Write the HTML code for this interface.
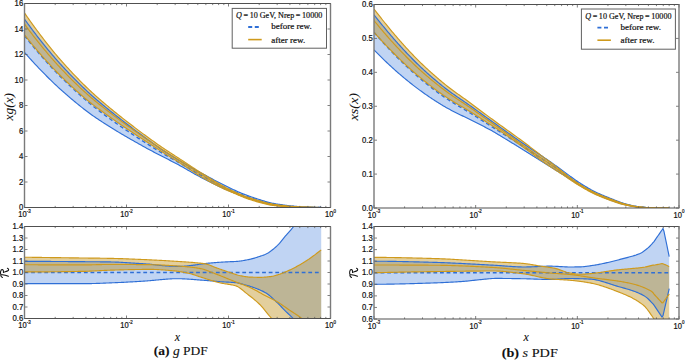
<!DOCTYPE html>
<html><head><meta charset="utf-8"><style>
html,body{margin:0;padding:0;background:#fff;}
svg{display:block;font-family:"Liberation Sans",sans-serif;}
text{stroke:#111;stroke-width:0.22px;}
</style></head><body>
<svg width="685" height="360" viewBox="0 0 685 360">
<rect width="685" height="360" fill="#fff"/>
<defs>
<clipPath id="ctL"><rect x="24.5" y="3.5" width="306.0" height="204.0"/></clipPath>
<clipPath id="crL"><rect x="24.5" y="226.5" width="306.0" height="92.0"/></clipPath>
<clipPath id="ctR"><rect x="374.0" y="4.5" width="305.0" height="203.5"/></clipPath>
<clipPath id="crR"><rect x="374.0" y="226.5" width="305.0" height="92.5"/></clipPath>
</defs>
<g clip-path="url(#ctL)">
<path d="M24.5,19.1 L25.5,20.48 L26.5,21.86 L27.5,23.24 L28.5,24.6 L29.5,25.96 L30.5,27.31 L31.5,28.66 L32.5,29.99 L33.5,31.32 L34.5,32.64 L35.5,33.95 L36.5,35.25 L37.5,36.54 L38.5,37.82 L39.5,39.09 L40.5,40.35 L41.5,41.61 L42.5,42.87 L43.5,44.11 L44.5,45.36 L45.5,46.59 L46.5,47.82 L47.5,49.05 L48.5,50.26 L49.5,51.47 L50.5,52.67 L51.5,53.86 L52.5,55.05 L53.5,56.22 L54.5,57.39 L55.5,58.54 L56.5,59.69 L57.5,60.82 L58.5,61.95 L59.5,63.06 L60.5,64.16 L61.5,65.25 L62.5,66.34 L63.5,67.42 L64.5,68.5 L65.5,69.57 L66.5,70.64 L67.5,71.7 L68.5,72.75 L69.5,73.8 L70.5,74.84 L71.5,75.87 L72.5,76.9 L73.5,77.92 L74.5,78.94 L75.5,79.95 L76.5,80.95 L77.5,81.95 L78.5,82.94 L79.5,83.92 L80.5,84.9 L81.5,85.87 L82.5,86.84 L83.5,87.79 L84.5,88.75 L85.5,89.69 L86.5,90.63 L87.5,91.56 L88.5,92.48 L89.5,93.4 L90.5,94.31 L91.5,95.22 L92.5,96.11 L93.5,96.99 L94.5,97.87 L95.5,98.74 L96.5,99.6 L97.5,100.45 L98.5,101.3 L99.5,102.14 L100.5,102.98 L101.5,103.81 L102.5,104.64 L103.5,105.46 L104.5,106.28 L105.5,107.09 L106.5,107.91 L107.5,108.72 L108.5,109.53 L109.5,110.33 L110.5,111.14 L111.5,111.94 L112.5,112.74 L113.5,113.55 L114.5,114.34 L115.5,115.14 L116.5,115.93 L117.5,116.73 L118.5,117.52 L119.5,118.3 L120.5,119.09 L121.5,119.87 L122.5,120.65 L123.5,121.43 L124.5,122.21 L125.5,122.98 L126.5,123.75 L127.5,124.52 L128.5,125.29 L129.5,126.05 L130.5,126.82 L131.5,127.58 L132.5,128.34 L133.5,129.09 L134.5,129.85 L135.5,130.6 L136.5,131.35 L137.5,132.09 L138.5,132.83 L139.5,133.57 L140.5,134.3 L141.5,135.04 L142.5,135.77 L143.5,136.49 L144.5,137.22 L145.5,137.94 L146.5,138.67 L147.5,139.39 L148.5,140.1 L149.5,140.82 L150.5,141.54 L151.5,142.26 L152.5,142.98 L153.5,143.7 L154.5,144.42 L155.5,145.14 L156.5,145.86 L157.5,146.57 L158.5,147.28 L159.5,147.98 L160.5,148.68 L161.5,149.36 L162.5,150.04 L163.5,150.7 L164.5,151.35 L165.5,151.99 L166.5,152.62 L167.5,153.25 L168.5,153.88 L169.5,154.5 L170.5,155.13 L171.5,155.74 L172.5,156.36 L173.5,156.97 L174.5,157.58 L175.5,158.19 L176.5,158.8 L177.5,159.4 L178.5,160.01 L179.5,160.61 L180.5,161.21 L181.5,161.81 L182.5,162.41 L183.5,163 L184.5,163.58 L185.5,164.17 L186.5,164.75 L187.5,165.33 L188.5,165.91 L189.5,166.49 L190.5,167.07 L191.5,167.65 L192.5,168.23 L193.5,168.8 L194.5,169.37 L195.5,169.93 L196.5,170.48 L197.5,171.03 L198.5,171.57 L199.5,172.11 L200.5,172.64 L201.5,173.17 L202.5,173.71 L203.5,174.24 L204.5,174.78 L205.5,175.33 L206.5,175.87 L207.5,176.42 L208.5,176.96 L209.5,177.5 L210.5,178.04 L211.5,178.58 L212.5,179.12 L213.5,179.66 L214.5,180.19 L215.5,180.72 L216.5,181.25 L217.5,181.77 L218.5,182.3 L219.5,182.81 L220.5,183.33 L221.5,183.84 L222.5,184.35 L223.5,184.85 L224.5,185.35 L225.5,185.84 L226.5,186.33 L227.5,186.81 L228.5,187.29 L229.5,187.76 L230.5,188.23 L231.5,188.71 L232.5,189.18 L233.5,189.65 L234.5,190.11 L235.5,190.57 L236.5,191.03 L237.5,191.47 L238.5,191.91 L239.5,192.35 L240.5,192.77 L241.5,193.19 L242.5,193.6 L243.5,194.01 L244.5,194.4 L245.5,194.79 L246.5,195.16 L247.5,195.53 L248.5,195.89 L249.5,196.24 L250.5,196.58 L251.5,196.92 L252.5,197.26 L253.5,197.59 L254.5,197.93 L255.5,198.27 L256.5,198.6 L257.5,198.93 L258.5,199.26 L259.5,199.59 L260.5,199.92 L261.5,200.24 L262.5,200.55 L263.5,200.86 L264.5,201.16 L265.5,201.45 L266.5,201.74 L267.5,202.01 L268.5,202.28 L269.5,202.53 L270.5,202.77 L271.5,203 L272.5,203.22 L273.5,203.43 L274.5,203.62 L275.5,203.8 L276.5,203.97 L277.5,204.12 L278.5,204.27 L279.5,204.41 L280.5,204.55 L281.5,204.69 L282.5,204.83 L283.5,204.97 L284.5,205.1 L285.5,205.23 L286.5,205.36 L287.5,205.49 L288.5,205.61 L289.5,205.73 L290.5,205.85 L291.5,205.96 L292.5,206.06 L293.5,206.16 L294.5,206.26 L295.5,206.35 L296.5,206.43 L297.5,206.5 L298.5,206.57 L299.5,206.63 L300.5,206.68 L301.5,206.73 L302.5,206.79 L303.5,206.84 L304.5,206.89 L305.5,206.94 L306.5,206.99 L307.5,207.04 L308.5,207.09 L309.5,207.13 L310.5,207.17 L311.5,207.22 L312.5,207.25 L313.5,207.29 L314.5,207.32 L315.5,207.35 L316.5,207.38 L317.5,207.4 L318.5,207.41 L319.5,207.43 L320.5,207.43 L321.2,207.43 L321.2,207.49 L320.5,207.49 L319.5,207.49 L318.5,207.48 L317.5,207.48 L316.5,207.47 L315.5,207.47 L314.5,207.46 L313.5,207.45 L312.5,207.44 L311.5,207.43 L310.5,207.41 L309.5,207.4 L308.5,207.38 L307.5,207.37 L306.5,207.35 L305.5,207.33 L304.5,207.31 L303.5,207.28 L302.5,207.26 L301.5,207.23 L300.5,207.21 L299.5,207.18 L298.5,207.15 L297.5,207.11 L296.5,207.07 L295.5,207.03 L294.5,206.98 L293.5,206.93 L292.5,206.87 L291.5,206.81 L290.5,206.75 L289.5,206.68 L288.5,206.6 L287.5,206.53 L286.5,206.44 L285.5,206.36 L284.5,206.26 L283.5,206.17 L282.5,206.06 L281.5,205.96 L280.5,205.85 L279.5,205.73 L278.5,205.61 L277.5,205.49 L276.5,205.36 L275.5,205.22 L274.5,205.07 L273.5,204.9 L272.5,204.72 L271.5,204.54 L270.5,204.34 L269.5,204.13 L268.5,203.91 L267.5,203.68 L266.5,203.44 L265.5,203.2 L264.5,202.95 L263.5,202.69 L262.5,202.43 L261.5,202.16 L260.5,201.88 L259.5,201.6 L258.5,201.31 L257.5,201.02 L256.5,200.73 L255.5,200.43 L254.5,200.13 L253.5,199.82 L252.5,199.52 L251.5,199.21 L250.5,198.9 L249.5,198.59 L248.5,198.28 L247.5,197.95 L246.5,197.61 L245.5,197.27 L244.5,196.91 L243.5,196.55 L242.5,196.17 L241.5,195.79 L240.5,195.4 L239.5,195.01 L238.5,194.62 L237.5,194.22 L236.5,193.82 L235.5,193.42 L234.5,193.02 L233.5,192.61 L232.5,192.21 L231.5,191.8 L230.5,191.39 L229.5,190.98 L228.5,190.57 L227.5,190.15 L226.5,189.73 L225.5,189.31 L224.5,188.88 L223.5,188.44 L222.5,188 L221.5,187.55 L220.5,187.09 L219.5,186.63 L218.5,186.17 L217.5,185.7 L216.5,185.22 L215.5,184.74 L214.5,184.25 L213.5,183.76 L212.5,183.27 L211.5,182.77 L210.5,182.27 L209.5,181.77 L208.5,181.26 L207.5,180.75 L206.5,180.24 L205.5,179.73 L204.5,179.21 L203.5,178.7 L202.5,178.18 L201.5,177.66 L200.5,177.14 L199.5,176.61 L198.5,176.08 L197.5,175.54 L196.5,174.99 L195.5,174.44 L194.5,173.89 L193.5,173.33 L192.5,172.76 L191.5,172.19 L190.5,171.62 L189.5,171.05 L188.5,170.48 L187.5,169.9 L186.5,169.33 L185.5,168.76 L184.5,168.19 L183.5,167.62 L182.5,167.05 L181.5,166.49 L180.5,165.94 L179.5,165.38 L178.5,164.84 L177.5,164.3 L176.5,163.76 L175.5,163.23 L174.5,162.7 L173.5,162.18 L172.5,161.66 L171.5,161.14 L170.5,160.63 L169.5,160.12 L168.5,159.61 L167.5,159.1 L166.5,158.6 L165.5,158.09 L164.5,157.58 L163.5,157.07 L162.5,156.56 L161.5,156.05 L160.5,155.53 L159.5,155.02 L158.5,154.5 L157.5,153.98 L156.5,153.46 L155.5,152.93 L154.5,152.41 L153.5,151.88 L152.5,151.36 L151.5,150.83 L150.5,150.3 L149.5,149.76 L148.5,149.22 L147.5,148.68 L146.5,148.14 L145.5,147.59 L144.5,147.04 L143.5,146.48 L142.5,145.92 L141.5,145.36 L140.5,144.8 L139.5,144.24 L138.5,143.68 L137.5,143.12 L136.5,142.55 L135.5,141.99 L134.5,141.42 L133.5,140.85 L132.5,140.28 L131.5,139.71 L130.5,139.14 L129.5,138.56 L128.5,137.99 L127.5,137.41 L126.5,136.84 L125.5,136.26 L124.5,135.68 L123.5,135.09 L122.5,134.51 L121.5,133.92 L120.5,133.33 L119.5,132.73 L118.5,132.13 L117.5,131.53 L116.5,130.92 L115.5,130.31 L114.5,129.7 L113.5,129.08 L112.5,128.46 L111.5,127.84 L110.5,127.21 L109.5,126.58 L108.5,125.95 L107.5,125.32 L106.5,124.69 L105.5,124.06 L104.5,123.42 L103.5,122.78 L102.5,122.13 L101.5,121.49 L100.5,120.84 L99.5,120.18 L98.5,119.52 L97.5,118.85 L96.5,118.18 L95.5,117.5 L94.5,116.81 L93.5,116.12 L92.5,115.41 L91.5,114.7 L90.5,113.98 L89.5,113.25 L88.5,112.51 L87.5,111.76 L86.5,111.01 L85.5,110.25 L84.5,109.47 L83.5,108.7 L82.5,107.91 L81.5,107.12 L80.5,106.33 L79.5,105.53 L78.5,104.72 L77.5,103.91 L76.5,103.1 L75.5,102.28 L74.5,101.45 L73.5,100.62 L72.5,99.78 L71.5,98.94 L70.5,98.1 L69.5,97.25 L68.5,96.39 L67.5,95.53 L66.5,94.66 L65.5,93.79 L64.5,92.92 L63.5,92.04 L62.5,91.15 L61.5,90.26 L60.5,89.36 L59.5,88.46 L58.5,87.55 L57.5,86.63 L56.5,85.7 L55.5,84.76 L54.5,83.82 L53.5,82.86 L52.5,81.9 L51.5,80.93 L50.5,79.95 L49.5,78.97 L48.5,77.98 L47.5,76.98 L46.5,75.98 L45.5,74.97 L44.5,73.96 L43.5,72.94 L42.5,71.92 L41.5,70.89 L40.5,69.86 L39.5,68.82 L38.5,67.78 L37.5,66.73 L36.5,65.67 L35.5,64.6 L34.5,63.53 L33.5,62.45 L32.5,61.36 L31.5,60.26 L30.5,59.16 L29.5,58.05 L28.5,56.94 L27.5,55.82 L26.5,54.69 L25.5,53.56 L24.5,52.42 Z" fill="rgba(47,111,214,0.30)" stroke="none"/>
<path d="M24.5,12.92 L25.5,14.36 L26.5,15.81 L27.5,17.24 L28.5,18.67 L29.5,20.09 L30.5,21.5 L31.5,22.9 L32.5,24.29 L33.5,25.67 L34.5,27.05 L35.5,28.41 L36.5,29.77 L37.5,31.11 L38.5,32.45 L39.5,33.77 L40.5,35.09 L41.5,36.4 L42.5,37.7 L43.5,39 L44.5,40.29 L45.5,41.58 L46.5,42.86 L47.5,44.13 L48.5,45.4 L49.5,46.65 L50.5,47.9 L51.5,49.14 L52.5,50.37 L53.5,51.59 L54.5,52.8 L55.5,54 L56.5,55.19 L57.5,56.37 L58.5,57.53 L59.5,58.69 L60.5,59.83 L61.5,60.96 L62.5,62.09 L63.5,63.21 L64.5,64.33 L65.5,65.44 L66.5,66.54 L67.5,67.64 L68.5,68.73 L69.5,69.81 L70.5,70.89 L71.5,71.96 L72.5,73.02 L73.5,74.08 L74.5,75.13 L75.5,76.17 L76.5,77.21 L77.5,78.24 L78.5,79.27 L79.5,80.29 L80.5,81.3 L81.5,82.3 L82.5,83.3 L83.5,84.29 L84.5,85.27 L85.5,86.25 L86.5,87.22 L87.5,88.18 L88.5,89.14 L89.5,90.09 L90.5,91.03 L91.5,91.96 L92.5,92.89 L93.5,93.8 L94.5,94.7 L95.5,95.6 L96.5,96.49 L97.5,97.37 L98.5,98.25 L99.5,99.12 L100.5,99.98 L101.5,100.84 L102.5,101.69 L103.5,102.54 L104.5,103.39 L105.5,104.23 L106.5,105.07 L107.5,105.91 L108.5,106.74 L109.5,107.57 L110.5,108.4 L111.5,109.23 L112.5,110.05 L113.5,110.87 L114.5,111.69 L115.5,112.5 L116.5,113.31 L117.5,114.11 L118.5,114.91 L119.5,115.71 L120.5,116.5 L121.5,117.29 L122.5,118.08 L123.5,118.86 L124.5,119.64 L125.5,120.42 L126.5,121.2 L127.5,121.97 L128.5,122.74 L129.5,123.51 L130.5,124.28 L131.5,125.05 L132.5,125.81 L133.5,126.58 L134.5,127.34 L135.5,128.1 L136.5,128.85 L137.5,129.61 L138.5,130.36 L139.5,131.11 L140.5,131.86 L141.5,132.6 L142.5,133.35 L143.5,134.09 L144.5,134.82 L145.5,135.56 L146.5,136.29 L147.5,137.02 L148.5,137.75 L149.5,138.47 L150.5,139.19 L151.5,139.91 L152.5,140.62 L153.5,141.33 L154.5,142.04 L155.5,142.75 L156.5,143.46 L157.5,144.16 L158.5,144.85 L159.5,145.55 L160.5,146.24 L161.5,146.93 L162.5,147.61 L163.5,148.28 L164.5,148.95 L165.5,149.62 L166.5,150.28 L167.5,150.94 L168.5,151.59 L169.5,152.24 L170.5,152.89 L171.5,153.54 L172.5,154.19 L173.5,154.84 L174.5,155.48 L175.5,156.13 L176.5,156.77 L177.5,157.42 L178.5,158.07 L179.5,158.72 L180.5,159.37 L181.5,160.03 L182.5,160.69 L183.5,161.35 L184.5,162.01 L185.5,162.67 L186.5,163.34 L187.5,164 L188.5,164.67 L189.5,165.33 L190.5,165.99 L191.5,166.65 L192.5,167.3 L193.5,167.95 L194.5,168.6 L195.5,169.25 L196.5,169.88 L197.5,170.52 L198.5,171.14 L199.5,171.76 L200.5,172.37 L201.5,172.98 L202.5,173.59 L203.5,174.21 L204.5,174.82 L205.5,175.44 L206.5,176.06 L207.5,176.69 L208.5,177.33 L209.5,177.98 L210.5,178.63 L211.5,179.28 L212.5,179.92 L213.5,180.55 L214.5,181.17 L215.5,181.78 L216.5,182.37 L217.5,182.96 L218.5,183.55 L219.5,184.12 L220.5,184.69 L221.5,185.25 L222.5,185.8 L223.5,186.34 L224.5,186.88 L225.5,187.41 L226.5,187.92 L227.5,188.43 L228.5,188.93 L229.5,189.43 L230.5,189.92 L231.5,190.4 L232.5,190.89 L233.5,191.37 L234.5,191.84 L235.5,192.3 L236.5,192.76 L237.5,193.21 L238.5,193.64 L239.5,194.07 L240.5,194.48 L241.5,194.89 L242.5,195.29 L243.5,195.68 L244.5,196.06 L245.5,196.43 L246.5,196.79 L247.5,197.14 L248.5,197.47 L249.5,197.8 L250.5,198.11 L251.5,198.42 L252.5,198.73 L253.5,199.04 L254.5,199.35 L255.5,199.65 L256.5,199.96 L257.5,200.26 L258.5,200.56 L259.5,200.85 L260.5,201.14 L261.5,201.42 L262.5,201.7 L263.5,201.97 L264.5,202.23 L265.5,202.49 L266.5,202.74 L267.5,202.98 L268.5,203.21 L269.5,203.44 L270.5,203.65 L271.5,203.85 L272.5,204.04 L273.5,204.22 L274.5,204.39 L275.5,204.55 L276.5,204.69 L277.5,204.82 L278.5,204.95 L279.5,205.07 L280.5,205.2 L281.5,205.32 L282.5,205.43 L283.5,205.55 L284.5,205.66 L285.5,205.77 L286.5,205.88 L287.5,205.98 L288.5,206.08 L289.5,206.17 L290.5,206.26 L291.5,206.35 L292.5,206.43 L293.5,206.51 L294.5,206.58 L295.5,206.65 L296.5,206.71 L297.5,206.77 L298.5,206.82 L299.5,206.87 L300.5,206.91 L301.5,206.95 L302.5,206.99 L303.5,207.02 L304.5,207.06 L305.5,207.1 L306.5,207.14 L307.5,207.17 L308.5,207.21 L309.5,207.24 L310.5,207.27 L311.5,207.3 L312.5,207.33 L313.5,207.35 L314.5,207.38 L315.5,207.4 L316.5,207.41 L317.5,207.43 L318.5,207.44 L319.5,207.45 L320.5,207.45 L321.2,207.45 L321.2,207.49 L320.5,207.49 L319.5,207.49 L318.5,207.49 L317.5,207.49 L316.5,207.48 L315.5,207.48 L314.5,207.47 L313.5,207.47 L312.5,207.46 L311.5,207.45 L310.5,207.44 L309.5,207.43 L308.5,207.42 L307.5,207.41 L306.5,207.4 L305.5,207.39 L304.5,207.37 L303.5,207.36 L302.5,207.34 L301.5,207.32 L300.5,207.31 L299.5,207.29 L298.5,207.27 L297.5,207.24 L296.5,207.21 L295.5,207.18 L294.5,207.15 L293.5,207.11 L292.5,207.07 L291.5,207.03 L290.5,206.98 L289.5,206.93 L288.5,206.87 L287.5,206.81 L286.5,206.75 L285.5,206.68 L284.5,206.61 L283.5,206.54 L282.5,206.46 L281.5,206.38 L280.5,206.29 L279.5,206.2 L278.5,206.1 L277.5,206 L276.5,205.9 L275.5,205.79 L274.5,205.66 L273.5,205.53 L272.5,205.38 L271.5,205.23 L270.5,205.06 L269.5,204.88 L268.5,204.68 L267.5,204.48 L266.5,204.26 L265.5,204.03 L264.5,203.79 L263.5,203.54 L262.5,203.28 L261.5,203.02 L260.5,202.75 L259.5,202.47 L258.5,202.19 L257.5,201.9 L256.5,201.61 L255.5,201.31 L254.5,201.01 L253.5,200.7 L252.5,200.39 L251.5,200.07 L250.5,199.76 L249.5,199.43 L248.5,199.1 L247.5,198.75 L246.5,198.4 L245.5,198.02 L244.5,197.63 L243.5,197.23 L242.5,196.82 L241.5,196.4 L240.5,195.97 L239.5,195.54 L238.5,195.11 L237.5,194.68 L236.5,194.25 L235.5,193.84 L234.5,193.42 L233.5,193.01 L232.5,192.59 L231.5,192.17 L230.5,191.75 L229.5,191.33 L228.5,190.91 L227.5,190.49 L226.5,190.06 L225.5,189.62 L224.5,189.18 L223.5,188.73 L222.5,188.27 L221.5,187.81 L220.5,187.33 L219.5,186.84 L218.5,186.35 L217.5,185.85 L216.5,185.34 L215.5,184.82 L214.5,184.29 L213.5,183.76 L212.5,183.22 L211.5,182.67 L210.5,182.12 L209.5,181.56 L208.5,180.99 L207.5,180.42 L206.5,179.84 L205.5,179.26 L204.5,178.67 L203.5,178.08 L202.5,177.48 L201.5,176.88 L200.5,176.28 L199.5,175.67 L198.5,175.05 L197.5,174.42 L196.5,173.77 L195.5,173.12 L194.5,172.46 L193.5,171.79 L192.5,171.13 L191.5,170.46 L190.5,169.8 L189.5,169.14 L188.5,168.49 L187.5,167.83 L186.5,167.17 L185.5,166.51 L184.5,165.86 L183.5,165.2 L182.5,164.55 L181.5,163.9 L180.5,163.26 L179.5,162.62 L178.5,161.98 L177.5,161.35 L176.5,160.73 L175.5,160.11 L174.5,159.49 L173.5,158.88 L172.5,158.27 L171.5,157.65 L170.5,157.04 L169.5,156.42 L168.5,155.8 L167.5,155.18 L166.5,154.56 L165.5,153.94 L164.5,153.31 L163.5,152.68 L162.5,152.04 L161.5,151.4 L160.5,150.76 L159.5,150.12 L158.5,149.47 L157.5,148.82 L156.5,148.17 L155.5,147.52 L154.5,146.87 L153.5,146.23 L152.5,145.58 L151.5,144.93 L150.5,144.29 L149.5,143.64 L148.5,143 L147.5,142.35 L146.5,141.7 L145.5,141.05 L144.5,140.4 L143.5,139.75 L142.5,139.1 L141.5,138.44 L140.5,137.79 L139.5,137.13 L138.5,136.47 L137.5,135.82 L136.5,135.16 L135.5,134.5 L134.5,133.83 L133.5,133.17 L132.5,132.51 L131.5,131.84 L130.5,131.18 L129.5,130.51 L128.5,129.85 L127.5,129.18 L126.5,128.51 L125.5,127.84 L124.5,127.17 L123.5,126.5 L122.5,125.82 L121.5,125.14 L120.5,124.46 L119.5,123.78 L118.5,123.09 L117.5,122.4 L116.5,121.71 L115.5,121.01 L114.5,120.31 L113.5,119.61 L112.5,118.9 L111.5,118.19 L110.5,117.47 L109.5,116.76 L108.5,116.04 L107.5,115.32 L106.5,114.61 L105.5,113.89 L104.5,113.18 L103.5,112.46 L102.5,111.74 L101.5,111.03 L100.5,110.3 L99.5,109.58 L98.5,108.85 L97.5,108.11 L96.5,107.37 L95.5,106.63 L94.5,105.87 L93.5,105.11 L92.5,104.34 L91.5,103.57 L90.5,102.78 L89.5,101.98 L88.5,101.17 L87.5,100.36 L86.5,99.53 L85.5,98.7 L84.5,97.85 L83.5,97 L82.5,96.14 L81.5,95.27 L80.5,94.4 L79.5,93.52 L78.5,92.63 L77.5,91.75 L76.5,90.85 L75.5,89.95 L74.5,89.04 L73.5,88.13 L72.5,87.21 L71.5,86.29 L70.5,85.36 L69.5,84.42 L68.5,83.48 L67.5,82.54 L66.5,81.59 L65.5,80.63 L64.5,79.67 L63.5,78.7 L62.5,77.72 L61.5,76.74 L60.5,75.76 L59.5,74.77 L58.5,73.77 L57.5,72.75 L56.5,71.73 L55.5,70.7 L54.5,69.66 L53.5,68.6 L52.5,67.54 L51.5,66.47 L50.5,65.4 L49.5,64.31 L48.5,63.22 L47.5,62.12 L46.5,61.01 L45.5,59.9 L44.5,58.78 L43.5,57.65 L42.5,56.52 L41.5,55.39 L40.5,54.25 L39.5,53.1 L38.5,51.95 L37.5,50.78 L36.5,49.61 L35.5,48.43 L34.5,47.24 L33.5,46.04 L32.5,44.83 L31.5,43.62 L30.5,42.4 L29.5,41.16 L28.5,39.93 L27.5,38.68 L26.5,37.43 L25.5,36.17 L24.5,34.9 Z" fill="rgba(184,134,11,0.40)" stroke="none"/>
<path d="M24.5,19.1 L25.5,20.48 L26.5,21.86 L27.5,23.24 L28.5,24.6 L29.5,25.96 L30.5,27.31 L31.5,28.66 L32.5,29.99 L33.5,31.32 L34.5,32.64 L35.5,33.95 L36.5,35.25 L37.5,36.54 L38.5,37.82 L39.5,39.09 L40.5,40.35 L41.5,41.61 L42.5,42.87 L43.5,44.11 L44.5,45.36 L45.5,46.59 L46.5,47.82 L47.5,49.05 L48.5,50.26 L49.5,51.47 L50.5,52.67 L51.5,53.86 L52.5,55.05 L53.5,56.22 L54.5,57.39 L55.5,58.54 L56.5,59.69 L57.5,60.82 L58.5,61.95 L59.5,63.06 L60.5,64.16 L61.5,65.25 L62.5,66.34 L63.5,67.42 L64.5,68.5 L65.5,69.57 L66.5,70.64 L67.5,71.7 L68.5,72.75 L69.5,73.8 L70.5,74.84 L71.5,75.87 L72.5,76.9 L73.5,77.92 L74.5,78.94 L75.5,79.95 L76.5,80.95 L77.5,81.95 L78.5,82.94 L79.5,83.92 L80.5,84.9 L81.5,85.87 L82.5,86.84 L83.5,87.79 L84.5,88.75 L85.5,89.69 L86.5,90.63 L87.5,91.56 L88.5,92.48 L89.5,93.4 L90.5,94.31 L91.5,95.22 L92.5,96.11 L93.5,96.99 L94.5,97.87 L95.5,98.74 L96.5,99.6 L97.5,100.45 L98.5,101.3 L99.5,102.14 L100.5,102.98 L101.5,103.81 L102.5,104.64 L103.5,105.46 L104.5,106.28 L105.5,107.09 L106.5,107.91 L107.5,108.72 L108.5,109.53 L109.5,110.33 L110.5,111.14 L111.5,111.94 L112.5,112.74 L113.5,113.55 L114.5,114.34 L115.5,115.14 L116.5,115.93 L117.5,116.73 L118.5,117.52 L119.5,118.3 L120.5,119.09 L121.5,119.87 L122.5,120.65 L123.5,121.43 L124.5,122.21 L125.5,122.98 L126.5,123.75 L127.5,124.52 L128.5,125.29 L129.5,126.05 L130.5,126.82 L131.5,127.58 L132.5,128.34 L133.5,129.09 L134.5,129.85 L135.5,130.6 L136.5,131.35 L137.5,132.09 L138.5,132.83 L139.5,133.57 L140.5,134.3 L141.5,135.04 L142.5,135.77 L143.5,136.49 L144.5,137.22 L145.5,137.94 L146.5,138.67 L147.5,139.39 L148.5,140.1 L149.5,140.82 L150.5,141.54 L151.5,142.26 L152.5,142.98 L153.5,143.7 L154.5,144.42 L155.5,145.14 L156.5,145.86 L157.5,146.57 L158.5,147.28 L159.5,147.98 L160.5,148.68 L161.5,149.36 L162.5,150.04 L163.5,150.7 L164.5,151.35 L165.5,151.99 L166.5,152.62 L167.5,153.25 L168.5,153.88 L169.5,154.5 L170.5,155.13 L171.5,155.74 L172.5,156.36 L173.5,156.97 L174.5,157.58 L175.5,158.19 L176.5,158.8 L177.5,159.4 L178.5,160.01 L179.5,160.61 L180.5,161.21 L181.5,161.81 L182.5,162.41 L183.5,163 L184.5,163.58 L185.5,164.17 L186.5,164.75 L187.5,165.33 L188.5,165.91 L189.5,166.49 L190.5,167.07 L191.5,167.65 L192.5,168.23 L193.5,168.8 L194.5,169.37 L195.5,169.93 L196.5,170.48 L197.5,171.03 L198.5,171.57 L199.5,172.11 L200.5,172.64 L201.5,173.17 L202.5,173.71 L203.5,174.24 L204.5,174.78 L205.5,175.33 L206.5,175.87 L207.5,176.42 L208.5,176.96 L209.5,177.5 L210.5,178.04 L211.5,178.58 L212.5,179.12 L213.5,179.66 L214.5,180.19 L215.5,180.72 L216.5,181.25 L217.5,181.77 L218.5,182.3 L219.5,182.81 L220.5,183.33 L221.5,183.84 L222.5,184.35 L223.5,184.85 L224.5,185.35 L225.5,185.84 L226.5,186.33 L227.5,186.81 L228.5,187.29 L229.5,187.76 L230.5,188.23 L231.5,188.71 L232.5,189.18 L233.5,189.65 L234.5,190.11 L235.5,190.57 L236.5,191.03 L237.5,191.47 L238.5,191.91 L239.5,192.35 L240.5,192.77 L241.5,193.19 L242.5,193.6 L243.5,194.01 L244.5,194.4 L245.5,194.79 L246.5,195.16 L247.5,195.53 L248.5,195.89 L249.5,196.24 L250.5,196.58 L251.5,196.92 L252.5,197.26 L253.5,197.59 L254.5,197.93 L255.5,198.27 L256.5,198.6 L257.5,198.93 L258.5,199.26 L259.5,199.59 L260.5,199.92 L261.5,200.24 L262.5,200.55 L263.5,200.86 L264.5,201.16 L265.5,201.45 L266.5,201.74 L267.5,202.01 L268.5,202.28 L269.5,202.53 L270.5,202.77 L271.5,203 L272.5,203.22 L273.5,203.43 L274.5,203.62 L275.5,203.8 L276.5,203.97 L277.5,204.12 L278.5,204.27 L279.5,204.41 L280.5,204.55 L281.5,204.69 L282.5,204.83 L283.5,204.97 L284.5,205.1 L285.5,205.23 L286.5,205.36 L287.5,205.49 L288.5,205.61 L289.5,205.73 L290.5,205.85 L291.5,205.96 L292.5,206.06 L293.5,206.16 L294.5,206.26 L295.5,206.35 L296.5,206.43 L297.5,206.5 L298.5,206.57 L299.5,206.63 L300.5,206.68 L301.5,206.73 L302.5,206.79 L303.5,206.84 L304.5,206.89 L305.5,206.94 L306.5,206.99 L307.5,207.04 L308.5,207.09 L309.5,207.13 L310.5,207.17 L311.5,207.22 L312.5,207.25 L313.5,207.29 L314.5,207.32 L315.5,207.35 L316.5,207.38 L317.5,207.4 L318.5,207.41 L319.5,207.43 L320.5,207.43 L321.2,207.43" fill="none" stroke="#2f6fd6" stroke-width="1.15"/>
<path d="M24.5,52.42 L25.5,53.56 L26.5,54.69 L27.5,55.82 L28.5,56.94 L29.5,58.05 L30.5,59.16 L31.5,60.26 L32.5,61.36 L33.5,62.45 L34.5,63.53 L35.5,64.6 L36.5,65.67 L37.5,66.73 L38.5,67.78 L39.5,68.82 L40.5,69.86 L41.5,70.89 L42.5,71.92 L43.5,72.94 L44.5,73.96 L45.5,74.97 L46.5,75.98 L47.5,76.98 L48.5,77.98 L49.5,78.97 L50.5,79.95 L51.5,80.93 L52.5,81.9 L53.5,82.86 L54.5,83.82 L55.5,84.76 L56.5,85.7 L57.5,86.63 L58.5,87.55 L59.5,88.46 L60.5,89.36 L61.5,90.26 L62.5,91.15 L63.5,92.04 L64.5,92.92 L65.5,93.79 L66.5,94.66 L67.5,95.53 L68.5,96.39 L69.5,97.25 L70.5,98.1 L71.5,98.94 L72.5,99.78 L73.5,100.62 L74.5,101.45 L75.5,102.28 L76.5,103.1 L77.5,103.91 L78.5,104.72 L79.5,105.53 L80.5,106.33 L81.5,107.12 L82.5,107.91 L83.5,108.7 L84.5,109.47 L85.5,110.25 L86.5,111.01 L87.5,111.76 L88.5,112.51 L89.5,113.25 L90.5,113.98 L91.5,114.7 L92.5,115.41 L93.5,116.12 L94.5,116.81 L95.5,117.5 L96.5,118.18 L97.5,118.85 L98.5,119.52 L99.5,120.18 L100.5,120.84 L101.5,121.49 L102.5,122.13 L103.5,122.78 L104.5,123.42 L105.5,124.06 L106.5,124.69 L107.5,125.32 L108.5,125.95 L109.5,126.58 L110.5,127.21 L111.5,127.84 L112.5,128.46 L113.5,129.08 L114.5,129.7 L115.5,130.31 L116.5,130.92 L117.5,131.53 L118.5,132.13 L119.5,132.73 L120.5,133.33 L121.5,133.92 L122.5,134.51 L123.5,135.09 L124.5,135.68 L125.5,136.26 L126.5,136.84 L127.5,137.41 L128.5,137.99 L129.5,138.56 L130.5,139.14 L131.5,139.71 L132.5,140.28 L133.5,140.85 L134.5,141.42 L135.5,141.99 L136.5,142.55 L137.5,143.12 L138.5,143.68 L139.5,144.24 L140.5,144.8 L141.5,145.36 L142.5,145.92 L143.5,146.48 L144.5,147.04 L145.5,147.59 L146.5,148.14 L147.5,148.68 L148.5,149.22 L149.5,149.76 L150.5,150.3 L151.5,150.83 L152.5,151.36 L153.5,151.88 L154.5,152.41 L155.5,152.93 L156.5,153.46 L157.5,153.98 L158.5,154.5 L159.5,155.02 L160.5,155.53 L161.5,156.05 L162.5,156.56 L163.5,157.07 L164.5,157.58 L165.5,158.09 L166.5,158.6 L167.5,159.1 L168.5,159.61 L169.5,160.12 L170.5,160.63 L171.5,161.14 L172.5,161.66 L173.5,162.18 L174.5,162.7 L175.5,163.23 L176.5,163.76 L177.5,164.3 L178.5,164.84 L179.5,165.38 L180.5,165.94 L181.5,166.49 L182.5,167.05 L183.5,167.62 L184.5,168.19 L185.5,168.76 L186.5,169.33 L187.5,169.9 L188.5,170.48 L189.5,171.05 L190.5,171.62 L191.5,172.19 L192.5,172.76 L193.5,173.33 L194.5,173.89 L195.5,174.44 L196.5,174.99 L197.5,175.54 L198.5,176.08 L199.5,176.61 L200.5,177.14 L201.5,177.66 L202.5,178.18 L203.5,178.7 L204.5,179.21 L205.5,179.73 L206.5,180.24 L207.5,180.75 L208.5,181.26 L209.5,181.77 L210.5,182.27 L211.5,182.77 L212.5,183.27 L213.5,183.76 L214.5,184.25 L215.5,184.74 L216.5,185.22 L217.5,185.7 L218.5,186.17 L219.5,186.63 L220.5,187.09 L221.5,187.55 L222.5,188 L223.5,188.44 L224.5,188.88 L225.5,189.31 L226.5,189.73 L227.5,190.15 L228.5,190.57 L229.5,190.98 L230.5,191.39 L231.5,191.8 L232.5,192.21 L233.5,192.61 L234.5,193.02 L235.5,193.42 L236.5,193.82 L237.5,194.22 L238.5,194.62 L239.5,195.01 L240.5,195.4 L241.5,195.79 L242.5,196.17 L243.5,196.55 L244.5,196.91 L245.5,197.27 L246.5,197.61 L247.5,197.95 L248.5,198.28 L249.5,198.59 L250.5,198.9 L251.5,199.21 L252.5,199.52 L253.5,199.82 L254.5,200.13 L255.5,200.43 L256.5,200.73 L257.5,201.02 L258.5,201.31 L259.5,201.6 L260.5,201.88 L261.5,202.16 L262.5,202.43 L263.5,202.69 L264.5,202.95 L265.5,203.2 L266.5,203.44 L267.5,203.68 L268.5,203.91 L269.5,204.13 L270.5,204.34 L271.5,204.54 L272.5,204.72 L273.5,204.9 L274.5,205.07 L275.5,205.22 L276.5,205.36 L277.5,205.49 L278.5,205.61 L279.5,205.73 L280.5,205.85 L281.5,205.96 L282.5,206.06 L283.5,206.17 L284.5,206.26 L285.5,206.36 L286.5,206.44 L287.5,206.53 L288.5,206.6 L289.5,206.68 L290.5,206.75 L291.5,206.81 L292.5,206.87 L293.5,206.93 L294.5,206.98 L295.5,207.03 L296.5,207.07 L297.5,207.11 L298.5,207.15 L299.5,207.18 L300.5,207.21 L301.5,207.23 L302.5,207.26 L303.5,207.28 L304.5,207.31 L305.5,207.33 L306.5,207.35 L307.5,207.37 L308.5,207.38 L309.5,207.4 L310.5,207.41 L311.5,207.43 L312.5,207.44 L313.5,207.45 L314.5,207.46 L315.5,207.47 L316.5,207.47 L317.5,207.48 L318.5,207.48 L319.5,207.49 L320.5,207.49 L321.2,207.49" fill="none" stroke="#2f6fd6" stroke-width="1.15"/>
<path d="M24.5,35.76 L25.5,37.02 L26.5,38.27 L27.5,39.52 L28.5,40.76 L29.5,42 L30.5,43.23 L31.5,44.45 L32.5,45.66 L33.5,46.87 L34.5,48.06 L35.5,49.25 L36.5,50.43 L37.5,51.61 L38.5,52.77 L39.5,53.93 L40.5,55.07 L41.5,56.21 L42.5,57.35 L43.5,58.48 L44.5,59.61 L45.5,60.73 L46.5,61.85 L47.5,62.96 L48.5,64.07 L49.5,65.16 L50.5,66.25 L51.5,67.34 L52.5,68.41 L53.5,69.48 L54.5,70.53 L55.5,71.58 L56.5,72.62 L57.5,73.65 L58.5,74.67 L59.5,75.68 L60.5,76.67 L61.5,77.66 L62.5,78.65 L63.5,79.63 L64.5,80.61 L65.5,81.58 L66.5,82.54 L67.5,83.5 L68.5,84.45 L69.5,85.4 L70.5,86.34 L71.5,87.28 L72.5,88.21 L73.5,89.14 L74.5,90.06 L75.5,90.97 L76.5,91.88 L77.5,92.78 L78.5,93.68 L79.5,94.57 L80.5,95.46 L81.5,96.34 L82.5,97.21 L83.5,98.08 L84.5,98.95 L85.5,99.8 L86.5,100.65 L87.5,101.5 L88.5,102.34 L89.5,103.17 L90.5,104 L91.5,104.82 L92.5,105.63 L93.5,106.43 L94.5,107.23 L95.5,108.02 L96.5,108.8 L97.5,109.58 L98.5,110.34 L99.5,111.11 L100.5,111.87 L101.5,112.62 L102.5,113.37 L103.5,114.12 L104.5,114.86 L105.5,115.6 L106.5,116.33 L107.5,117.06 L108.5,117.79 L109.5,118.52 L110.5,119.25 L111.5,119.97 L112.5,120.69 L113.5,121.41 L114.5,122.12 L115.5,122.82 L116.5,123.52 L117.5,124.22 L118.5,124.92 L119.5,125.61 L120.5,126.3 L121.5,126.98 L122.5,127.66 L123.5,128.34 L124.5,129.02 L125.5,129.69 L126.5,130.36 L127.5,131.03 L128.5,131.7 L129.5,132.36 L130.5,133.03 L131.5,133.69 L132.5,134.35 L133.5,135.01 L134.5,135.67 L135.5,136.33 L136.5,136.98 L137.5,137.64 L138.5,138.29 L139.5,138.94 L140.5,139.58 L141.5,140.23 L142.5,140.87 L143.5,141.51 L144.5,142.15 L145.5,142.79 L146.5,143.43 L147.5,144.06 L148.5,144.69 L149.5,145.32 L150.5,145.95 L151.5,146.57 L152.5,147.19 L153.5,147.81 L154.5,148.43 L155.5,149.05 L156.5,149.66 L157.5,150.27 L158.5,150.88 L159.5,151.48 L160.5,152.08 L161.5,152.68 L162.5,153.27 L163.5,153.86 L164.5,154.44 L165.5,155.02 L166.5,155.6 L167.5,156.17 L168.5,156.74 L169.5,157.31 L170.5,157.87 L171.5,158.44 L172.5,159 L173.5,159.57 L174.5,160.13 L175.5,160.7 L176.5,161.26 L177.5,161.83 L178.5,162.4 L179.5,162.97 L180.5,163.54 L181.5,164.12 L182.5,164.7 L183.5,165.28 L184.5,165.87 L185.5,166.45 L186.5,167.04 L187.5,167.63 L188.5,168.21 L189.5,168.8 L190.5,169.38 L191.5,169.96 L192.5,170.54 L193.5,171.11 L194.5,171.68 L195.5,172.25 L196.5,172.81 L197.5,173.37 L198.5,173.92 L199.5,174.46 L200.5,175 L201.5,175.54 L202.5,176.07 L203.5,176.61 L204.5,177.14 L205.5,177.67 L206.5,178.2 L207.5,178.72 L208.5,179.25 L209.5,179.77 L210.5,180.29 L211.5,180.81 L212.5,181.32 L213.5,181.83 L214.5,182.34 L215.5,182.85 L216.5,183.35 L217.5,183.84 L218.5,184.34 L219.5,184.83 L220.5,185.31 L221.5,185.79 L222.5,186.27 L223.5,186.74 L224.5,187.2 L225.5,187.66 L226.5,188.12 L227.5,188.57 L228.5,189.01 L229.5,189.45 L230.5,189.89 L231.5,190.33 L232.5,190.76 L233.5,191.2 L234.5,191.63 L235.5,192.05 L236.5,192.47 L237.5,192.89 L238.5,193.3 L239.5,193.71 L240.5,194.11 L241.5,194.51 L242.5,194.9 L243.5,195.28 L244.5,195.65 L245.5,196.02 L246.5,196.37 L247.5,196.72 L248.5,197.06 L249.5,197.39 L250.5,197.72 L251.5,198.04 L252.5,198.36 L253.5,198.68 L254.5,199 L255.5,199.31 L256.5,199.63 L257.5,199.94 L258.5,200.25 L259.5,200.56 L260.5,200.86 L261.5,201.16 L262.5,201.45 L263.5,201.73 L264.5,202.01 L265.5,202.28 L266.5,202.54 L267.5,202.8 L268.5,203.04 L269.5,203.28 L270.5,203.51 L271.5,203.72 L272.5,203.93 L273.5,204.12 L274.5,204.3 L275.5,204.47 L276.5,204.62 L277.5,204.76 L278.5,204.9 L279.5,205.04 L280.5,205.17 L281.5,205.3 L282.5,205.42 L283.5,205.55 L284.5,205.66 L285.5,205.78 L286.5,205.89 L287.5,206 L288.5,206.1 L289.5,206.2 L290.5,206.29 L291.5,206.38 L292.5,206.46 L293.5,206.54 L294.5,206.62 L295.5,206.69 L296.5,206.75 L297.5,206.81 L298.5,206.86 L299.5,206.91 L300.5,206.95 L301.5,206.99 L302.5,207.02 L303.5,207.06 L304.5,207.1 L305.5,207.14 L306.5,207.17 L307.5,207.2 L308.5,207.24 L309.5,207.27 L310.5,207.3 L311.5,207.32 L312.5,207.35 L313.5,207.37 L314.5,207.39 L315.5,207.41 L316.5,207.43 L317.5,207.44 L318.5,207.45 L319.5,207.46 L320.5,207.46 L321.2,207.46" fill="none" stroke="#2f6fd6" stroke-width="1.4" stroke-dasharray="3.8 2.8"/>
<path d="M24.5,12.92 L25.5,14.36 L26.5,15.81 L27.5,17.24 L28.5,18.67 L29.5,20.09 L30.5,21.5 L31.5,22.9 L32.5,24.29 L33.5,25.67 L34.5,27.05 L35.5,28.41 L36.5,29.77 L37.5,31.11 L38.5,32.45 L39.5,33.77 L40.5,35.09 L41.5,36.4 L42.5,37.7 L43.5,39 L44.5,40.29 L45.5,41.58 L46.5,42.86 L47.5,44.13 L48.5,45.4 L49.5,46.65 L50.5,47.9 L51.5,49.14 L52.5,50.37 L53.5,51.59 L54.5,52.8 L55.5,54 L56.5,55.19 L57.5,56.37 L58.5,57.53 L59.5,58.69 L60.5,59.83 L61.5,60.96 L62.5,62.09 L63.5,63.21 L64.5,64.33 L65.5,65.44 L66.5,66.54 L67.5,67.64 L68.5,68.73 L69.5,69.81 L70.5,70.89 L71.5,71.96 L72.5,73.02 L73.5,74.08 L74.5,75.13 L75.5,76.17 L76.5,77.21 L77.5,78.24 L78.5,79.27 L79.5,80.29 L80.5,81.3 L81.5,82.3 L82.5,83.3 L83.5,84.29 L84.5,85.27 L85.5,86.25 L86.5,87.22 L87.5,88.18 L88.5,89.14 L89.5,90.09 L90.5,91.03 L91.5,91.96 L92.5,92.89 L93.5,93.8 L94.5,94.7 L95.5,95.6 L96.5,96.49 L97.5,97.37 L98.5,98.25 L99.5,99.12 L100.5,99.98 L101.5,100.84 L102.5,101.69 L103.5,102.54 L104.5,103.39 L105.5,104.23 L106.5,105.07 L107.5,105.91 L108.5,106.74 L109.5,107.57 L110.5,108.4 L111.5,109.23 L112.5,110.05 L113.5,110.87 L114.5,111.69 L115.5,112.5 L116.5,113.31 L117.5,114.11 L118.5,114.91 L119.5,115.71 L120.5,116.5 L121.5,117.29 L122.5,118.08 L123.5,118.86 L124.5,119.64 L125.5,120.42 L126.5,121.2 L127.5,121.97 L128.5,122.74 L129.5,123.51 L130.5,124.28 L131.5,125.05 L132.5,125.81 L133.5,126.58 L134.5,127.34 L135.5,128.1 L136.5,128.85 L137.5,129.61 L138.5,130.36 L139.5,131.11 L140.5,131.86 L141.5,132.6 L142.5,133.35 L143.5,134.09 L144.5,134.82 L145.5,135.56 L146.5,136.29 L147.5,137.02 L148.5,137.75 L149.5,138.47 L150.5,139.19 L151.5,139.91 L152.5,140.62 L153.5,141.33 L154.5,142.04 L155.5,142.75 L156.5,143.46 L157.5,144.16 L158.5,144.85 L159.5,145.55 L160.5,146.24 L161.5,146.93 L162.5,147.61 L163.5,148.28 L164.5,148.95 L165.5,149.62 L166.5,150.28 L167.5,150.94 L168.5,151.59 L169.5,152.24 L170.5,152.89 L171.5,153.54 L172.5,154.19 L173.5,154.84 L174.5,155.48 L175.5,156.13 L176.5,156.77 L177.5,157.42 L178.5,158.07 L179.5,158.72 L180.5,159.37 L181.5,160.03 L182.5,160.69 L183.5,161.35 L184.5,162.01 L185.5,162.67 L186.5,163.34 L187.5,164 L188.5,164.67 L189.5,165.33 L190.5,165.99 L191.5,166.65 L192.5,167.3 L193.5,167.95 L194.5,168.6 L195.5,169.25 L196.5,169.88 L197.5,170.52 L198.5,171.14 L199.5,171.76 L200.5,172.37 L201.5,172.98 L202.5,173.59 L203.5,174.21 L204.5,174.82 L205.5,175.44 L206.5,176.06 L207.5,176.69 L208.5,177.33 L209.5,177.98 L210.5,178.63 L211.5,179.28 L212.5,179.92 L213.5,180.55 L214.5,181.17 L215.5,181.78 L216.5,182.37 L217.5,182.96 L218.5,183.55 L219.5,184.12 L220.5,184.69 L221.5,185.25 L222.5,185.8 L223.5,186.34 L224.5,186.88 L225.5,187.41 L226.5,187.92 L227.5,188.43 L228.5,188.93 L229.5,189.43 L230.5,189.92 L231.5,190.4 L232.5,190.89 L233.5,191.37 L234.5,191.84 L235.5,192.3 L236.5,192.76 L237.5,193.21 L238.5,193.64 L239.5,194.07 L240.5,194.48 L241.5,194.89 L242.5,195.29 L243.5,195.68 L244.5,196.06 L245.5,196.43 L246.5,196.79 L247.5,197.14 L248.5,197.47 L249.5,197.8 L250.5,198.11 L251.5,198.42 L252.5,198.73 L253.5,199.04 L254.5,199.35 L255.5,199.65 L256.5,199.96 L257.5,200.26 L258.5,200.56 L259.5,200.85 L260.5,201.14 L261.5,201.42 L262.5,201.7 L263.5,201.97 L264.5,202.23 L265.5,202.49 L266.5,202.74 L267.5,202.98 L268.5,203.21 L269.5,203.44 L270.5,203.65 L271.5,203.85 L272.5,204.04 L273.5,204.22 L274.5,204.39 L275.5,204.55 L276.5,204.69 L277.5,204.82 L278.5,204.95 L279.5,205.07 L280.5,205.2 L281.5,205.32 L282.5,205.43 L283.5,205.55 L284.5,205.66 L285.5,205.77 L286.5,205.88 L287.5,205.98 L288.5,206.08 L289.5,206.17 L290.5,206.26 L291.5,206.35 L292.5,206.43 L293.5,206.51 L294.5,206.58 L295.5,206.65 L296.5,206.71 L297.5,206.77 L298.5,206.82 L299.5,206.87 L300.5,206.91 L301.5,206.95 L302.5,206.99 L303.5,207.02 L304.5,207.06 L305.5,207.1 L306.5,207.14 L307.5,207.17 L308.5,207.21 L309.5,207.24 L310.5,207.27 L311.5,207.3 L312.5,207.33 L313.5,207.35 L314.5,207.38 L315.5,207.4 L316.5,207.41 L317.5,207.43 L318.5,207.44 L319.5,207.45 L320.5,207.45 L321.2,207.45" fill="none" stroke="#cf9a1c" stroke-width="1.15"/>
<path d="M24.5,34.9 L25.5,36.17 L26.5,37.43 L27.5,38.68 L28.5,39.93 L29.5,41.16 L30.5,42.4 L31.5,43.62 L32.5,44.83 L33.5,46.04 L34.5,47.24 L35.5,48.43 L36.5,49.61 L37.5,50.78 L38.5,51.95 L39.5,53.1 L40.5,54.25 L41.5,55.39 L42.5,56.52 L43.5,57.65 L44.5,58.78 L45.5,59.9 L46.5,61.01 L47.5,62.12 L48.5,63.22 L49.5,64.31 L50.5,65.4 L51.5,66.47 L52.5,67.54 L53.5,68.6 L54.5,69.66 L55.5,70.7 L56.5,71.73 L57.5,72.75 L58.5,73.77 L59.5,74.77 L60.5,75.76 L61.5,76.74 L62.5,77.72 L63.5,78.7 L64.5,79.67 L65.5,80.63 L66.5,81.59 L67.5,82.54 L68.5,83.48 L69.5,84.42 L70.5,85.36 L71.5,86.29 L72.5,87.21 L73.5,88.13 L74.5,89.04 L75.5,89.95 L76.5,90.85 L77.5,91.75 L78.5,92.63 L79.5,93.52 L80.5,94.4 L81.5,95.27 L82.5,96.14 L83.5,97 L84.5,97.85 L85.5,98.7 L86.5,99.53 L87.5,100.36 L88.5,101.17 L89.5,101.98 L90.5,102.78 L91.5,103.57 L92.5,104.34 L93.5,105.11 L94.5,105.87 L95.5,106.63 L96.5,107.37 L97.5,108.11 L98.5,108.85 L99.5,109.58 L100.5,110.3 L101.5,111.03 L102.5,111.74 L103.5,112.46 L104.5,113.18 L105.5,113.89 L106.5,114.61 L107.5,115.32 L108.5,116.04 L109.5,116.76 L110.5,117.47 L111.5,118.19 L112.5,118.9 L113.5,119.61 L114.5,120.31 L115.5,121.01 L116.5,121.71 L117.5,122.4 L118.5,123.09 L119.5,123.78 L120.5,124.46 L121.5,125.14 L122.5,125.82 L123.5,126.5 L124.5,127.17 L125.5,127.84 L126.5,128.51 L127.5,129.18 L128.5,129.85 L129.5,130.51 L130.5,131.18 L131.5,131.84 L132.5,132.51 L133.5,133.17 L134.5,133.83 L135.5,134.5 L136.5,135.16 L137.5,135.82 L138.5,136.47 L139.5,137.13 L140.5,137.79 L141.5,138.44 L142.5,139.1 L143.5,139.75 L144.5,140.4 L145.5,141.05 L146.5,141.7 L147.5,142.35 L148.5,143 L149.5,143.64 L150.5,144.29 L151.5,144.93 L152.5,145.58 L153.5,146.23 L154.5,146.87 L155.5,147.52 L156.5,148.17 L157.5,148.82 L158.5,149.47 L159.5,150.12 L160.5,150.76 L161.5,151.4 L162.5,152.04 L163.5,152.68 L164.5,153.31 L165.5,153.94 L166.5,154.56 L167.5,155.18 L168.5,155.8 L169.5,156.42 L170.5,157.04 L171.5,157.65 L172.5,158.27 L173.5,158.88 L174.5,159.49 L175.5,160.11 L176.5,160.73 L177.5,161.35 L178.5,161.98 L179.5,162.62 L180.5,163.26 L181.5,163.9 L182.5,164.55 L183.5,165.2 L184.5,165.86 L185.5,166.51 L186.5,167.17 L187.5,167.83 L188.5,168.49 L189.5,169.14 L190.5,169.8 L191.5,170.46 L192.5,171.13 L193.5,171.79 L194.5,172.46 L195.5,173.12 L196.5,173.77 L197.5,174.42 L198.5,175.05 L199.5,175.67 L200.5,176.28 L201.5,176.88 L202.5,177.48 L203.5,178.08 L204.5,178.67 L205.5,179.26 L206.5,179.84 L207.5,180.42 L208.5,180.99 L209.5,181.56 L210.5,182.12 L211.5,182.67 L212.5,183.22 L213.5,183.76 L214.5,184.29 L215.5,184.82 L216.5,185.34 L217.5,185.85 L218.5,186.35 L219.5,186.84 L220.5,187.33 L221.5,187.81 L222.5,188.27 L223.5,188.73 L224.5,189.18 L225.5,189.62 L226.5,190.06 L227.5,190.49 L228.5,190.91 L229.5,191.33 L230.5,191.75 L231.5,192.17 L232.5,192.59 L233.5,193.01 L234.5,193.42 L235.5,193.84 L236.5,194.25 L237.5,194.68 L238.5,195.11 L239.5,195.54 L240.5,195.97 L241.5,196.4 L242.5,196.82 L243.5,197.23 L244.5,197.63 L245.5,198.02 L246.5,198.4 L247.5,198.75 L248.5,199.1 L249.5,199.43 L250.5,199.76 L251.5,200.07 L252.5,200.39 L253.5,200.7 L254.5,201.01 L255.5,201.31 L256.5,201.61 L257.5,201.9 L258.5,202.19 L259.5,202.47 L260.5,202.75 L261.5,203.02 L262.5,203.28 L263.5,203.54 L264.5,203.79 L265.5,204.03 L266.5,204.26 L267.5,204.48 L268.5,204.68 L269.5,204.88 L270.5,205.06 L271.5,205.23 L272.5,205.38 L273.5,205.53 L274.5,205.66 L275.5,205.79 L276.5,205.9 L277.5,206 L278.5,206.1 L279.5,206.2 L280.5,206.29 L281.5,206.38 L282.5,206.46 L283.5,206.54 L284.5,206.61 L285.5,206.68 L286.5,206.75 L287.5,206.81 L288.5,206.87 L289.5,206.93 L290.5,206.98 L291.5,207.03 L292.5,207.07 L293.5,207.11 L294.5,207.15 L295.5,207.18 L296.5,207.21 L297.5,207.24 L298.5,207.27 L299.5,207.29 L300.5,207.31 L301.5,207.32 L302.5,207.34 L303.5,207.36 L304.5,207.37 L305.5,207.39 L306.5,207.4 L307.5,207.41 L308.5,207.42 L309.5,207.43 L310.5,207.44 L311.5,207.45 L312.5,207.46 L313.5,207.47 L314.5,207.47 L315.5,207.48 L316.5,207.48 L317.5,207.49 L318.5,207.49 L319.5,207.49 L320.5,207.49 L321.2,207.49" fill="none" stroke="#cf9a1c" stroke-width="1.15"/>
<path d="M24.5,24.08 L25.5,25.44 L26.5,26.8 L27.5,28.15 L28.5,29.49 L29.5,30.82 L30.5,32.15 L31.5,33.46 L32.5,34.77 L33.5,36.07 L34.5,37.36 L35.5,38.64 L36.5,39.91 L37.5,41.17 L38.5,42.42 L39.5,43.66 L40.5,44.89 L41.5,46.12 L42.5,47.34 L43.5,48.56 L44.5,49.77 L45.5,50.97 L46.5,52.17 L47.5,53.36 L48.5,54.54 L49.5,55.71 L50.5,56.88 L51.5,58.04 L52.5,59.19 L53.5,60.33 L54.5,61.46 L55.5,62.58 L56.5,63.69 L57.5,64.79 L58.5,65.88 L59.5,66.96 L60.5,68.02 L61.5,69.08 L62.5,70.13 L63.5,71.18 L64.5,72.22 L65.5,73.26 L66.5,74.29 L67.5,75.31 L68.5,76.33 L69.5,77.34 L70.5,78.35 L71.5,79.34 L72.5,80.34 L73.5,81.32 L74.5,82.31 L75.5,83.28 L76.5,84.25 L77.5,85.21 L78.5,86.17 L79.5,87.12 L80.5,88.06 L81.5,89 L82.5,89.94 L83.5,90.86 L84.5,91.78 L85.5,92.69 L86.5,93.59 L87.5,94.48 L88.5,95.36 L89.5,96.24 L90.5,97.1 L91.5,97.96 L92.5,98.81 L93.5,99.64 L94.5,100.47 L95.5,101.29 L96.5,102.1 L97.5,102.91 L98.5,103.7 L99.5,104.5 L100.5,105.29 L101.5,106.07 L102.5,106.86 L103.5,107.64 L104.5,108.42 L105.5,109.19 L106.5,109.97 L107.5,110.74 L108.5,111.52 L109.5,112.3 L110.5,113.07 L111.5,113.85 L112.5,114.62 L113.5,115.38 L114.5,116.14 L115.5,116.9 L116.5,117.65 L117.5,118.4 L118.5,119.15 L119.5,119.89 L120.5,120.63 L121.5,121.36 L122.5,122.09 L123.5,122.82 L124.5,123.55 L125.5,124.27 L126.5,124.99 L127.5,125.71 L128.5,126.43 L129.5,127.14 L130.5,127.86 L131.5,128.57 L132.5,129.28 L133.5,129.99 L134.5,130.7 L135.5,131.41 L136.5,132.11 L137.5,132.81 L138.5,133.51 L139.5,134.21 L140.5,134.91 L141.5,135.61 L142.5,136.3 L143.5,136.99 L144.5,137.68 L145.5,138.37 L146.5,139.05 L147.5,139.73 L148.5,140.41 L149.5,141.09 L150.5,141.77 L151.5,142.44 L152.5,143.11 L153.5,143.79 L154.5,144.46 L155.5,145.13 L156.5,145.8 L157.5,146.47 L158.5,147.14 L159.5,147.8 L160.5,148.47 L161.5,149.12 L162.5,149.78 L163.5,150.42 L164.5,151.07 L165.5,151.71 L166.5,152.35 L167.5,152.98 L168.5,153.61 L169.5,154.24 L170.5,154.87 L171.5,155.5 L172.5,156.12 L173.5,156.75 L174.5,157.37 L175.5,158 L176.5,158.62 L177.5,159.25 L178.5,159.88 L179.5,160.51 L180.5,161.14 L181.5,161.78 L182.5,162.42 L183.5,163.06 L184.5,163.71 L185.5,164.36 L186.5,165.01 L187.5,165.66 L188.5,166.31 L189.5,166.95 L190.5,167.6 L191.5,168.25 L192.5,168.89 L193.5,169.53 L194.5,170.17 L195.5,170.8 L196.5,171.43 L197.5,172.05 L198.5,172.67 L199.5,173.28 L200.5,173.89 L201.5,174.5 L202.5,175.12 L203.5,175.75 L204.5,176.38 L205.5,177.01 L206.5,177.64 L207.5,178.27 L208.5,178.9 L209.5,179.52 L210.5,180.14 L211.5,180.76 L212.5,181.37 L213.5,181.96 L214.5,182.55 L215.5,183.13 L216.5,183.71 L217.5,184.27 L218.5,184.84 L219.5,185.39 L220.5,185.94 L221.5,186.48 L222.5,187.02 L223.5,187.55 L224.5,188.06 L225.5,188.58 L226.5,189.08 L227.5,189.57 L228.5,190.06 L229.5,190.54 L230.5,191.01 L231.5,191.49 L232.5,191.95 L233.5,192.41 L234.5,192.86 L235.5,193.31 L236.5,193.75 L237.5,194.18 L238.5,194.6 L239.5,195.01 L240.5,195.42 L241.5,195.82 L242.5,196.21 L243.5,196.59 L244.5,196.96 L245.5,197.32 L246.5,197.68 L247.5,198.02 L248.5,198.36 L249.5,198.69 L250.5,199.01 L251.5,199.32 L252.5,199.64 L253.5,199.95 L254.5,200.27 L255.5,200.58 L256.5,200.88 L257.5,201.18 L258.5,201.47 L259.5,201.76 L260.5,202.04 L261.5,202.32 L262.5,202.59 L263.5,202.84 L264.5,203.1 L265.5,203.34 L266.5,203.57 L267.5,203.79 L268.5,204 L269.5,204.21 L270.5,204.4 L271.5,204.59 L272.5,204.76 L273.5,204.92 L274.5,205.08 L275.5,205.22 L276.5,205.35 L277.5,205.47 L278.5,205.58 L279.5,205.7 L280.5,205.81 L281.5,205.91 L282.5,206.01 L283.5,206.11 L284.5,206.21 L285.5,206.3 L286.5,206.39 L287.5,206.47 L288.5,206.55 L289.5,206.62 L290.5,206.69 L291.5,206.76 L292.5,206.82 L293.5,206.88 L294.5,206.93 L295.5,206.98 L296.5,207.03 L297.5,207.07 L298.5,207.1 L299.5,207.13 L300.5,207.16 L301.5,207.19 L302.5,207.22 L303.5,207.24 L304.5,207.27 L305.5,207.29 L306.5,207.31 L307.5,207.33 L308.5,207.35 L309.5,207.37 L310.5,207.39 L311.5,207.41 L312.5,207.42 L313.5,207.43 L314.5,207.45 L315.5,207.46 L316.5,207.46 L317.5,207.47 L318.5,207.48 L319.5,207.48 L320.5,207.48 L321.2,207.48" fill="none" stroke="#cf9a1c" stroke-width="1.15"/>
</g>
<g clip-path="url(#crL)">
<path d="M24.5,261.35 L25.5,261.35 L26.5,261.35 L27.5,261.35 L28.5,261.35 L29.5,261.36 L30.5,261.36 L31.5,261.36 L32.5,261.37 L33.5,261.37 L34.5,261.37 L35.5,261.38 L36.5,261.38 L37.5,261.38 L38.5,261.39 L39.5,261.39 L40.5,261.4 L41.5,261.4 L42.5,261.4 L43.5,261.41 L44.5,261.41 L45.5,261.42 L46.5,261.42 L47.5,261.43 L48.5,261.43 L49.5,261.44 L50.5,261.44 L51.5,261.45 L52.5,261.45 L53.5,261.46 L54.5,261.46 L55.5,261.47 L56.5,261.47 L57.5,261.48 L58.5,261.49 L59.5,261.49 L60.5,261.5 L61.5,261.51 L62.5,261.51 L63.5,261.52 L64.5,261.53 L65.5,261.54 L66.5,261.54 L67.5,261.55 L68.5,261.56 L69.5,261.57 L70.5,261.58 L71.5,261.58 L72.5,261.59 L73.5,261.6 L74.5,261.61 L75.5,261.62 L76.5,261.63 L77.5,261.64 L78.5,261.64 L79.5,261.65 L80.5,261.66 L81.5,261.67 L82.5,261.68 L83.5,261.69 L84.5,261.69 L85.5,261.7 L86.5,261.71 L87.5,261.72 L88.5,261.72 L89.5,261.73 L90.5,261.74 L91.5,261.74 L92.5,261.75 L93.5,261.76 L94.5,261.77 L95.5,261.77 L96.5,261.78 L97.5,261.79 L98.5,261.79 L99.5,261.8 L100.5,261.81 L101.5,261.82 L102.5,261.83 L103.5,261.84 L104.5,261.85 L105.5,261.86 L106.5,261.87 L107.5,261.89 L108.5,261.9 L109.5,261.91 L110.5,261.93 L111.5,261.95 L112.5,261.97 L113.5,262 L114.5,262.03 L115.5,262.07 L116.5,262.11 L117.5,262.15 L118.5,262.19 L119.5,262.24 L120.5,262.29 L121.5,262.35 L122.5,262.4 L123.5,262.46 L124.5,262.52 L125.5,262.58 L126.5,262.64 L127.5,262.71 L128.5,262.77 L129.5,262.84 L130.5,262.91 L131.5,262.97 L132.5,263.04 L133.5,263.11 L134.5,263.17 L135.5,263.24 L136.5,263.31 L137.5,263.37 L138.5,263.44 L139.5,263.5 L140.5,263.56 L141.5,263.62 L142.5,263.69 L143.5,263.75 L144.5,263.82 L145.5,263.88 L146.5,263.95 L147.5,264.02 L148.5,264.1 L149.5,264.18 L150.5,264.26 L151.5,264.36 L152.5,264.46 L153.5,264.58 L154.5,264.7 L155.5,264.82 L156.5,264.95 L157.5,265.07 L158.5,265.2 L159.5,265.32 L160.5,265.44 L161.5,265.54 L162.5,265.64 L163.5,265.73 L164.5,265.8 L165.5,265.86 L166.5,265.91 L167.5,265.97 L168.5,266.03 L169.5,266.08 L170.5,266.13 L171.5,266.18 L172.5,266.22 L173.5,266.26 L174.5,266.3 L175.5,266.33 L176.5,266.36 L177.5,266.38 L178.5,266.4 L179.5,266.4 L180.5,266.4 L181.5,266.38 L182.5,266.33 L183.5,266.27 L184.5,266.19 L185.5,266.1 L186.5,265.99 L187.5,265.88 L188.5,265.77 L189.5,265.65 L190.5,265.54 L191.5,265.42 L192.5,265.32 L193.5,265.19 L194.5,265.06 L195.5,264.92 L196.5,264.77 L197.5,264.62 L198.5,264.46 L199.5,264.3 L200.5,264.14 L201.5,263.99 L202.5,263.84 L203.5,263.71 L204.5,263.58 L205.5,263.47 L206.5,263.37 L207.5,263.27 L208.5,263.18 L209.5,263.09 L210.5,263 L211.5,262.91 L212.5,262.83 L213.5,262.74 L214.5,262.66 L215.5,262.59 L216.5,262.51 L217.5,262.44 L218.5,262.37 L219.5,262.3 L220.5,262.23 L221.5,262.16 L222.5,262.1 L223.5,262.04 L224.5,261.98 L225.5,261.92 L226.5,261.87 L227.5,261.81 L228.5,261.76 L229.5,261.71 L230.5,261.67 L231.5,261.63 L232.5,261.6 L233.5,261.57 L234.5,261.53 L235.5,261.49 L236.5,261.43 L237.5,261.35 L238.5,261.26 L239.5,261.14 L240.5,261.01 L241.5,260.87 L242.5,260.71 L243.5,260.55 L244.5,260.37 L245.5,260.18 L246.5,259.99 L247.5,259.79 L248.5,259.59 L249.5,259.38 L250.5,259.17 L251.5,258.93 L252.5,258.67 L253.5,258.39 L254.5,258.09 L255.5,257.78 L256.5,257.46 L257.5,257.14 L258.5,256.81 L259.5,256.49 L260.5,256.16 L261.5,255.82 L262.5,255.47 L263.5,255.09 L264.5,254.69 L265.5,254.25 L266.5,253.77 L267.5,253.24 L268.5,252.65 L269.5,252 L270.5,251.31 L271.5,250.57 L272.5,249.79 L273.5,248.98 L274.5,248.13 L275.5,247.25 L276.5,246.35 L277.5,245.42 L278.5,244.4 L279.5,243.29 L280.5,242.1 L281.5,240.86 L282.5,239.6 L283.5,238.34 L284.5,237.11 L285.5,235.93 L286.5,234.78 L287.5,233.65 L288.5,232.52 L289.5,231.39 L290.5,230.26 L291.5,229.11 L292.5,227.94 L293.5,226.73 L294.5,225.5 L295.5,224.25 L296.5,222.99 L297.5,221.71 L298.5,220.41 L299.5,219.1 L300.5,217.77 L301.5,216.42 L302.5,215.05 L303.5,213.66 L304.5,212.26 L305.5,210.84 L306.5,209.4 L307.5,207.94 L308.5,206.46 L309.5,204.97 L310.5,203.47 L311.5,201.94 L312.5,200.4 L313.5,198.84 L314.5,197.26 L315.5,195.67 L316.5,194.06 L317.5,192.43 L318.5,190.78 L319.5,189.12 L320.5,187.44 L321.2,186.25 L321.2,353 L320.5,352.06 L319.5,350.73 L318.5,349.41 L317.5,348.09 L316.5,346.79 L315.5,345.49 L314.5,344.2 L313.5,342.91 L312.5,341.64 L311.5,340.37 L310.5,339.11 L309.5,337.85 L308.5,336.61 L307.5,335.37 L306.5,334.14 L305.5,332.91 L304.5,331.69 L303.5,330.47 L302.5,329.25 L301.5,328.04 L300.5,326.83 L299.5,325.63 L298.5,324.45 L297.5,323.28 L296.5,322.14 L295.5,321.01 L294.5,319.91 L293.5,318.85 L292.5,317.81 L291.5,316.82 L290.5,315.86 L289.5,314.91 L288.5,313.97 L287.5,313.03 L286.5,312.08 L285.5,311.11 L284.5,310.1 L283.5,309.08 L282.5,308.03 L281.5,306.98 L280.5,305.93 L279.5,304.9 L278.5,303.89 L277.5,302.91 L276.5,301.97 L275.5,301.01 L274.5,300.05 L273.5,299.09 L272.5,298.15 L271.5,297.23 L270.5,296.35 L269.5,295.51 L268.5,294.71 L267.5,293.98 L266.5,293.32 L265.5,292.73 L264.5,292.16 L263.5,291.63 L262.5,291.13 L261.5,290.66 L260.5,290.2 L259.5,289.77 L258.5,289.35 L257.5,288.95 L256.5,288.56 L255.5,288.18 L254.5,287.81 L253.5,287.46 L252.5,287.12 L251.5,286.79 L250.5,286.47 L249.5,286.16 L248.5,285.86 L247.5,285.57 L246.5,285.29 L245.5,285.01 L244.5,284.72 L243.5,284.43 L242.5,284.15 L241.5,283.87 L240.5,283.6 L239.5,283.35 L238.5,283.13 L237.5,282.94 L236.5,282.79 L235.5,282.68 L234.5,282.59 L233.5,282.5 L232.5,282.42 L231.5,282.35 L230.5,282.29 L229.5,282.23 L228.5,282.18 L227.5,282.13 L226.5,282.08 L225.5,282.03 L224.5,281.97 L223.5,281.92 L222.5,281.86 L221.5,281.8 L220.5,281.74 L219.5,281.66 L218.5,281.58 L217.5,281.5 L216.5,281.42 L215.5,281.33 L214.5,281.24 L213.5,281.14 L212.5,281.05 L211.5,280.96 L210.5,280.87 L209.5,280.78 L208.5,280.69 L207.5,280.6 L206.5,280.51 L205.5,280.43 L204.5,280.36 L203.5,280.28 L202.5,280.21 L201.5,280.13 L200.5,280.06 L199.5,279.98 L198.5,279.9 L197.5,279.82 L196.5,279.74 L195.5,279.66 L194.5,279.58 L193.5,279.5 L192.5,279.42 L191.5,279.35 L190.5,279.27 L189.5,279.2 L188.5,279.14 L187.5,279.07 L186.5,279.01 L185.5,278.96 L184.5,278.91 L183.5,278.86 L182.5,278.82 L181.5,278.78 L180.5,278.76 L179.5,278.73 L178.5,278.72 L177.5,278.71 L176.5,278.71 L175.5,278.72 L174.5,278.74 L173.5,278.77 L172.5,278.8 L171.5,278.84 L170.5,278.89 L169.5,278.95 L168.5,279.01 L167.5,279.07 L166.5,279.15 L165.5,279.22 L164.5,279.31 L163.5,279.39 L162.5,279.48 L161.5,279.57 L160.5,279.66 L159.5,279.76 L158.5,279.85 L157.5,279.95 L156.5,280.05 L155.5,280.15 L154.5,280.25 L153.5,280.34 L152.5,280.44 L151.5,280.53 L150.5,280.62 L149.5,280.71 L148.5,280.8 L147.5,280.88 L146.5,280.95 L145.5,281.03 L144.5,281.09 L143.5,281.16 L142.5,281.22 L141.5,281.28 L140.5,281.34 L139.5,281.4 L138.5,281.46 L137.5,281.52 L136.5,281.58 L135.5,281.64 L134.5,281.7 L133.5,281.76 L132.5,281.82 L131.5,281.87 L130.5,281.93 L129.5,281.99 L128.5,282.04 L127.5,282.1 L126.5,282.15 L125.5,282.2 L124.5,282.26 L123.5,282.31 L122.5,282.36 L121.5,282.41 L120.5,282.45 L119.5,282.5 L118.5,282.55 L117.5,282.59 L116.5,282.63 L115.5,282.67 L114.5,282.72 L113.5,282.75 L112.5,282.79 L111.5,282.84 L110.5,282.88 L109.5,282.92 L108.5,282.96 L107.5,283 L106.5,283.04 L105.5,283.09 L104.5,283.13 L103.5,283.17 L102.5,283.21 L101.5,283.25 L100.5,283.29 L99.5,283.32 L98.5,283.36 L97.5,283.39 L96.5,283.43 L95.5,283.46 L94.5,283.49 L93.5,283.52 L92.5,283.54 L91.5,283.57 L90.5,283.59 L89.5,283.61 L88.5,283.62 L87.5,283.63 L86.5,283.64 L85.5,283.65 L84.5,283.65 L83.5,283.65 L82.5,283.65 L81.5,283.65 L80.5,283.65 L79.5,283.65 L78.5,283.65 L77.5,283.65 L76.5,283.65 L75.5,283.65 L74.5,283.65 L73.5,283.65 L72.5,283.65 L71.5,283.65 L70.5,283.65 L69.5,283.65 L68.5,283.65 L67.5,283.65 L66.5,283.65 L65.5,283.65 L64.5,283.65 L63.5,283.65 L62.5,283.65 L61.5,283.65 L60.5,283.65 L59.5,283.65 L58.5,283.65 L57.5,283.65 L56.5,283.65 L55.5,283.65 L54.5,283.65 L53.5,283.65 L52.5,283.65 L51.5,283.65 L50.5,283.65 L49.5,283.65 L48.5,283.65 L47.5,283.65 L46.5,283.65 L45.5,283.65 L44.5,283.65 L43.5,283.65 L42.5,283.65 L41.5,283.65 L40.5,283.65 L39.5,283.65 L38.5,283.65 L37.5,283.65 L36.5,283.65 L35.5,283.65 L34.5,283.65 L33.5,283.65 L32.5,283.65 L31.5,283.65 L30.5,283.65 L29.5,283.65 L28.5,283.65 L27.5,283.65 L26.5,283.65 L25.5,283.65 L24.5,283.65 Z" fill="rgba(47,111,214,0.30)" stroke="none"/>
<path d="M24.5,257.2 L25.5,257.22 L26.5,257.23 L27.5,257.25 L28.5,257.26 L29.5,257.27 L30.5,257.29 L31.5,257.3 L32.5,257.31 L33.5,257.33 L34.5,257.34 L35.5,257.36 L36.5,257.37 L37.5,257.38 L38.5,257.4 L39.5,257.41 L40.5,257.42 L41.5,257.44 L42.5,257.45 L43.5,257.46 L44.5,257.48 L45.5,257.49 L46.5,257.5 L47.5,257.52 L48.5,257.53 L49.5,257.55 L50.5,257.56 L51.5,257.57 L52.5,257.59 L53.5,257.6 L54.5,257.61 L55.5,257.63 L56.5,257.64 L57.5,257.65 L58.5,257.67 L59.5,257.68 L60.5,257.69 L61.5,257.71 L62.5,257.72 L63.5,257.73 L64.5,257.75 L65.5,257.76 L66.5,257.78 L67.5,257.79 L68.5,257.8 L69.5,257.82 L70.5,257.83 L71.5,257.84 L72.5,257.86 L73.5,257.87 L74.5,257.88 L75.5,257.9 L76.5,257.91 L77.5,257.92 L78.5,257.94 L79.5,257.95 L80.5,257.96 L81.5,257.98 L82.5,257.99 L83.5,258 L84.5,258.02 L85.5,258.03 L86.5,258.04 L87.5,258.05 L88.5,258.07 L89.5,258.08 L90.5,258.09 L91.5,258.1 L92.5,258.11 L93.5,258.12 L94.5,258.14 L95.5,258.15 L96.5,258.16 L97.5,258.17 L98.5,258.18 L99.5,258.19 L100.5,258.21 L101.5,258.22 L102.5,258.23 L103.5,258.25 L104.5,258.26 L105.5,258.28 L106.5,258.29 L107.5,258.31 L108.5,258.33 L109.5,258.35 L110.5,258.36 L111.5,258.39 L112.5,258.41 L113.5,258.43 L114.5,258.45 L115.5,258.48 L116.5,258.51 L117.5,258.54 L118.5,258.56 L119.5,258.59 L120.5,258.63 L121.5,258.66 L122.5,258.69 L123.5,258.73 L124.5,258.76 L125.5,258.8 L126.5,258.84 L127.5,258.87 L128.5,258.91 L129.5,258.95 L130.5,258.99 L131.5,259.03 L132.5,259.07 L133.5,259.11 L134.5,259.16 L135.5,259.2 L136.5,259.24 L137.5,259.29 L138.5,259.33 L139.5,259.37 L140.5,259.42 L141.5,259.46 L142.5,259.51 L143.5,259.55 L144.5,259.6 L145.5,259.65 L146.5,259.69 L147.5,259.74 L148.5,259.78 L149.5,259.83 L150.5,259.87 L151.5,259.92 L152.5,259.97 L153.5,260.01 L154.5,260.06 L155.5,260.11 L156.5,260.17 L157.5,260.22 L158.5,260.27 L159.5,260.32 L160.5,260.38 L161.5,260.43 L162.5,260.49 L163.5,260.55 L164.5,260.6 L165.5,260.66 L166.5,260.72 L167.5,260.78 L168.5,260.84 L169.5,260.9 L170.5,260.96 L171.5,261.02 L172.5,261.08 L173.5,261.15 L174.5,261.21 L175.5,261.27 L176.5,261.33 L177.5,261.39 L178.5,261.46 L179.5,261.52 L180.5,261.58 L181.5,261.64 L182.5,261.71 L183.5,261.78 L184.5,261.84 L185.5,261.91 L186.5,261.98 L187.5,262.05 L188.5,262.12 L189.5,262.2 L190.5,262.28 L191.5,262.36 L192.5,262.44 L193.5,262.52 L194.5,262.61 L195.5,262.7 L196.5,262.79 L197.5,262.89 L198.5,262.99 L199.5,263.09 L200.5,263.19 L201.5,263.31 L202.5,263.44 L203.5,263.57 L204.5,263.73 L205.5,263.9 L206.5,264.1 L207.5,264.36 L208.5,264.69 L209.5,265.06 L210.5,265.47 L211.5,265.89 L212.5,266.32 L213.5,266.74 L214.5,267.14 L215.5,267.5 L216.5,267.86 L217.5,268.22 L218.5,268.57 L219.5,268.93 L220.5,269.28 L221.5,269.63 L222.5,269.97 L223.5,270.32 L224.5,270.66 L225.5,271 L226.5,271.34 L227.5,271.68 L228.5,272.01 L229.5,272.34 L230.5,272.66 L231.5,273 L232.5,273.35 L233.5,273.7 L234.5,274.04 L235.5,274.37 L236.5,274.69 L237.5,274.99 L238.5,275.26 L239.5,275.5 L240.5,275.71 L241.5,275.91 L242.5,276.1 L243.5,276.29 L244.5,276.47 L245.5,276.63 L246.5,276.78 L247.5,276.9 L248.5,277 L249.5,277.08 L250.5,277.12 L251.5,277.16 L252.5,277.19 L253.5,277.22 L254.5,277.25 L255.5,277.28 L256.5,277.3 L257.5,277.31 L258.5,277.32 L259.5,277.33 L260.5,277.33 L261.5,277.31 L262.5,277.27 L263.5,277.22 L264.5,277.16 L265.5,277.08 L266.5,277 L267.5,276.9 L268.5,276.8 L269.5,276.69 L270.5,276.58 L271.5,276.42 L272.5,276.22 L273.5,275.99 L274.5,275.73 L275.5,275.45 L276.5,275.17 L277.5,274.89 L278.5,274.57 L279.5,274.24 L280.5,273.87 L281.5,273.5 L282.5,273.1 L283.5,272.7 L284.5,272.3 L285.5,271.88 L286.5,271.45 L287.5,271.02 L288.5,270.57 L289.5,270.11 L290.5,269.65 L291.5,269.17 L292.5,268.68 L293.5,268.19 L294.5,267.68 L295.5,267.16 L296.5,266.63 L297.5,266.09 L298.5,265.54 L299.5,264.97 L300.5,264.4 L301.5,263.81 L302.5,263.21 L303.5,262.6 L304.5,261.97 L305.5,261.34 L306.5,260.69 L307.5,260.03 L308.5,259.36 L309.5,258.68 L310.5,257.98 L311.5,257.28 L312.5,256.56 L313.5,255.83 L314.5,255.09 L315.5,254.34 L316.5,253.58 L317.5,252.8 L318.5,252.02 L319.5,251.22 L320.5,250.42 L321.2,249.84 L321.2,364.5 L320.5,363.99 L319.5,363.25 L318.5,362.5 L317.5,361.74 L316.5,360.97 L315.5,360.19 L314.5,359.39 L313.5,358.59 L312.5,357.78 L311.5,356.96 L310.5,356.13 L309.5,355.3 L308.5,354.45 L307.5,353.59 L306.5,352.73 L305.5,351.85 L304.5,350.97 L303.5,350.08 L302.5,349.19 L301.5,348.28 L300.5,347.37 L299.5,346.45 L298.5,345.52 L297.5,344.58 L296.5,343.64 L295.5,342.69 L294.5,341.74 L293.5,340.78 L292.5,339.81 L291.5,338.83 L290.5,337.85 L289.5,336.87 L288.5,335.87 L287.5,334.88 L286.5,333.87 L285.5,332.86 L284.5,331.85 L283.5,330.83 L282.5,329.81 L281.5,328.78 L280.5,327.75 L279.5,326.71 L278.5,325.67 L277.5,324.63 L276.5,323.58 L275.5,322.53 L274.5,321.47 L273.5,320.41 L272.5,319.35 L271.5,318.29 L270.5,317.17 L269.5,316 L268.5,314.79 L267.5,313.55 L266.5,312.3 L265.5,311.04 L264.5,309.8 L263.5,308.58 L262.5,307.39 L261.5,306.27 L260.5,305.2 L259.5,304.21 L258.5,303.26 L257.5,302.34 L256.5,301.44 L255.5,300.57 L254.5,299.72 L253.5,298.89 L252.5,298.07 L251.5,297.27 L250.5,296.48 L249.5,295.7 L248.5,294.93 L247.5,294.16 L246.5,293.38 L245.5,292.57 L244.5,291.74 L243.5,290.89 L242.5,290.06 L241.5,289.24 L240.5,288.47 L239.5,287.76 L238.5,287.12 L237.5,286.57 L236.5,286.13 L235.5,285.8 L234.5,285.52 L233.5,285.27 L232.5,285.04 L231.5,284.83 L230.5,284.65 L229.5,284.48 L228.5,284.32 L227.5,284.16 L226.5,284.01 L225.5,283.86 L224.5,283.7 L223.5,283.54 L222.5,283.37 L221.5,283.17 L220.5,282.96 L219.5,282.73 L218.5,282.49 L217.5,282.23 L216.5,281.97 L215.5,281.69 L214.5,281.41 L213.5,281.12 L212.5,280.82 L211.5,280.52 L210.5,280.21 L209.5,279.9 L208.5,279.58 L207.5,279.26 L206.5,278.94 L205.5,278.62 L204.5,278.3 L203.5,277.98 L202.5,277.66 L201.5,277.34 L200.5,277.03 L199.5,276.71 L198.5,276.38 L197.5,276.04 L196.5,275.69 L195.5,275.33 L194.5,274.99 L193.5,274.65 L192.5,274.33 L191.5,274.04 L190.5,273.77 L189.5,273.54 L188.5,273.31 L187.5,273.09 L186.5,272.88 L185.5,272.67 L184.5,272.47 L183.5,272.27 L182.5,272.09 L181.5,271.91 L180.5,271.74 L179.5,271.58 L178.5,271.43 L177.5,271.29 L176.5,271.16 L175.5,271.05 L174.5,270.94 L173.5,270.84 L172.5,270.75 L171.5,270.66 L170.5,270.56 L169.5,270.47 L168.5,270.38 L167.5,270.29 L166.5,270.21 L165.5,270.13 L164.5,270.05 L163.5,269.97 L162.5,269.89 L161.5,269.82 L160.5,269.76 L159.5,269.7 L158.5,269.64 L157.5,269.59 L156.5,269.54 L155.5,269.5 L154.5,269.47 L153.5,269.44 L152.5,269.42 L151.5,269.4 L150.5,269.4 L149.5,269.4 L148.5,269.4 L147.5,269.4 L146.5,269.4 L145.5,269.41 L144.5,269.42 L143.5,269.43 L142.5,269.44 L141.5,269.45 L140.5,269.46 L139.5,269.47 L138.5,269.49 L137.5,269.51 L136.5,269.52 L135.5,269.54 L134.5,269.56 L133.5,269.58 L132.5,269.6 L131.5,269.62 L130.5,269.64 L129.5,269.67 L128.5,269.69 L127.5,269.72 L126.5,269.74 L125.5,269.77 L124.5,269.79 L123.5,269.82 L122.5,269.85 L121.5,269.87 L120.5,269.9 L119.5,269.93 L118.5,269.96 L117.5,269.99 L116.5,270.01 L115.5,270.04 L114.5,270.07 L113.5,270.1 L112.5,270.13 L111.5,270.16 L110.5,270.19 L109.5,270.21 L108.5,270.25 L107.5,270.28 L106.5,270.32 L105.5,270.37 L104.5,270.41 L103.5,270.46 L102.5,270.51 L101.5,270.57 L100.5,270.62 L99.5,270.67 L98.5,270.73 L97.5,270.78 L96.5,270.84 L95.5,270.89 L94.5,270.95 L93.5,271 L92.5,271.05 L91.5,271.1 L90.5,271.14 L89.5,271.18 L88.5,271.22 L87.5,271.26 L86.5,271.29 L85.5,271.32 L84.5,271.34 L83.5,271.36 L82.5,271.38 L81.5,271.39 L80.5,271.41 L79.5,271.43 L78.5,271.44 L77.5,271.46 L76.5,271.47 L75.5,271.49 L74.5,271.51 L73.5,271.52 L72.5,271.54 L71.5,271.55 L70.5,271.57 L69.5,271.58 L68.5,271.59 L67.5,271.61 L66.5,271.62 L65.5,271.63 L64.5,271.65 L63.5,271.66 L62.5,271.67 L61.5,271.69 L60.5,271.7 L59.5,271.71 L58.5,271.72 L57.5,271.73 L56.5,271.74 L55.5,271.75 L54.5,271.76 L53.5,271.77 L52.5,271.78 L51.5,271.79 L50.5,271.8 L49.5,271.81 L48.5,271.82 L47.5,271.83 L46.5,271.84 L45.5,271.84 L44.5,271.85 L43.5,271.86 L42.5,271.86 L41.5,271.87 L40.5,271.88 L39.5,271.88 L38.5,271.89 L37.5,271.89 L36.5,271.9 L35.5,271.9 L34.5,271.91 L33.5,271.91 L32.5,271.91 L31.5,271.92 L30.5,271.92 L29.5,271.92 L28.5,271.92 L27.5,271.92 L26.5,271.92 L25.5,271.92 L24.5,271.93 Z" fill="rgba(184,134,11,0.40)" stroke="none"/>
<path d="M24.5,261.35 L25.5,261.35 L26.5,261.35 L27.5,261.35 L28.5,261.35 L29.5,261.36 L30.5,261.36 L31.5,261.36 L32.5,261.37 L33.5,261.37 L34.5,261.37 L35.5,261.38 L36.5,261.38 L37.5,261.38 L38.5,261.39 L39.5,261.39 L40.5,261.4 L41.5,261.4 L42.5,261.4 L43.5,261.41 L44.5,261.41 L45.5,261.42 L46.5,261.42 L47.5,261.43 L48.5,261.43 L49.5,261.44 L50.5,261.44 L51.5,261.45 L52.5,261.45 L53.5,261.46 L54.5,261.46 L55.5,261.47 L56.5,261.47 L57.5,261.48 L58.5,261.49 L59.5,261.49 L60.5,261.5 L61.5,261.51 L62.5,261.51 L63.5,261.52 L64.5,261.53 L65.5,261.54 L66.5,261.54 L67.5,261.55 L68.5,261.56 L69.5,261.57 L70.5,261.58 L71.5,261.58 L72.5,261.59 L73.5,261.6 L74.5,261.61 L75.5,261.62 L76.5,261.63 L77.5,261.64 L78.5,261.64 L79.5,261.65 L80.5,261.66 L81.5,261.67 L82.5,261.68 L83.5,261.69 L84.5,261.69 L85.5,261.7 L86.5,261.71 L87.5,261.72 L88.5,261.72 L89.5,261.73 L90.5,261.74 L91.5,261.74 L92.5,261.75 L93.5,261.76 L94.5,261.77 L95.5,261.77 L96.5,261.78 L97.5,261.79 L98.5,261.79 L99.5,261.8 L100.5,261.81 L101.5,261.82 L102.5,261.83 L103.5,261.84 L104.5,261.85 L105.5,261.86 L106.5,261.87 L107.5,261.89 L108.5,261.9 L109.5,261.91 L110.5,261.93 L111.5,261.95 L112.5,261.97 L113.5,262 L114.5,262.03 L115.5,262.07 L116.5,262.11 L117.5,262.15 L118.5,262.19 L119.5,262.24 L120.5,262.29 L121.5,262.35 L122.5,262.4 L123.5,262.46 L124.5,262.52 L125.5,262.58 L126.5,262.64 L127.5,262.71 L128.5,262.77 L129.5,262.84 L130.5,262.91 L131.5,262.97 L132.5,263.04 L133.5,263.11 L134.5,263.17 L135.5,263.24 L136.5,263.31 L137.5,263.37 L138.5,263.44 L139.5,263.5 L140.5,263.56 L141.5,263.62 L142.5,263.69 L143.5,263.75 L144.5,263.82 L145.5,263.88 L146.5,263.95 L147.5,264.02 L148.5,264.1 L149.5,264.18 L150.5,264.26 L151.5,264.36 L152.5,264.46 L153.5,264.58 L154.5,264.7 L155.5,264.82 L156.5,264.95 L157.5,265.07 L158.5,265.2 L159.5,265.32 L160.5,265.44 L161.5,265.54 L162.5,265.64 L163.5,265.73 L164.5,265.8 L165.5,265.86 L166.5,265.91 L167.5,265.97 L168.5,266.03 L169.5,266.08 L170.5,266.13 L171.5,266.18 L172.5,266.22 L173.5,266.26 L174.5,266.3 L175.5,266.33 L176.5,266.36 L177.5,266.38 L178.5,266.4 L179.5,266.4 L180.5,266.4 L181.5,266.38 L182.5,266.33 L183.5,266.27 L184.5,266.19 L185.5,266.1 L186.5,265.99 L187.5,265.88 L188.5,265.77 L189.5,265.65 L190.5,265.54 L191.5,265.42 L192.5,265.32 L193.5,265.19 L194.5,265.06 L195.5,264.92 L196.5,264.77 L197.5,264.62 L198.5,264.46 L199.5,264.3 L200.5,264.14 L201.5,263.99 L202.5,263.84 L203.5,263.71 L204.5,263.58 L205.5,263.47 L206.5,263.37 L207.5,263.27 L208.5,263.18 L209.5,263.09 L210.5,263 L211.5,262.91 L212.5,262.83 L213.5,262.74 L214.5,262.66 L215.5,262.59 L216.5,262.51 L217.5,262.44 L218.5,262.37 L219.5,262.3 L220.5,262.23 L221.5,262.16 L222.5,262.1 L223.5,262.04 L224.5,261.98 L225.5,261.92 L226.5,261.87 L227.5,261.81 L228.5,261.76 L229.5,261.71 L230.5,261.67 L231.5,261.63 L232.5,261.6 L233.5,261.57 L234.5,261.53 L235.5,261.49 L236.5,261.43 L237.5,261.35 L238.5,261.26 L239.5,261.14 L240.5,261.01 L241.5,260.87 L242.5,260.71 L243.5,260.55 L244.5,260.37 L245.5,260.18 L246.5,259.99 L247.5,259.79 L248.5,259.59 L249.5,259.38 L250.5,259.17 L251.5,258.93 L252.5,258.67 L253.5,258.39 L254.5,258.09 L255.5,257.78 L256.5,257.46 L257.5,257.14 L258.5,256.81 L259.5,256.49 L260.5,256.16 L261.5,255.82 L262.5,255.47 L263.5,255.09 L264.5,254.69 L265.5,254.25 L266.5,253.77 L267.5,253.24 L268.5,252.65 L269.5,252 L270.5,251.31 L271.5,250.57 L272.5,249.79 L273.5,248.98 L274.5,248.13 L275.5,247.25 L276.5,246.35 L277.5,245.42 L278.5,244.4 L279.5,243.29 L280.5,242.1 L281.5,240.86 L282.5,239.6 L283.5,238.34 L284.5,237.11 L285.5,235.93 L286.5,234.78 L287.5,233.65 L288.5,232.52 L289.5,231.39 L290.5,230.26 L291.5,229.11 L292.5,227.94 L293.5,226.73 L294.5,225.5 L295.5,224.25 L296.5,222.99 L297.5,221.71 L298.5,220.41 L299.5,219.1 L300.5,217.77 L301.5,216.42 L302.5,215.05 L303.5,213.66 L304.5,212.26 L305.5,210.84 L306.5,209.4 L307.5,207.94 L308.5,206.46 L309.5,204.97 L310.5,203.47 L311.5,201.94 L312.5,200.4 L313.5,198.84 L314.5,197.26 L315.5,195.67 L316.5,194.06 L317.5,192.43 L318.5,190.78 L319.5,189.12 L320.5,187.44 L321.2,186.25" fill="none" stroke="#2f6fd6" stroke-width="1.15"/>
<path d="M24.5,283.65 L25.5,283.65 L26.5,283.65 L27.5,283.65 L28.5,283.65 L29.5,283.65 L30.5,283.65 L31.5,283.65 L32.5,283.65 L33.5,283.65 L34.5,283.65 L35.5,283.65 L36.5,283.65 L37.5,283.65 L38.5,283.65 L39.5,283.65 L40.5,283.65 L41.5,283.65 L42.5,283.65 L43.5,283.65 L44.5,283.65 L45.5,283.65 L46.5,283.65 L47.5,283.65 L48.5,283.65 L49.5,283.65 L50.5,283.65 L51.5,283.65 L52.5,283.65 L53.5,283.65 L54.5,283.65 L55.5,283.65 L56.5,283.65 L57.5,283.65 L58.5,283.65 L59.5,283.65 L60.5,283.65 L61.5,283.65 L62.5,283.65 L63.5,283.65 L64.5,283.65 L65.5,283.65 L66.5,283.65 L67.5,283.65 L68.5,283.65 L69.5,283.65 L70.5,283.65 L71.5,283.65 L72.5,283.65 L73.5,283.65 L74.5,283.65 L75.5,283.65 L76.5,283.65 L77.5,283.65 L78.5,283.65 L79.5,283.65 L80.5,283.65 L81.5,283.65 L82.5,283.65 L83.5,283.65 L84.5,283.65 L85.5,283.65 L86.5,283.64 L87.5,283.63 L88.5,283.62 L89.5,283.61 L90.5,283.59 L91.5,283.57 L92.5,283.54 L93.5,283.52 L94.5,283.49 L95.5,283.46 L96.5,283.43 L97.5,283.39 L98.5,283.36 L99.5,283.32 L100.5,283.29 L101.5,283.25 L102.5,283.21 L103.5,283.17 L104.5,283.13 L105.5,283.09 L106.5,283.04 L107.5,283 L108.5,282.96 L109.5,282.92 L110.5,282.88 L111.5,282.84 L112.5,282.79 L113.5,282.75 L114.5,282.72 L115.5,282.67 L116.5,282.63 L117.5,282.59 L118.5,282.55 L119.5,282.5 L120.5,282.45 L121.5,282.41 L122.5,282.36 L123.5,282.31 L124.5,282.26 L125.5,282.2 L126.5,282.15 L127.5,282.1 L128.5,282.04 L129.5,281.99 L130.5,281.93 L131.5,281.87 L132.5,281.82 L133.5,281.76 L134.5,281.7 L135.5,281.64 L136.5,281.58 L137.5,281.52 L138.5,281.46 L139.5,281.4 L140.5,281.34 L141.5,281.28 L142.5,281.22 L143.5,281.16 L144.5,281.09 L145.5,281.03 L146.5,280.95 L147.5,280.88 L148.5,280.8 L149.5,280.71 L150.5,280.62 L151.5,280.53 L152.5,280.44 L153.5,280.34 L154.5,280.25 L155.5,280.15 L156.5,280.05 L157.5,279.95 L158.5,279.85 L159.5,279.76 L160.5,279.66 L161.5,279.57 L162.5,279.48 L163.5,279.39 L164.5,279.31 L165.5,279.22 L166.5,279.15 L167.5,279.07 L168.5,279.01 L169.5,278.95 L170.5,278.89 L171.5,278.84 L172.5,278.8 L173.5,278.77 L174.5,278.74 L175.5,278.72 L176.5,278.71 L177.5,278.71 L178.5,278.72 L179.5,278.73 L180.5,278.76 L181.5,278.78 L182.5,278.82 L183.5,278.86 L184.5,278.91 L185.5,278.96 L186.5,279.01 L187.5,279.07 L188.5,279.14 L189.5,279.2 L190.5,279.27 L191.5,279.35 L192.5,279.42 L193.5,279.5 L194.5,279.58 L195.5,279.66 L196.5,279.74 L197.5,279.82 L198.5,279.9 L199.5,279.98 L200.5,280.06 L201.5,280.13 L202.5,280.21 L203.5,280.28 L204.5,280.36 L205.5,280.43 L206.5,280.51 L207.5,280.6 L208.5,280.69 L209.5,280.78 L210.5,280.87 L211.5,280.96 L212.5,281.05 L213.5,281.14 L214.5,281.24 L215.5,281.33 L216.5,281.42 L217.5,281.5 L218.5,281.58 L219.5,281.66 L220.5,281.74 L221.5,281.8 L222.5,281.86 L223.5,281.92 L224.5,281.97 L225.5,282.03 L226.5,282.08 L227.5,282.13 L228.5,282.18 L229.5,282.23 L230.5,282.29 L231.5,282.35 L232.5,282.42 L233.5,282.5 L234.5,282.59 L235.5,282.68 L236.5,282.79 L237.5,282.94 L238.5,283.13 L239.5,283.35 L240.5,283.6 L241.5,283.87 L242.5,284.15 L243.5,284.43 L244.5,284.72 L245.5,285.01 L246.5,285.29 L247.5,285.57 L248.5,285.86 L249.5,286.16 L250.5,286.47 L251.5,286.79 L252.5,287.12 L253.5,287.46 L254.5,287.81 L255.5,288.18 L256.5,288.56 L257.5,288.95 L258.5,289.35 L259.5,289.77 L260.5,290.2 L261.5,290.66 L262.5,291.13 L263.5,291.63 L264.5,292.16 L265.5,292.73 L266.5,293.32 L267.5,293.98 L268.5,294.71 L269.5,295.51 L270.5,296.35 L271.5,297.23 L272.5,298.15 L273.5,299.09 L274.5,300.05 L275.5,301.01 L276.5,301.97 L277.5,302.91 L278.5,303.89 L279.5,304.9 L280.5,305.93 L281.5,306.98 L282.5,308.03 L283.5,309.08 L284.5,310.1 L285.5,311.11 L286.5,312.08 L287.5,313.03 L288.5,313.97 L289.5,314.91 L290.5,315.86 L291.5,316.82 L292.5,317.81 L293.5,318.85 L294.5,319.91 L295.5,321.01 L296.5,322.14 L297.5,323.28 L298.5,324.45 L299.5,325.63 L300.5,326.83 L301.5,328.04 L302.5,329.25 L303.5,330.47 L304.5,331.69 L305.5,332.91 L306.5,334.14 L307.5,335.37 L308.5,336.61 L309.5,337.85 L310.5,339.11 L311.5,340.37 L312.5,341.64 L313.5,342.91 L314.5,344.2 L315.5,345.49 L316.5,346.79 L317.5,348.09 L318.5,349.41 L319.5,350.73 L320.5,352.06 L321.2,353" fill="none" stroke="#2f6fd6" stroke-width="1.15"/>
<path d="M24.5,272.5 L25.5,272.5 L26.5,272.5 L27.5,272.5 L28.5,272.5 L29.5,272.5 L30.5,272.5 L31.5,272.5 L32.5,272.5 L33.5,272.5 L34.5,272.5 L35.5,272.5 L36.5,272.5 L37.5,272.5 L38.5,272.5 L39.5,272.5 L40.5,272.5 L41.5,272.5 L42.5,272.5 L43.5,272.5 L44.5,272.5 L45.5,272.5 L46.5,272.5 L47.5,272.5 L48.5,272.5 L49.5,272.5 L50.5,272.5 L51.5,272.5 L52.5,272.5 L53.5,272.5 L54.5,272.5 L55.5,272.5 L56.5,272.5 L57.5,272.5 L58.5,272.5 L59.5,272.5 L60.5,272.5 L61.5,272.5 L62.5,272.5 L63.5,272.5 L64.5,272.5 L65.5,272.5 L66.5,272.5 L67.5,272.5 L68.5,272.5 L69.5,272.5 L70.5,272.5 L71.5,272.5 L72.5,272.5 L73.5,272.5 L74.5,272.5 L75.5,272.5 L76.5,272.5 L77.5,272.5 L78.5,272.5 L79.5,272.5 L80.5,272.5 L81.5,272.5 L82.5,272.5 L83.5,272.5 L84.5,272.5 L85.5,272.5 L86.5,272.5 L87.5,272.5 L88.5,272.5 L89.5,272.5 L90.5,272.5 L91.5,272.5 L92.5,272.5 L93.5,272.5 L94.5,272.5 L95.5,272.5 L96.5,272.5 L97.5,272.5 L98.5,272.5 L99.5,272.5 L100.5,272.5 L101.5,272.5 L102.5,272.5 L103.5,272.5 L104.5,272.5 L105.5,272.5 L106.5,272.5 L107.5,272.5 L108.5,272.5 L109.5,272.5 L110.5,272.5 L111.5,272.5 L112.5,272.5 L113.5,272.5 L114.5,272.5 L115.5,272.5 L116.5,272.5 L117.5,272.5 L118.5,272.5 L119.5,272.5 L120.5,272.5 L121.5,272.5 L122.5,272.5 L123.5,272.5 L124.5,272.5 L125.5,272.5 L126.5,272.5 L127.5,272.5 L128.5,272.5 L129.5,272.5 L130.5,272.5 L131.5,272.5 L132.5,272.5 L133.5,272.5 L134.5,272.5 L135.5,272.5 L136.5,272.5 L137.5,272.5 L138.5,272.5 L139.5,272.5 L140.5,272.5 L141.5,272.5 L142.5,272.5 L143.5,272.5 L144.5,272.5 L145.5,272.5 L146.5,272.5 L147.5,272.5 L148.5,272.5 L149.5,272.5 L150.5,272.5 L151.5,272.5 L152.5,272.5 L153.5,272.5 L154.5,272.5 L155.5,272.5 L156.5,272.5 L157.5,272.5 L158.5,272.5 L159.5,272.5 L160.5,272.5 L161.5,272.5 L162.5,272.5 L163.5,272.5 L164.5,272.5 L165.5,272.5 L166.5,272.5 L167.5,272.5 L168.5,272.5 L169.5,272.5 L170.5,272.5 L171.5,272.5 L172.5,272.5 L173.5,272.5 L174.5,272.5 L175.5,272.5 L176.5,272.5 L177.5,272.5 L178.5,272.5 L179.5,272.5 L180.5,272.5 L181.5,272.5 L182.5,272.5 L183.5,272.5 L184.5,272.5 L185.5,272.5 L186.5,272.5 L187.5,272.5 L188.5,272.5 L189.5,272.5 L190.5,272.5 L191.5,272.5 L192.5,272.5 L193.5,272.5 L194.5,272.5 L195.5,272.5 L196.5,272.5 L197.5,272.5 L198.5,272.5 L199.5,272.5 L200.5,272.5 L201.5,272.5 L202.5,272.5 L203.5,272.5 L204.5,272.5 L205.5,272.5 L206.5,272.5 L207.5,272.5 L208.5,272.5 L209.5,272.5 L210.5,272.5 L211.5,272.5 L212.5,272.5 L213.5,272.5 L214.5,272.5 L215.5,272.5 L216.5,272.5 L217.5,272.5 L218.5,272.5 L219.5,272.5 L220.5,272.5 L221.5,272.5 L222.5,272.5 L223.5,272.5 L224.5,272.5 L225.5,272.5 L226.5,272.5 L227.5,272.5 L228.5,272.5 L229.5,272.5 L230.5,272.5 L231.5,272.5 L232.5,272.5 L233.5,272.5 L234.5,272.5 L235.5,272.5 L236.5,272.5 L237.5,272.5 L238.5,272.5 L239.5,272.5 L240.5,272.5 L241.5,272.5 L242.5,272.5 L243.5,272.5 L244.5,272.5 L245.5,272.5 L246.5,272.5 L247.5,272.5 L248.5,272.5 L249.5,272.5 L250.5,272.5 L251.5,272.5 L252.5,272.5 L253.5,272.5 L254.5,272.5 L255.5,272.5 L256.5,272.5 L257.5,272.5 L258.5,272.5 L259.5,272.5 L260.5,272.5 L261.5,272.5 L262.5,272.5 L263.5,272.5 L264.5,272.5 L265.5,272.5 L266.5,272.5 L267.5,272.5 L268.5,272.5 L269.5,272.5 L270.5,272.5 L271.5,272.5 L272.5,272.5 L273.5,272.5 L274.5,272.5 L275.5,272.5 L276.5,272.5 L277.5,272.5 L278.5,272.5 L279.5,272.5 L280.5,272.5 L281.5,272.5 L282.5,272.5 L283.5,272.5 L284.5,272.5 L285.5,272.5 L286.5,272.5 L287.5,272.5 L288.5,272.5 L289.5,272.5 L290.5,272.5 L291.5,272.5 L292.5,272.5 L293.5,272.5 L294.5,272.5 L295.5,272.5 L296.5,272.5 L297.5,272.5 L298.5,272.5 L299.5,272.5 L300.5,272.5 L301.5,272.5 L302.5,272.5 L303.5,272.5 L304.5,272.5 L305.5,272.5 L306.5,272.5 L307.5,272.5 L308.5,272.5 L309.5,272.5 L310.5,272.5 L311.5,272.5 L312.5,272.5 L313.5,272.5 L314.5,272.5 L315.5,272.5 L316.5,272.5 L317.5,272.5 L318.5,272.5 L319.5,272.5 L320.5,272.5 L321.2,272.5" fill="none" stroke="#2f6fd6" stroke-width="1.4" stroke-dasharray="3.8 2.8"/>
<path d="M24.5,257.2 L25.5,257.22 L26.5,257.23 L27.5,257.25 L28.5,257.26 L29.5,257.27 L30.5,257.29 L31.5,257.3 L32.5,257.31 L33.5,257.33 L34.5,257.34 L35.5,257.36 L36.5,257.37 L37.5,257.38 L38.5,257.4 L39.5,257.41 L40.5,257.42 L41.5,257.44 L42.5,257.45 L43.5,257.46 L44.5,257.48 L45.5,257.49 L46.5,257.5 L47.5,257.52 L48.5,257.53 L49.5,257.55 L50.5,257.56 L51.5,257.57 L52.5,257.59 L53.5,257.6 L54.5,257.61 L55.5,257.63 L56.5,257.64 L57.5,257.65 L58.5,257.67 L59.5,257.68 L60.5,257.69 L61.5,257.71 L62.5,257.72 L63.5,257.73 L64.5,257.75 L65.5,257.76 L66.5,257.78 L67.5,257.79 L68.5,257.8 L69.5,257.82 L70.5,257.83 L71.5,257.84 L72.5,257.86 L73.5,257.87 L74.5,257.88 L75.5,257.9 L76.5,257.91 L77.5,257.92 L78.5,257.94 L79.5,257.95 L80.5,257.96 L81.5,257.98 L82.5,257.99 L83.5,258 L84.5,258.02 L85.5,258.03 L86.5,258.04 L87.5,258.05 L88.5,258.07 L89.5,258.08 L90.5,258.09 L91.5,258.1 L92.5,258.11 L93.5,258.12 L94.5,258.14 L95.5,258.15 L96.5,258.16 L97.5,258.17 L98.5,258.18 L99.5,258.19 L100.5,258.21 L101.5,258.22 L102.5,258.23 L103.5,258.25 L104.5,258.26 L105.5,258.28 L106.5,258.29 L107.5,258.31 L108.5,258.33 L109.5,258.35 L110.5,258.36 L111.5,258.39 L112.5,258.41 L113.5,258.43 L114.5,258.45 L115.5,258.48 L116.5,258.51 L117.5,258.54 L118.5,258.56 L119.5,258.59 L120.5,258.63 L121.5,258.66 L122.5,258.69 L123.5,258.73 L124.5,258.76 L125.5,258.8 L126.5,258.84 L127.5,258.87 L128.5,258.91 L129.5,258.95 L130.5,258.99 L131.5,259.03 L132.5,259.07 L133.5,259.11 L134.5,259.16 L135.5,259.2 L136.5,259.24 L137.5,259.29 L138.5,259.33 L139.5,259.37 L140.5,259.42 L141.5,259.46 L142.5,259.51 L143.5,259.55 L144.5,259.6 L145.5,259.65 L146.5,259.69 L147.5,259.74 L148.5,259.78 L149.5,259.83 L150.5,259.87 L151.5,259.92 L152.5,259.97 L153.5,260.01 L154.5,260.06 L155.5,260.11 L156.5,260.17 L157.5,260.22 L158.5,260.27 L159.5,260.32 L160.5,260.38 L161.5,260.43 L162.5,260.49 L163.5,260.55 L164.5,260.6 L165.5,260.66 L166.5,260.72 L167.5,260.78 L168.5,260.84 L169.5,260.9 L170.5,260.96 L171.5,261.02 L172.5,261.08 L173.5,261.15 L174.5,261.21 L175.5,261.27 L176.5,261.33 L177.5,261.39 L178.5,261.46 L179.5,261.52 L180.5,261.58 L181.5,261.64 L182.5,261.71 L183.5,261.78 L184.5,261.84 L185.5,261.91 L186.5,261.98 L187.5,262.05 L188.5,262.12 L189.5,262.2 L190.5,262.28 L191.5,262.36 L192.5,262.44 L193.5,262.52 L194.5,262.61 L195.5,262.7 L196.5,262.79 L197.5,262.89 L198.5,262.99 L199.5,263.09 L200.5,263.19 L201.5,263.31 L202.5,263.44 L203.5,263.57 L204.5,263.73 L205.5,263.9 L206.5,264.1 L207.5,264.36 L208.5,264.69 L209.5,265.06 L210.5,265.47 L211.5,265.89 L212.5,266.32 L213.5,266.74 L214.5,267.14 L215.5,267.5 L216.5,267.86 L217.5,268.22 L218.5,268.57 L219.5,268.93 L220.5,269.28 L221.5,269.63 L222.5,269.97 L223.5,270.32 L224.5,270.66 L225.5,271 L226.5,271.34 L227.5,271.68 L228.5,272.01 L229.5,272.34 L230.5,272.66 L231.5,273 L232.5,273.35 L233.5,273.7 L234.5,274.04 L235.5,274.37 L236.5,274.69 L237.5,274.99 L238.5,275.26 L239.5,275.5 L240.5,275.71 L241.5,275.91 L242.5,276.1 L243.5,276.29 L244.5,276.47 L245.5,276.63 L246.5,276.78 L247.5,276.9 L248.5,277 L249.5,277.08 L250.5,277.12 L251.5,277.16 L252.5,277.19 L253.5,277.22 L254.5,277.25 L255.5,277.28 L256.5,277.3 L257.5,277.31 L258.5,277.32 L259.5,277.33 L260.5,277.33 L261.5,277.31 L262.5,277.27 L263.5,277.22 L264.5,277.16 L265.5,277.08 L266.5,277 L267.5,276.9 L268.5,276.8 L269.5,276.69 L270.5,276.58 L271.5,276.42 L272.5,276.22 L273.5,275.99 L274.5,275.73 L275.5,275.45 L276.5,275.17 L277.5,274.89 L278.5,274.57 L279.5,274.24 L280.5,273.87 L281.5,273.5 L282.5,273.1 L283.5,272.7 L284.5,272.3 L285.5,271.88 L286.5,271.45 L287.5,271.02 L288.5,270.57 L289.5,270.11 L290.5,269.65 L291.5,269.17 L292.5,268.68 L293.5,268.19 L294.5,267.68 L295.5,267.16 L296.5,266.63 L297.5,266.09 L298.5,265.54 L299.5,264.97 L300.5,264.4 L301.5,263.81 L302.5,263.21 L303.5,262.6 L304.5,261.97 L305.5,261.34 L306.5,260.69 L307.5,260.03 L308.5,259.36 L309.5,258.68 L310.5,257.98 L311.5,257.28 L312.5,256.56 L313.5,255.83 L314.5,255.09 L315.5,254.34 L316.5,253.58 L317.5,252.8 L318.5,252.02 L319.5,251.22 L320.5,250.42 L321.2,249.84" fill="none" stroke="#cf9a1c" stroke-width="1.15"/>
<path d="M24.5,271.93 L25.5,271.92 L26.5,271.92 L27.5,271.92 L28.5,271.92 L29.5,271.92 L30.5,271.92 L31.5,271.92 L32.5,271.91 L33.5,271.91 L34.5,271.91 L35.5,271.9 L36.5,271.9 L37.5,271.89 L38.5,271.89 L39.5,271.88 L40.5,271.88 L41.5,271.87 L42.5,271.86 L43.5,271.86 L44.5,271.85 L45.5,271.84 L46.5,271.84 L47.5,271.83 L48.5,271.82 L49.5,271.81 L50.5,271.8 L51.5,271.79 L52.5,271.78 L53.5,271.77 L54.5,271.76 L55.5,271.75 L56.5,271.74 L57.5,271.73 L58.5,271.72 L59.5,271.71 L60.5,271.7 L61.5,271.69 L62.5,271.67 L63.5,271.66 L64.5,271.65 L65.5,271.63 L66.5,271.62 L67.5,271.61 L68.5,271.59 L69.5,271.58 L70.5,271.57 L71.5,271.55 L72.5,271.54 L73.5,271.52 L74.5,271.51 L75.5,271.49 L76.5,271.47 L77.5,271.46 L78.5,271.44 L79.5,271.43 L80.5,271.41 L81.5,271.39 L82.5,271.38 L83.5,271.36 L84.5,271.34 L85.5,271.32 L86.5,271.29 L87.5,271.26 L88.5,271.22 L89.5,271.18 L90.5,271.14 L91.5,271.1 L92.5,271.05 L93.5,271 L94.5,270.95 L95.5,270.89 L96.5,270.84 L97.5,270.78 L98.5,270.73 L99.5,270.67 L100.5,270.62 L101.5,270.57 L102.5,270.51 L103.5,270.46 L104.5,270.41 L105.5,270.37 L106.5,270.32 L107.5,270.28 L108.5,270.25 L109.5,270.21 L110.5,270.19 L111.5,270.16 L112.5,270.13 L113.5,270.1 L114.5,270.07 L115.5,270.04 L116.5,270.01 L117.5,269.99 L118.5,269.96 L119.5,269.93 L120.5,269.9 L121.5,269.87 L122.5,269.85 L123.5,269.82 L124.5,269.79 L125.5,269.77 L126.5,269.74 L127.5,269.72 L128.5,269.69 L129.5,269.67 L130.5,269.64 L131.5,269.62 L132.5,269.6 L133.5,269.58 L134.5,269.56 L135.5,269.54 L136.5,269.52 L137.5,269.51 L138.5,269.49 L139.5,269.47 L140.5,269.46 L141.5,269.45 L142.5,269.44 L143.5,269.43 L144.5,269.42 L145.5,269.41 L146.5,269.4 L147.5,269.4 L148.5,269.4 L149.5,269.4 L150.5,269.4 L151.5,269.4 L152.5,269.42 L153.5,269.44 L154.5,269.47 L155.5,269.5 L156.5,269.54 L157.5,269.59 L158.5,269.64 L159.5,269.7 L160.5,269.76 L161.5,269.82 L162.5,269.89 L163.5,269.97 L164.5,270.05 L165.5,270.13 L166.5,270.21 L167.5,270.29 L168.5,270.38 L169.5,270.47 L170.5,270.56 L171.5,270.66 L172.5,270.75 L173.5,270.84 L174.5,270.94 L175.5,271.05 L176.5,271.16 L177.5,271.29 L178.5,271.43 L179.5,271.58 L180.5,271.74 L181.5,271.91 L182.5,272.09 L183.5,272.27 L184.5,272.47 L185.5,272.67 L186.5,272.88 L187.5,273.09 L188.5,273.31 L189.5,273.54 L190.5,273.77 L191.5,274.04 L192.5,274.33 L193.5,274.65 L194.5,274.99 L195.5,275.33 L196.5,275.69 L197.5,276.04 L198.5,276.38 L199.5,276.71 L200.5,277.03 L201.5,277.34 L202.5,277.66 L203.5,277.98 L204.5,278.3 L205.5,278.62 L206.5,278.94 L207.5,279.26 L208.5,279.58 L209.5,279.9 L210.5,280.21 L211.5,280.52 L212.5,280.82 L213.5,281.12 L214.5,281.41 L215.5,281.69 L216.5,281.97 L217.5,282.23 L218.5,282.49 L219.5,282.73 L220.5,282.96 L221.5,283.17 L222.5,283.37 L223.5,283.54 L224.5,283.7 L225.5,283.86 L226.5,284.01 L227.5,284.16 L228.5,284.32 L229.5,284.48 L230.5,284.65 L231.5,284.83 L232.5,285.04 L233.5,285.27 L234.5,285.52 L235.5,285.8 L236.5,286.13 L237.5,286.57 L238.5,287.12 L239.5,287.76 L240.5,288.47 L241.5,289.24 L242.5,290.06 L243.5,290.89 L244.5,291.74 L245.5,292.57 L246.5,293.38 L247.5,294.16 L248.5,294.93 L249.5,295.7 L250.5,296.48 L251.5,297.27 L252.5,298.07 L253.5,298.89 L254.5,299.72 L255.5,300.57 L256.5,301.44 L257.5,302.34 L258.5,303.26 L259.5,304.21 L260.5,305.2 L261.5,306.27 L262.5,307.39 L263.5,308.58 L264.5,309.8 L265.5,311.04 L266.5,312.3 L267.5,313.55 L268.5,314.79 L269.5,316 L270.5,317.17 L271.5,318.29 L272.5,319.35 L273.5,320.41 L274.5,321.47 L275.5,322.53 L276.5,323.58 L277.5,324.63 L278.5,325.67 L279.5,326.71 L280.5,327.75 L281.5,328.78 L282.5,329.81 L283.5,330.83 L284.5,331.85 L285.5,332.86 L286.5,333.87 L287.5,334.88 L288.5,335.87 L289.5,336.87 L290.5,337.85 L291.5,338.83 L292.5,339.81 L293.5,340.78 L294.5,341.74 L295.5,342.69 L296.5,343.64 L297.5,344.58 L298.5,345.52 L299.5,346.45 L300.5,347.37 L301.5,348.28 L302.5,349.19 L303.5,350.08 L304.5,350.97 L305.5,351.85 L306.5,352.73 L307.5,353.59 L308.5,354.45 L309.5,355.3 L310.5,356.13 L311.5,356.96 L312.5,357.78 L313.5,358.59 L314.5,359.39 L315.5,360.19 L316.5,360.97 L317.5,361.74 L318.5,362.5 L319.5,363.25 L320.5,363.99 L321.2,364.5" fill="none" stroke="#cf9a1c" stroke-width="1.15"/>
<path d="M24.5,264.68 L25.5,264.69 L26.5,264.7 L27.5,264.71 L28.5,264.72 L29.5,264.73 L30.5,264.74 L31.5,264.75 L32.5,264.76 L33.5,264.77 L34.5,264.78 L35.5,264.79 L36.5,264.79 L37.5,264.8 L38.5,264.81 L39.5,264.81 L40.5,264.82 L41.5,264.83 L42.5,264.83 L43.5,264.84 L44.5,264.84 L45.5,264.85 L46.5,264.85 L47.5,264.86 L48.5,264.86 L49.5,264.87 L50.5,264.87 L51.5,264.87 L52.5,264.88 L53.5,264.88 L54.5,264.88 L55.5,264.88 L56.5,264.89 L57.5,264.89 L58.5,264.89 L59.5,264.89 L60.5,264.9 L61.5,264.9 L62.5,264.9 L63.5,264.9 L64.5,264.9 L65.5,264.9 L66.5,264.9 L67.5,264.91 L68.5,264.91 L69.5,264.91 L70.5,264.91 L71.5,264.91 L72.5,264.91 L73.5,264.91 L74.5,264.91 L75.5,264.91 L76.5,264.91 L77.5,264.91 L78.5,264.91 L79.5,264.91 L80.5,264.91 L81.5,264.91 L82.5,264.91 L83.5,264.91 L84.5,264.91 L85.5,264.91 L86.5,264.9 L87.5,264.89 L88.5,264.87 L89.5,264.86 L90.5,264.84 L91.5,264.82 L92.5,264.79 L93.5,264.77 L94.5,264.75 L95.5,264.72 L96.5,264.69 L97.5,264.67 L98.5,264.64 L99.5,264.61 L100.5,264.59 L101.5,264.57 L102.5,264.54 L103.5,264.52 L104.5,264.5 L105.5,264.49 L106.5,264.47 L107.5,264.46 L108.5,264.45 L109.5,264.45 L110.5,264.45 L111.5,264.45 L112.5,264.45 L113.5,264.45 L114.5,264.45 L115.5,264.45 L116.5,264.46 L117.5,264.46 L118.5,264.46 L119.5,264.46 L120.5,264.47 L121.5,264.47 L122.5,264.47 L123.5,264.48 L124.5,264.48 L125.5,264.49 L126.5,264.49 L127.5,264.5 L128.5,264.5 L129.5,264.51 L130.5,264.51 L131.5,264.52 L132.5,264.53 L133.5,264.53 L134.5,264.54 L135.5,264.55 L136.5,264.55 L137.5,264.56 L138.5,264.57 L139.5,264.58 L140.5,264.59 L141.5,264.6 L142.5,264.6 L143.5,264.61 L144.5,264.62 L145.5,264.63 L146.5,264.64 L147.5,264.65 L148.5,264.66 L149.5,264.67 L150.5,264.69 L151.5,264.7 L152.5,264.72 L153.5,264.74 L154.5,264.77 L155.5,264.8 L156.5,264.83 L157.5,264.87 L158.5,264.91 L159.5,264.95 L160.5,264.99 L161.5,265.04 L162.5,265.09 L163.5,265.14 L164.5,265.19 L165.5,265.25 L166.5,265.3 L167.5,265.36 L168.5,265.42 L169.5,265.48 L170.5,265.54 L171.5,265.61 L172.5,265.67 L173.5,265.73 L174.5,265.8 L175.5,265.86 L176.5,265.93 L177.5,266 L178.5,266.07 L179.5,266.14 L180.5,266.21 L181.5,266.29 L182.5,266.37 L183.5,266.45 L184.5,266.54 L185.5,266.63 L186.5,266.73 L187.5,266.82 L188.5,266.93 L189.5,267.03 L190.5,267.14 L191.5,267.26 L192.5,267.38 L193.5,267.51 L194.5,267.64 L195.5,267.78 L196.5,267.92 L197.5,268.07 L198.5,268.23 L199.5,268.39 L200.5,268.57 L201.5,268.78 L202.5,269.02 L203.5,269.31 L204.5,269.62 L205.5,269.95 L206.5,270.31 L207.5,270.69 L208.5,271.08 L209.5,271.48 L210.5,271.88 L211.5,272.28 L212.5,272.69 L213.5,273.08 L214.5,273.46 L215.5,273.84 L216.5,274.21 L217.5,274.59 L218.5,274.98 L219.5,275.37 L220.5,275.76 L221.5,276.16 L222.5,276.57 L223.5,276.97 L224.5,277.38 L225.5,277.79 L226.5,278.2 L227.5,278.61 L228.5,279.02 L229.5,279.43 L230.5,279.84 L231.5,280.24 L232.5,280.65 L233.5,281.05 L234.5,281.45 L235.5,281.85 L236.5,282.24 L237.5,282.62 L238.5,283 L239.5,283.37 L240.5,283.73 L241.5,284.1 L242.5,284.47 L243.5,284.83 L244.5,285.21 L245.5,285.59 L246.5,285.98 L247.5,286.38 L248.5,286.8 L249.5,287.23 L250.5,287.68 L251.5,288.15 L252.5,288.64 L253.5,289.15 L254.5,289.68 L255.5,290.22 L256.5,290.77 L257.5,291.33 L258.5,291.89 L259.5,292.46 L260.5,293.02 L261.5,293.59 L262.5,294.14 L263.5,294.69 L264.5,295.23 L265.5,295.76 L266.5,296.28 L267.5,296.78 L268.5,297.28 L269.5,297.78 L270.5,298.27 L271.5,298.77 L272.5,299.28 L273.5,299.79 L274.5,300.32 L275.5,300.86 L276.5,301.42 L277.5,302 L278.5,302.61 L279.5,303.24 L280.5,303.89 L281.5,304.56 L282.5,305.24 L283.5,305.93 L284.5,306.63 L285.5,307.33 L286.5,308.03 L287.5,308.73 L288.5,309.43 L289.5,310.11 L290.5,310.78 L291.5,311.44 L292.5,312.09 L293.5,312.74 L294.5,313.38 L295.5,314.02 L296.5,314.67 L297.5,315.33 L298.5,316 L299.5,316.68 L300.5,317.39 L301.5,318.12 L302.5,318.88 L303.5,319.66 L304.5,320.44 L305.5,321.25 L306.5,322.06 L307.5,322.9 L308.5,323.74 L309.5,324.6 L310.5,325.48 L311.5,326.37 L312.5,327.27 L313.5,328.19 L314.5,329.12 L315.5,330.07 L316.5,331.03 L317.5,332.01 L318.5,333 L319.5,334.01 L320.5,335.03 L321.2,335.75" fill="none" stroke="#cf9a1c" stroke-width="1.15"/>
</g>
<path d="M24.5,207.5 v-3 M24.5,3.5 v3 M55.21,207.5 v-1.6 M55.21,3.5 v1.6 M73.17,207.5 v-1.6 M73.17,3.5 v1.6 M85.91,207.5 v-1.6 M85.91,3.5 v1.6 M95.79,207.5 v-1.6 M95.79,3.5 v1.6 M103.87,207.5 v-1.6 M103.87,3.5 v1.6 M110.7,207.5 v-1.6 M110.7,3.5 v1.6 M116.62,207.5 v-1.6 M116.62,3.5 v1.6 M121.83,207.5 v-1.6 M121.83,3.5 v1.6 M126.5,207.5 v-3 M126.5,3.5 v3 M157.21,207.5 v-1.6 M157.21,3.5 v1.6 M175.17,207.5 v-1.6 M175.17,3.5 v1.6 M187.91,207.5 v-1.6 M187.91,3.5 v1.6 M197.79,207.5 v-1.6 M197.79,3.5 v1.6 M205.87,207.5 v-1.6 M205.87,3.5 v1.6 M212.7,207.5 v-1.6 M212.7,3.5 v1.6 M218.62,207.5 v-1.6 M218.62,3.5 v1.6 M223.83,207.5 v-1.6 M223.83,3.5 v1.6 M228.5,207.5 v-3 M228.5,3.5 v3 M259.21,207.5 v-1.6 M259.21,3.5 v1.6 M277.17,207.5 v-1.6 M277.17,3.5 v1.6 M289.91,207.5 v-1.6 M289.91,3.5 v1.6 M299.79,207.5 v-1.6 M299.79,3.5 v1.6 M307.87,207.5 v-1.6 M307.87,3.5 v1.6 M314.7,207.5 v-1.6 M314.7,3.5 v1.6 M320.62,207.5 v-1.6 M320.62,3.5 v1.6 M325.83,207.5 v-1.6 M325.83,3.5 v1.6 M330.5,207.5 v-3 M330.5,3.5 v3 M24.5,207.5 h3 M330.5,207.5 h-3 M24.5,182 h3 M330.5,182 h-3 M24.5,156.5 h3 M330.5,156.5 h-3 M24.5,131 h3 M330.5,131 h-3 M24.5,105.5 h3 M330.5,105.5 h-3 M24.5,80 h3 M330.5,80 h-3 M24.5,54.5 h3 M330.5,54.5 h-3 M24.5,29 h3 M330.5,29 h-3 M24.5,3.5 h3 M330.5,3.5 h-3" stroke="#606060" stroke-width="0.8" fill="none"/>
<path d="M24,3.5 H331 M24,207.5 H331" stroke="#505050" stroke-width="1.2" fill="none"/>
<path d="M24.5,3.5 V207.5 M330.5,3.5 V207.5" stroke="#7a7a7a" stroke-width="1.4" fill="none"/>
<text transform="translate(24.5,217) scale(0.86,1)" font-size="8.8" text-anchor="middle" fill="#111">10<tspan font-size="5.2" dy="-4.2">-3</tspan></text>
<text transform="translate(126.5,217) scale(0.86,1)" font-size="8.8" text-anchor="middle" fill="#111">10<tspan font-size="5.2" dy="-4.2">-2</tspan></text>
<text transform="translate(228.5,217) scale(0.86,1)" font-size="8.8" text-anchor="middle" fill="#111">10<tspan font-size="5.2" dy="-4.2">-1</tspan></text>
<text transform="translate(330.5,217) scale(0.86,1)" font-size="8.8" text-anchor="middle" fill="#111">10<tspan font-size="5.2" dy="-4.2">0</tspan></text>
<text transform="translate(23.2,210.1) scale(0.88,1)" font-size="8.8" text-anchor="end" fill="#111">0</text>
<text transform="translate(23.2,184.6) scale(0.88,1)" font-size="8.8" text-anchor="end" fill="#111">2</text>
<text transform="translate(23.2,159.1) scale(0.88,1)" font-size="8.8" text-anchor="end" fill="#111">4</text>
<text transform="translate(23.2,133.6) scale(0.88,1)" font-size="8.8" text-anchor="end" fill="#111">6</text>
<text transform="translate(23.2,108.1) scale(0.88,1)" font-size="8.8" text-anchor="end" fill="#111">8</text>
<text transform="translate(23.2,82.6) scale(0.88,1)" font-size="8.8" text-anchor="end" fill="#111">10</text>
<text transform="translate(23.2,57.1) scale(0.88,1)" font-size="8.8" text-anchor="end" fill="#111">12</text>
<text transform="translate(23.2,31.6) scale(0.88,1)" font-size="8.8" text-anchor="end" fill="#111">14</text>
<text transform="translate(23.2,6.1) scale(0.88,1)" font-size="8.8" text-anchor="end" fill="#111">16</text>
<path d="M24.5,318.5 v-3 M24.5,226.5 v3 M55.21,318.5 v-1.6 M55.21,226.5 v1.6 M73.17,318.5 v-1.6 M73.17,226.5 v1.6 M85.91,318.5 v-1.6 M85.91,226.5 v1.6 M95.79,318.5 v-1.6 M95.79,226.5 v1.6 M103.87,318.5 v-1.6 M103.87,226.5 v1.6 M110.7,318.5 v-1.6 M110.7,226.5 v1.6 M116.62,318.5 v-1.6 M116.62,226.5 v1.6 M121.83,318.5 v-1.6 M121.83,226.5 v1.6 M126.5,318.5 v-3 M126.5,226.5 v3 M157.21,318.5 v-1.6 M157.21,226.5 v1.6 M175.17,318.5 v-1.6 M175.17,226.5 v1.6 M187.91,318.5 v-1.6 M187.91,226.5 v1.6 M197.79,318.5 v-1.6 M197.79,226.5 v1.6 M205.87,318.5 v-1.6 M205.87,226.5 v1.6 M212.7,318.5 v-1.6 M212.7,226.5 v1.6 M218.62,318.5 v-1.6 M218.62,226.5 v1.6 M223.83,318.5 v-1.6 M223.83,226.5 v1.6 M228.5,318.5 v-3 M228.5,226.5 v3 M259.21,318.5 v-1.6 M259.21,226.5 v1.6 M277.17,318.5 v-1.6 M277.17,226.5 v1.6 M289.91,318.5 v-1.6 M289.91,226.5 v1.6 M299.79,318.5 v-1.6 M299.79,226.5 v1.6 M307.87,318.5 v-1.6 M307.87,226.5 v1.6 M314.7,318.5 v-1.6 M314.7,226.5 v1.6 M320.62,318.5 v-1.6 M320.62,226.5 v1.6 M325.83,318.5 v-1.6 M325.83,226.5 v1.6 M330.5,318.5 v-3 M330.5,226.5 v3 M24.5,318.5 h3 M330.5,318.5 h-3 M24.5,307 h3 M330.5,307 h-3 M24.5,295.5 h3 M330.5,295.5 h-3 M24.5,284 h3 M330.5,284 h-3 M24.5,272.5 h3 M330.5,272.5 h-3 M24.5,261 h3 M330.5,261 h-3 M24.5,249.5 h3 M330.5,249.5 h-3 M24.5,238 h3 M330.5,238 h-3 M24.5,226.5 h3 M330.5,226.5 h-3" stroke="#606060" stroke-width="0.8" fill="none"/>
<path d="M24,226.5 H331 M24,318.5 H331" stroke="#505050" stroke-width="1.2" fill="none"/>
<path d="M24.5,226.5 V318.5 M330.5,226.5 V318.5" stroke="#7a7a7a" stroke-width="1.4" fill="none"/>
<text transform="translate(24.5,328) scale(0.86,1)" font-size="8.8" text-anchor="middle" fill="#111">10<tspan font-size="5.2" dy="-4.2">-3</tspan></text>
<text transform="translate(126.5,328) scale(0.86,1)" font-size="8.8" text-anchor="middle" fill="#111">10<tspan font-size="5.2" dy="-4.2">-2</tspan></text>
<text transform="translate(228.5,328) scale(0.86,1)" font-size="8.8" text-anchor="middle" fill="#111">10<tspan font-size="5.2" dy="-4.2">-1</tspan></text>
<text transform="translate(330.5,328) scale(0.86,1)" font-size="8.8" text-anchor="middle" fill="#111">10<tspan font-size="5.2" dy="-4.2">0</tspan></text>
<text transform="translate(23.2,321.1) scale(0.88,1)" font-size="8.8" text-anchor="end" fill="#111">0.6</text>
<text transform="translate(23.2,309.6) scale(0.88,1)" font-size="8.8" text-anchor="end" fill="#111">0.7</text>
<text transform="translate(23.2,298.1) scale(0.88,1)" font-size="8.8" text-anchor="end" fill="#111">0.8</text>
<text transform="translate(23.2,286.6) scale(0.88,1)" font-size="8.8" text-anchor="end" fill="#111">0.9</text>
<text transform="translate(23.2,275.1) scale(0.88,1)" font-size="8.8" text-anchor="end" fill="#111">1.0</text>
<text transform="translate(23.2,263.6) scale(0.88,1)" font-size="8.8" text-anchor="end" fill="#111">1.1</text>
<text transform="translate(23.2,252.1) scale(0.88,1)" font-size="8.8" text-anchor="end" fill="#111">1.2</text>
<text transform="translate(23.2,240.6) scale(0.88,1)" font-size="8.8" text-anchor="end" fill="#111">1.3</text>
<text transform="translate(23.2,229.1) scale(0.88,1)" font-size="8.8" text-anchor="end" fill="#111">1.4</text>
<text transform="translate(12.8,106.7) rotate(-90)" font-family="Liberation Serif" font-style="italic" font-size="12.5" text-anchor="middle" fill="#111" style="stroke-width:0.05px" textLength="27.4" lengthAdjust="spacingAndGlyphs">xg(x)</text>
<path transform="translate(4.9,273) rotate(-90)" d="M-4.5,-2.5 C-4,-3.5 -2.5,-4.3 -1.5,-4 M-1.5,-4 C-2,-1 -2.5,1.5 -3.25,3.5 M-1.5,-4 C0,-4.8 3.5,-4.2 3.5,-2.8 C3.5,-1.6 1.8,-1.3 0.5,-1.5 M0.5,-1.5 C1.2,0 1.5,2 2.5,3.3 C3.3,4.2 4.5,3.5 4.75,2.5" fill="none" stroke="#111" stroke-width="1.05" stroke-linecap="round"/>
<text x="177.5" y="340.5" font-family="Liberation Serif" font-style="italic" font-size="12" text-anchor="middle" fill="#111" style="stroke-width:0.1px">x</text>
<text x="153.8" y="354.7" font-family="Liberation Serif" font-size="13" fill="#111" style="stroke-width:0.12px" textLength="54.0" lengthAdjust="spacingAndGlyphs"><tspan font-weight="bold">(a)</tspan> <tspan font-style="italic">g</tspan> PDF</text>
<rect x="232.2" y="8.4" width="94.3" height="39.8" fill="#fff" stroke="#606060" stroke-width="1"/>
<text x="236" y="18.2" font-family="Liberation Serif" font-size="9.2" fill="#111" textLength="86.3" lengthAdjust="spacingAndGlyphs"><tspan font-style="italic">Q</tspan> = 10 GeV, Nrep = 10000</text>
<path d="M248.2,27 h10.9" stroke="#2f6fd6" stroke-width="1.8" stroke-dasharray="4 2.6"/>
<path d="M248.2,39.6 h13.5" stroke="#cf9a1c" stroke-width="1.6"/>
<text x="271.3" y="29.2" font-family="Liberation Serif" font-size="9.2" fill="#111" textLength="40.4" lengthAdjust="spacingAndGlyphs">before rew.</text>
<text x="271.3" y="42.7" font-family="Liberation Serif" font-size="9.2" fill="#111" textLength="34" lengthAdjust="spacingAndGlyphs">after rew.</text>
<g clip-path="url(#ctR)">
<path d="M374,14.74 L375,16.02 L376,17.29 L377,18.55 L378,19.81 L379,21.06 L380,22.3 L381,23.54 L382,24.77 L383,25.99 L384,27.21 L385,28.42 L386,29.63 L387,30.82 L388,32.01 L389,33.19 L390,34.37 L391,35.54 L392,36.7 L393,37.86 L394,39.01 L395,40.15 L396,41.28 L397,42.41 L398,43.53 L399,44.65 L400,45.75 L401,46.85 L402,47.95 L403,49.04 L404,50.11 L405,51.19 L406,52.25 L407,53.31 L408,54.36 L409,55.41 L410,56.44 L411,57.47 L412,58.49 L413,59.5 L414,60.51 L415,61.5 L416,62.49 L417,63.47 L418,64.44 L419,65.4 L420,66.36 L421,67.3 L422,68.24 L423,69.18 L424,70.1 L425,71.02 L426,71.93 L427,72.83 L428,73.73 L429,74.62 L430,75.5 L431,76.37 L432,77.24 L433,78.11 L434,78.96 L435,79.81 L436,80.65 L437,81.49 L438,82.32 L439,83.15 L440,83.97 L441,84.78 L442,85.58 L443,86.38 L444,87.16 L445,87.94 L446,88.71 L447,89.47 L448,90.23 L449,90.97 L450,91.71 L451,92.45 L452,93.17 L453,93.88 L454,94.59 L455,95.29 L456,95.98 L457,96.67 L458,97.36 L459,98.04 L460,98.72 L461,99.4 L462,100.08 L463,100.76 L464,101.44 L465,102.12 L466,102.81 L467,103.5 L468,104.19 L469,104.89 L470,105.6 L471,106.31 L472,107.02 L473,107.74 L474,108.46 L475,109.18 L476,109.91 L477,110.64 L478,111.36 L479,112.09 L480,112.82 L481,113.54 L482,114.27 L483,114.99 L484,115.71 L485,116.43 L486,117.15 L487,117.87 L488,118.58 L489,119.3 L490,120.01 L491,120.73 L492,121.44 L493,122.15 L494,122.86 L495,123.57 L496,124.29 L497,125 L498,125.72 L499,126.44 L500,127.16 L501,127.88 L502,128.6 L503,129.32 L504,130.04 L505,130.75 L506,131.47 L507,132.19 L508,132.9 L509,133.61 L510,134.32 L511,135.04 L512,135.74 L513,136.45 L514,137.16 L515,137.86 L516,138.57 L517,139.27 L518,139.96 L519,140.66 L520,141.35 L521,142.04 L522,142.73 L523,143.41 L524,144.09 L525,144.77 L526,145.44 L527,146.11 L528,146.78 L529,147.45 L530,148.12 L531,148.78 L532,149.45 L533,150.11 L534,150.77 L535,151.44 L536,152.1 L537,152.76 L538,153.43 L539,154.09 L540,154.76 L541,155.43 L542,156.1 L543,156.78 L544,157.45 L545,158.13 L546,158.81 L547,159.49 L548,160.18 L549,160.87 L550,161.56 L551,162.26 L552,162.96 L553,163.67 L554,164.38 L555,165.1 L556,165.81 L557,166.53 L558,167.25 L559,167.97 L560,168.7 L561,169.42 L562,170.16 L563,170.89 L564,171.64 L565,172.38 L566,173.13 L567,173.87 L568,174.62 L569,175.35 L570,176.09 L571,176.82 L572,177.54 L573,178.26 L574,178.98 L575,179.68 L576,180.38 L577,181.06 L578,181.74 L579,182.4 L580,183.05 L581,183.69 L582,184.32 L583,184.94 L584,185.56 L585,186.17 L586,186.77 L587,187.36 L588,187.95 L589,188.52 L590,189.09 L591,189.64 L592,190.18 L593,190.71 L594,191.23 L595,191.73 L596,192.21 L597,192.69 L598,193.15 L599,193.6 L600,194.05 L601,194.49 L602,194.92 L603,195.34 L604,195.76 L605,196.17 L606,196.58 L607,196.98 L608,197.38 L609,197.78 L610,198.18 L611,198.57 L612,198.98 L613,199.38 L614,199.79 L615,200.19 L616,200.59 L617,200.99 L618,201.38 L619,201.76 L620,202.12 L621,202.48 L622,202.82 L623,203.14 L624,203.44 L625,203.72 L626,203.99 L627,204.25 L628,204.52 L629,204.77 L630,205.02 L631,205.27 L632,205.5 L633,205.73 L634,205.94 L635,206.14 L636,206.33 L637,206.5 L638,206.65 L639,206.78 L640,206.89 L641,206.99 L642,207.09 L643,207.19 L644,207.28 L645,207.37 L646,207.45 L647,207.53 L648,207.6 L649,207.67 L650,207.73 L651,207.79 L652,207.83 L653,207.87 L654,207.9 L655,207.91 L656,207.92 L657,207.93 L658,207.94 L659,207.95 L660,207.96 L661,207.97 L662,207.97 L663,207.98 L664,207.99 L665,207.99 L666,208 L667,208 L668,208 L669,208 L669.2,208 L669.2,208 L669,208 L668,208 L667,208 L666,208 L665,208 L664,207.99 L663,207.99 L662,207.99 L661,207.98 L660,207.98 L659,207.98 L658,207.97 L657,207.97 L656,207.96 L655,207.95 L654,207.94 L653,207.92 L652,207.9 L651,207.87 L650,207.84 L649,207.79 L648,207.75 L647,207.7 L646,207.64 L645,207.58 L644,207.51 L643,207.44 L642,207.37 L641,207.3 L640,207.22 L639,207.14 L638,207.04 L637,206.92 L636,206.79 L635,206.65 L634,206.49 L633,206.33 L632,206.15 L631,205.97 L630,205.77 L629,205.57 L628,205.36 L627,205.15 L626,204.94 L625,204.72 L624,204.48 L623,204.23 L622,203.97 L621,203.68 L620,203.38 L619,203.07 L618,202.74 L617,202.41 L616,202.06 L615,201.71 L614,201.35 L613,200.98 L612,200.62 L611,200.25 L610,199.88 L609,199.51 L608,199.13 L607,198.75 L606,198.37 L605,197.98 L604,197.58 L603,197.17 L602,196.76 L601,196.34 L600,195.92 L599,195.48 L598,195.04 L597,194.58 L596,194.12 L595,193.65 L594,193.17 L593,192.68 L592,192.17 L591,191.66 L590,191.13 L589,190.6 L588,190.06 L587,189.51 L586,188.95 L585,188.38 L584,187.81 L583,187.23 L582,186.65 L581,186.07 L580,185.48 L579,184.88 L578,184.28 L577,183.66 L576,183.03 L575,182.4 L574,181.75 L573,181.1 L572,180.45 L571,179.79 L570,179.13 L569,178.47 L568,177.81 L567,177.15 L566,176.5 L565,175.85 L564,175.21 L563,174.57 L562,173.94 L561,173.32 L560,172.71 L559,172.1 L558,171.49 L557,170.89 L556,170.28 L555,169.67 L554,169.07 L553,168.46 L552,167.85 L551,167.23 L550,166.62 L549,166 L548,165.37 L547,164.75 L546,164.13 L545,163.5 L544,162.88 L543,162.25 L542,161.62 L541,161 L540,160.37 L539,159.74 L538,159.11 L537,158.48 L536,157.85 L535,157.22 L534,156.58 L533,155.95 L532,155.32 L531,154.69 L530,154.06 L529,153.43 L528,152.8 L527,152.17 L526,151.55 L525,150.92 L524,150.3 L523,149.68 L522,149.06 L521,148.44 L520,147.82 L519,147.2 L518,146.58 L517,145.96 L516,145.35 L515,144.73 L514,144.11 L513,143.5 L512,142.89 L511,142.28 L510,141.67 L509,141.06 L508,140.45 L507,139.84 L506,139.23 L505,138.62 L504,138.02 L503,137.41 L502,136.81 L501,136.2 L500,135.6 L499,134.99 L498,134.39 L497,133.78 L496,133.18 L495,132.58 L494,132 L493,131.43 L492,130.87 L491,130.31 L490,129.77 L489,129.23 L488,128.7 L487,128.17 L486,127.65 L485,127.12 L484,126.6 L483,126.08 L482,125.55 L481,125.02 L480,124.49 L479,123.96 L478,123.44 L477,122.93 L476,122.42 L475,121.92 L474,121.42 L473,120.92 L472,120.43 L471,119.94 L470,119.46 L469,118.97 L468,118.5 L467,118.02 L466,117.55 L465,117.07 L464,116.6 L463,116.12 L462,115.63 L461,115.15 L460,114.67 L459,114.18 L458,113.69 L457,113.2 L456,112.71 L455,112.21 L454,111.7 L453,111.19 L452,110.67 L451,110.15 L450,109.61 L449,109.07 L448,108.52 L447,107.96 L446,107.4 L445,106.83 L444,106.25 L443,105.66 L442,105.07 L441,104.46 L440,103.85 L439,103.23 L438,102.6 L437,101.97 L436,101.33 L435,100.68 L434,100.03 L433,99.38 L432,98.71 L431,98.05 L430,97.37 L429,96.7 L428,96.01 L427,95.32 L426,94.63 L425,93.93 L424,93.23 L423,92.52 L422,91.8 L421,91.08 L420,90.35 L419,89.62 L418,88.88 L417,88.13 L416,87.38 L415,86.62 L414,85.85 L413,85.08 L412,84.29 L411,83.51 L410,82.71 L409,81.91 L408,81.11 L407,80.29 L406,79.48 L405,78.65 L404,77.82 L403,76.98 L402,76.14 L401,75.29 L400,74.43 L399,73.57 L398,72.7 L397,71.83 L396,70.95 L395,70.06 L394,69.17 L393,68.27 L392,67.36 L391,66.45 L390,65.53 L389,64.6 L388,63.67 L387,62.73 L386,61.78 L385,60.83 L384,59.87 L383,58.9 L382,57.93 L381,56.95 L380,55.96 L379,54.97 L378,53.96 L377,52.95 L376,51.94 L375,50.91 L374,49.88 Z" fill="rgba(47,111,214,0.30)" stroke="none"/>
<path d="M374,8.95 L375,10.25 L376,11.56 L377,12.85 L378,14.14 L379,15.43 L380,16.7 L381,17.97 L382,19.24 L383,20.49 L384,21.74 L385,22.99 L386,24.22 L387,25.46 L388,26.68 L389,27.9 L390,29.11 L391,30.31 L392,31.51 L393,32.69 L394,33.88 L395,35.05 L396,36.22 L397,37.38 L398,38.54 L399,39.68 L400,40.82 L401,41.96 L402,43.08 L403,44.2 L404,45.32 L405,46.42 L406,47.52 L407,48.61 L408,49.69 L409,50.77 L410,51.84 L411,52.9 L412,53.95 L413,54.99 L414,56.03 L415,57.06 L416,58.07 L417,59.08 L418,60.09 L419,61.08 L420,62.06 L421,63.04 L422,64.01 L423,64.97 L424,65.92 L425,66.87 L426,67.8 L427,68.74 L428,69.66 L429,70.58 L430,71.49 L431,72.39 L432,73.28 L433,74.17 L434,75.05 L435,75.93 L436,76.8 L437,77.66 L438,78.52 L439,79.38 L440,80.22 L441,81.06 L442,81.9 L443,82.72 L444,83.53 L445,84.34 L446,85.14 L447,85.93 L448,86.71 L449,87.49 L450,88.26 L451,89.02 L452,89.77 L453,90.51 L454,91.25 L455,91.97 L456,92.7 L457,93.41 L458,94.13 L459,94.84 L460,95.55 L461,96.25 L462,96.96 L463,97.67 L464,98.37 L465,99.08 L466,99.8 L467,100.51 L468,101.24 L469,101.96 L470,102.7 L471,103.44 L472,104.18 L473,104.92 L474,105.67 L475,106.42 L476,107.17 L477,107.92 L478,108.68 L479,109.43 L480,110.18 L481,110.93 L482,111.68 L483,112.43 L484,113.18 L485,113.92 L486,114.66 L487,115.4 L488,116.14 L489,116.88 L490,117.61 L491,118.35 L492,119.08 L493,119.81 L494,120.54 L495,121.27 L496,122 L497,122.73 L498,123.45 L499,124.17 L500,124.9 L501,125.62 L502,126.33 L503,127.05 L504,127.77 L505,128.48 L506,129.2 L507,129.91 L508,130.63 L509,131.34 L510,132.06 L511,132.78 L512,133.5 L513,134.22 L514,134.94 L515,135.66 L516,136.39 L517,137.12 L518,137.85 L519,138.58 L520,139.31 L521,140.05 L522,140.79 L523,141.52 L524,142.27 L525,143.01 L526,143.77 L527,144.53 L528,145.3 L529,146.07 L530,146.85 L531,147.63 L532,148.41 L533,149.19 L534,149.97 L535,150.75 L536,151.52 L537,152.3 L538,153.07 L539,153.83 L540,154.6 L541,155.35 L542,156.1 L543,156.85 L544,157.6 L545,158.34 L546,159.09 L547,159.83 L548,160.57 L549,161.32 L550,162.06 L551,162.81 L552,163.56 L553,164.31 L554,165.06 L555,165.82 L556,166.59 L557,167.37 L558,168.16 L559,168.96 L560,169.76 L561,170.56 L562,171.37 L563,172.18 L564,172.99 L565,173.8 L566,174.59 L567,175.38 L568,176.15 L569,176.91 L570,177.66 L571,178.4 L572,179.14 L573,179.87 L574,180.59 L575,181.29 L576,181.98 L577,182.66 L578,183.31 L579,183.95 L580,184.57 L581,185.17 L582,185.77 L583,186.36 L584,186.94 L585,187.52 L586,188.09 L587,188.66 L588,189.21 L589,189.76 L590,190.3 L591,190.82 L592,191.34 L593,191.84 L594,192.32 L595,192.79 L596,193.25 L597,193.7 L598,194.13 L599,194.56 L600,194.98 L601,195.39 L602,195.8 L603,196.2 L604,196.59 L605,196.98 L606,197.36 L607,197.74 L608,198.12 L609,198.49 L610,198.87 L611,199.24 L612,199.62 L613,200.01 L614,200.39 L615,200.77 L616,201.15 L617,201.52 L618,201.89 L619,202.24 L620,202.59 L621,202.92 L622,203.24 L623,203.54 L624,203.82 L625,204.08 L626,204.33 L627,204.58 L628,204.82 L629,205.06 L630,205.29 L631,205.52 L632,205.74 L633,205.94 L634,206.14 L635,206.32 L636,206.49 L637,206.65 L638,206.79 L639,206.91 L640,207.01 L641,207.1 L642,207.19 L643,207.28 L644,207.36 L645,207.44 L646,207.52 L647,207.59 L648,207.66 L649,207.72 L650,207.77 L651,207.82 L652,207.86 L653,207.89 L654,207.91 L655,207.93 L656,207.94 L657,207.95 L658,207.95 L659,207.96 L660,207.97 L661,207.97 L662,207.98 L663,207.98 L664,207.99 L665,207.99 L666,208 L667,208 L668,208 L669,208 L669.2,208 L669.2,208 L669,208 L668,208 L667,208 L666,208 L665,208 L664,208 L663,207.99 L662,207.99 L661,207.99 L660,207.98 L659,207.98 L658,207.98 L657,207.97 L656,207.97 L655,207.96 L654,207.95 L653,207.94 L652,207.92 L651,207.89 L650,207.86 L649,207.82 L648,207.78 L647,207.73 L646,207.68 L645,207.62 L644,207.56 L643,207.5 L642,207.44 L641,207.37 L640,207.3 L639,207.22 L638,207.12 L637,207.01 L636,206.89 L635,206.76 L634,206.61 L633,206.46 L632,206.29 L631,206.11 L630,205.93 L629,205.74 L628,205.54 L627,205.34 L626,205.13 L625,204.92 L624,204.7 L623,204.45 L622,204.2 L621,203.92 L620,203.63 L619,203.33 L618,203.02 L617,202.69 L616,202.36 L615,202.02 L614,201.67 L613,201.32 L612,200.96 L611,200.61 L610,200.25 L609,199.9 L608,199.53 L607,199.17 L606,198.8 L605,198.42 L604,198.03 L603,197.64 L602,197.25 L601,196.84 L600,196.43 L599,196.01 L598,195.57 L597,195.13 L596,194.68 L595,194.22 L594,193.75 L593,193.26 L592,192.76 L591,192.25 L590,191.72 L589,191.19 L588,190.64 L587,190.09 L586,189.53 L585,188.96 L584,188.38 L583,187.8 L582,187.21 L581,186.62 L580,186.03 L579,185.43 L578,184.81 L577,184.19 L576,183.55 L575,182.91 L574,182.25 L573,181.59 L572,180.93 L571,180.26 L570,179.58 L569,178.91 L568,178.23 L567,177.55 L566,176.88 L565,176.2 L564,175.53 L563,174.87 L562,174.21 L561,173.55 L560,172.9 L559,172.25 L558,171.61 L557,170.96 L556,170.31 L555,169.67 L554,169.02 L553,168.36 L552,167.71 L551,167.06 L550,166.4 L549,165.73 L548,165.06 L547,164.38 L546,163.69 L545,163 L544,162.3 L543,161.6 L542,160.89 L541,160.17 L540,159.45 L539,158.73 L538,158 L537,157.26 L536,156.53 L535,155.79 L534,155.05 L533,154.31 L532,153.57 L531,152.83 L530,152.09 L529,151.36 L528,150.63 L527,149.9 L526,149.17 L525,148.45 L524,147.74 L523,147.04 L522,146.33 L521,145.61 L520,144.9 L519,144.19 L518,143.48 L517,142.76 L516,142.05 L515,141.33 L514,140.62 L513,139.91 L512,139.2 L511,138.49 L510,137.78 L509,137.07 L508,136.37 L507,135.67 L506,134.97 L505,134.27 L504,133.58 L503,132.88 L502,132.2 L501,131.51 L500,130.83 L499,130.15 L498,129.48 L497,128.82 L496,128.16 L495,127.51 L494,126.86 L493,126.22 L492,125.57 L491,124.93 L490,124.29 L489,123.65 L488,123.01 L487,122.37 L486,121.73 L485,121.09 L484,120.45 L483,119.81 L482,119.17 L481,118.52 L480,117.88 L479,117.24 L478,116.6 L477,115.96 L476,115.32 L475,114.68 L474,114.05 L473,113.42 L472,112.79 L471,112.16 L470,111.54 L469,110.93 L468,110.32 L467,109.72 L466,109.12 L465,108.53 L464,107.94 L463,107.35 L462,106.77 L461,106.18 L460,105.6 L459,105.01 L458,104.42 L457,103.83 L456,103.24 L455,102.64 L454,102.04 L453,101.43 L452,100.81 L451,100.19 L450,99.56 L449,98.91 L448,98.27 L447,97.61 L446,96.95 L445,96.29 L444,95.61 L443,94.93 L442,94.23 L441,93.53 L440,92.82 L439,92.11 L438,91.38 L437,90.65 L436,89.92 L435,89.18 L434,88.43 L433,87.68 L432,86.92 L431,86.16 L430,85.39 L429,84.61 L428,83.83 L427,83.04 L426,82.25 L425,81.45 L424,80.65 L423,79.84 L422,79.02 L421,78.2 L420,77.37 L419,76.54 L418,75.7 L417,74.85 L416,73.99 L415,73.13 L414,72.25 L413,71.38 L412,70.49 L411,69.6 L410,68.7 L409,67.8 L408,66.89 L407,65.97 L406,65.05 L405,64.12 L404,63.18 L403,62.24 L402,61.29 L401,60.34 L400,59.38 L399,58.41 L398,57.44 L397,56.46 L396,55.48 L395,54.49 L394,53.5 L393,52.49 L392,51.49 L391,50.47 L390,49.45 L389,48.43 L388,47.4 L387,46.36 L386,45.31 L385,44.26 L384,43.21 L383,42.15 L382,41.08 L381,40 L380,38.92 L379,37.84 L378,36.74 L377,35.64 L376,34.54 L375,33.43 L374,32.31 Z" fill="rgba(184,134,11,0.40)" stroke="none"/>
<path d="M374,14.74 L375,16.02 L376,17.29 L377,18.55 L378,19.81 L379,21.06 L380,22.3 L381,23.54 L382,24.77 L383,25.99 L384,27.21 L385,28.42 L386,29.63 L387,30.82 L388,32.01 L389,33.19 L390,34.37 L391,35.54 L392,36.7 L393,37.86 L394,39.01 L395,40.15 L396,41.28 L397,42.41 L398,43.53 L399,44.65 L400,45.75 L401,46.85 L402,47.95 L403,49.04 L404,50.11 L405,51.19 L406,52.25 L407,53.31 L408,54.36 L409,55.41 L410,56.44 L411,57.47 L412,58.49 L413,59.5 L414,60.51 L415,61.5 L416,62.49 L417,63.47 L418,64.44 L419,65.4 L420,66.36 L421,67.3 L422,68.24 L423,69.18 L424,70.1 L425,71.02 L426,71.93 L427,72.83 L428,73.73 L429,74.62 L430,75.5 L431,76.37 L432,77.24 L433,78.11 L434,78.96 L435,79.81 L436,80.65 L437,81.49 L438,82.32 L439,83.15 L440,83.97 L441,84.78 L442,85.58 L443,86.38 L444,87.16 L445,87.94 L446,88.71 L447,89.47 L448,90.23 L449,90.97 L450,91.71 L451,92.45 L452,93.17 L453,93.88 L454,94.59 L455,95.29 L456,95.98 L457,96.67 L458,97.36 L459,98.04 L460,98.72 L461,99.4 L462,100.08 L463,100.76 L464,101.44 L465,102.12 L466,102.81 L467,103.5 L468,104.19 L469,104.89 L470,105.6 L471,106.31 L472,107.02 L473,107.74 L474,108.46 L475,109.18 L476,109.91 L477,110.64 L478,111.36 L479,112.09 L480,112.82 L481,113.54 L482,114.27 L483,114.99 L484,115.71 L485,116.43 L486,117.15 L487,117.87 L488,118.58 L489,119.3 L490,120.01 L491,120.73 L492,121.44 L493,122.15 L494,122.86 L495,123.57 L496,124.29 L497,125 L498,125.72 L499,126.44 L500,127.16 L501,127.88 L502,128.6 L503,129.32 L504,130.04 L505,130.75 L506,131.47 L507,132.19 L508,132.9 L509,133.61 L510,134.32 L511,135.04 L512,135.74 L513,136.45 L514,137.16 L515,137.86 L516,138.57 L517,139.27 L518,139.96 L519,140.66 L520,141.35 L521,142.04 L522,142.73 L523,143.41 L524,144.09 L525,144.77 L526,145.44 L527,146.11 L528,146.78 L529,147.45 L530,148.12 L531,148.78 L532,149.45 L533,150.11 L534,150.77 L535,151.44 L536,152.1 L537,152.76 L538,153.43 L539,154.09 L540,154.76 L541,155.43 L542,156.1 L543,156.78 L544,157.45 L545,158.13 L546,158.81 L547,159.49 L548,160.18 L549,160.87 L550,161.56 L551,162.26 L552,162.96 L553,163.67 L554,164.38 L555,165.1 L556,165.81 L557,166.53 L558,167.25 L559,167.97 L560,168.7 L561,169.42 L562,170.16 L563,170.89 L564,171.64 L565,172.38 L566,173.13 L567,173.87 L568,174.62 L569,175.35 L570,176.09 L571,176.82 L572,177.54 L573,178.26 L574,178.98 L575,179.68 L576,180.38 L577,181.06 L578,181.74 L579,182.4 L580,183.05 L581,183.69 L582,184.32 L583,184.94 L584,185.56 L585,186.17 L586,186.77 L587,187.36 L588,187.95 L589,188.52 L590,189.09 L591,189.64 L592,190.18 L593,190.71 L594,191.23 L595,191.73 L596,192.21 L597,192.69 L598,193.15 L599,193.6 L600,194.05 L601,194.49 L602,194.92 L603,195.34 L604,195.76 L605,196.17 L606,196.58 L607,196.98 L608,197.38 L609,197.78 L610,198.18 L611,198.57 L612,198.98 L613,199.38 L614,199.79 L615,200.19 L616,200.59 L617,200.99 L618,201.38 L619,201.76 L620,202.12 L621,202.48 L622,202.82 L623,203.14 L624,203.44 L625,203.72 L626,203.99 L627,204.25 L628,204.52 L629,204.77 L630,205.02 L631,205.27 L632,205.5 L633,205.73 L634,205.94 L635,206.14 L636,206.33 L637,206.5 L638,206.65 L639,206.78 L640,206.89 L641,206.99 L642,207.09 L643,207.19 L644,207.28 L645,207.37 L646,207.45 L647,207.53 L648,207.6 L649,207.67 L650,207.73 L651,207.79 L652,207.83 L653,207.87 L654,207.9 L655,207.91 L656,207.92 L657,207.93 L658,207.94 L659,207.95 L660,207.96 L661,207.97 L662,207.97 L663,207.98 L664,207.99 L665,207.99 L666,208 L667,208 L668,208 L669,208 L669.2,208" fill="none" stroke="#2f6fd6" stroke-width="1.15"/>
<path d="M374,49.88 L375,50.91 L376,51.94 L377,52.95 L378,53.96 L379,54.97 L380,55.96 L381,56.95 L382,57.93 L383,58.9 L384,59.87 L385,60.83 L386,61.78 L387,62.73 L388,63.67 L389,64.6 L390,65.53 L391,66.45 L392,67.36 L393,68.27 L394,69.17 L395,70.06 L396,70.95 L397,71.83 L398,72.7 L399,73.57 L400,74.43 L401,75.29 L402,76.14 L403,76.98 L404,77.82 L405,78.65 L406,79.48 L407,80.29 L408,81.11 L409,81.91 L410,82.71 L411,83.51 L412,84.29 L413,85.08 L414,85.85 L415,86.62 L416,87.38 L417,88.13 L418,88.88 L419,89.62 L420,90.35 L421,91.08 L422,91.8 L423,92.52 L424,93.23 L425,93.93 L426,94.63 L427,95.32 L428,96.01 L429,96.7 L430,97.37 L431,98.05 L432,98.71 L433,99.38 L434,100.03 L435,100.68 L436,101.33 L437,101.97 L438,102.6 L439,103.23 L440,103.85 L441,104.46 L442,105.07 L443,105.66 L444,106.25 L445,106.83 L446,107.4 L447,107.96 L448,108.52 L449,109.07 L450,109.61 L451,110.15 L452,110.67 L453,111.19 L454,111.7 L455,112.21 L456,112.71 L457,113.2 L458,113.69 L459,114.18 L460,114.67 L461,115.15 L462,115.63 L463,116.12 L464,116.6 L465,117.07 L466,117.55 L467,118.02 L468,118.5 L469,118.97 L470,119.46 L471,119.94 L472,120.43 L473,120.92 L474,121.42 L475,121.92 L476,122.42 L477,122.93 L478,123.44 L479,123.96 L480,124.49 L481,125.02 L482,125.55 L483,126.08 L484,126.6 L485,127.12 L486,127.65 L487,128.17 L488,128.7 L489,129.23 L490,129.77 L491,130.31 L492,130.87 L493,131.43 L494,132 L495,132.58 L496,133.18 L497,133.78 L498,134.39 L499,134.99 L500,135.6 L501,136.2 L502,136.81 L503,137.41 L504,138.02 L505,138.62 L506,139.23 L507,139.84 L508,140.45 L509,141.06 L510,141.67 L511,142.28 L512,142.89 L513,143.5 L514,144.11 L515,144.73 L516,145.35 L517,145.96 L518,146.58 L519,147.2 L520,147.82 L521,148.44 L522,149.06 L523,149.68 L524,150.3 L525,150.92 L526,151.55 L527,152.17 L528,152.8 L529,153.43 L530,154.06 L531,154.69 L532,155.32 L533,155.95 L534,156.58 L535,157.22 L536,157.85 L537,158.48 L538,159.11 L539,159.74 L540,160.37 L541,161 L542,161.62 L543,162.25 L544,162.88 L545,163.5 L546,164.13 L547,164.75 L548,165.37 L549,166 L550,166.62 L551,167.23 L552,167.85 L553,168.46 L554,169.07 L555,169.67 L556,170.28 L557,170.89 L558,171.49 L559,172.1 L560,172.71 L561,173.32 L562,173.94 L563,174.57 L564,175.21 L565,175.85 L566,176.5 L567,177.15 L568,177.81 L569,178.47 L570,179.13 L571,179.79 L572,180.45 L573,181.1 L574,181.75 L575,182.4 L576,183.03 L577,183.66 L578,184.28 L579,184.88 L580,185.48 L581,186.07 L582,186.65 L583,187.23 L584,187.81 L585,188.38 L586,188.95 L587,189.51 L588,190.06 L589,190.6 L590,191.13 L591,191.66 L592,192.17 L593,192.68 L594,193.17 L595,193.65 L596,194.12 L597,194.58 L598,195.04 L599,195.48 L600,195.92 L601,196.34 L602,196.76 L603,197.17 L604,197.58 L605,197.98 L606,198.37 L607,198.75 L608,199.13 L609,199.51 L610,199.88 L611,200.25 L612,200.62 L613,200.98 L614,201.35 L615,201.71 L616,202.06 L617,202.41 L618,202.74 L619,203.07 L620,203.38 L621,203.68 L622,203.97 L623,204.23 L624,204.48 L625,204.72 L626,204.94 L627,205.15 L628,205.36 L629,205.57 L630,205.77 L631,205.97 L632,206.15 L633,206.33 L634,206.49 L635,206.65 L636,206.79 L637,206.92 L638,207.04 L639,207.14 L640,207.22 L641,207.3 L642,207.37 L643,207.44 L644,207.51 L645,207.58 L646,207.64 L647,207.7 L648,207.75 L649,207.79 L650,207.84 L651,207.87 L652,207.9 L653,207.92 L654,207.94 L655,207.95 L656,207.96 L657,207.97 L658,207.97 L659,207.98 L660,207.98 L661,207.98 L662,207.99 L663,207.99 L664,207.99 L665,208 L666,208 L667,208 L668,208 L669,208 L669.2,208" fill="none" stroke="#2f6fd6" stroke-width="1.15"/>
<path d="M374,32.31 L375,33.46 L376,34.61 L377,35.75 L378,36.88 L379,38.01 L380,39.13 L381,40.24 L382,41.35 L383,42.45 L384,43.54 L385,44.63 L386,45.71 L387,46.78 L388,47.85 L389,48.91 L390,49.96 L391,51.01 L392,52.04 L393,53.08 L394,54.1 L395,55.12 L396,56.14 L397,57.14 L398,58.14 L399,59.14 L400,60.12 L401,61.1 L402,62.08 L403,63.05 L404,64.01 L405,64.96 L406,65.91 L407,66.85 L408,67.78 L409,68.71 L410,69.63 L411,70.55 L412,71.45 L413,72.35 L414,73.24 L415,74.13 L416,75.01 L417,75.88 L418,76.74 L419,77.59 L420,78.44 L421,79.28 L422,80.11 L423,80.94 L424,81.76 L425,82.57 L426,83.38 L427,84.18 L428,84.97 L429,85.76 L430,86.55 L431,87.32 L432,88.09 L433,88.86 L434,89.61 L435,90.37 L436,91.11 L437,91.85 L438,92.59 L439,93.32 L440,94.04 L441,94.76 L442,95.46 L443,96.16 L444,96.85 L445,97.53 L446,98.2 L447,98.87 L448,99.53 L449,100.18 L450,100.82 L451,101.46 L452,102.09 L453,102.71 L454,103.32 L455,103.93 L456,104.53 L457,105.13 L458,105.72 L459,106.32 L460,106.9 L461,107.49 L462,108.08 L463,108.67 L464,109.26 L465,109.85 L466,110.44 L467,111.04 L468,111.64 L469,112.25 L470,112.86 L471,113.48 L472,114.11 L473,114.73 L474,115.36 L475,116 L476,116.63 L477,117.27 L478,117.9 L479,118.54 L480,119.18 L481,119.82 L482,120.45 L483,121.09 L484,121.73 L485,122.36 L486,122.99 L487,123.63 L488,124.26 L489,124.89 L490,125.53 L491,126.16 L492,126.79 L493,127.43 L494,128.06 L495,128.69 L496,129.32 L497,129.96 L498,130.59 L499,131.22 L500,131.86 L501,132.49 L502,133.12 L503,133.75 L504,134.39 L505,135.02 L506,135.65 L507,136.28 L508,136.91 L509,137.54 L510,138.18 L511,138.81 L512,139.44 L513,140.08 L514,140.72 L515,141.35 L516,141.99 L517,142.63 L518,143.27 L519,143.92 L520,144.56 L521,145.2 L522,145.84 L523,146.49 L524,147.13 L525,147.78 L526,148.43 L527,149.07 L528,149.72 L529,150.37 L530,151.02 L531,151.67 L532,152.32 L533,152.97 L534,153.62 L535,154.27 L536,154.92 L537,155.57 L538,156.22 L539,156.87 L540,157.52 L541,158.17 L542,158.83 L543,159.48 L544,160.13 L545,160.79 L546,161.44 L547,162.1 L548,162.75 L549,163.41 L550,164.07 L551,164.73 L552,165.38 L553,166.04 L554,166.71 L555,167.37 L556,168.03 L557,168.69 L558,169.36 L559,170.02 L560,170.69 L561,171.36 L562,172.04 L563,172.73 L564,173.42 L565,174.11 L566,174.81 L567,175.51 L568,176.21 L569,176.91 L570,177.61 L571,178.3 L572,179 L573,179.68 L574,180.36 L575,181.04 L576,181.7 L577,182.36 L578,183 L579,183.64 L580,184.26 L581,184.87 L582,185.48 L583,186.09 L584,186.69 L585,187.29 L586,187.88 L587,188.46 L588,189.03 L589,189.6 L590,190.15 L591,190.7 L592,191.23 L593,191.75 L594,192.25 L595,192.74 L596,193.21 L597,193.68 L598,194.13 L599,194.58 L600,195.01 L601,195.44 L602,195.86 L603,196.27 L604,196.68 L605,197.08 L606,197.47 L607,197.86 L608,198.25 L609,198.63 L610,199.01 L611,199.39 L612,199.78 L613,200.16 L614,200.55 L615,200.93 L616,201.3 L617,201.67 L618,202.04 L619,202.39 L620,202.73 L621,203.06 L622,203.37 L623,203.67 L624,203.95 L625,204.2 L626,204.45 L627,204.69 L628,204.93 L629,205.16 L630,205.39 L631,205.6 L632,205.82 L633,206.02 L634,206.21 L635,206.38 L636,206.55 L637,206.7 L638,206.83 L639,206.95 L640,207.05 L641,207.14 L642,207.23 L643,207.31 L644,207.39 L645,207.47 L646,207.54 L647,207.61 L648,207.67 L649,207.73 L650,207.78 L651,207.83 L652,207.87 L653,207.9 L654,207.92 L655,207.93 L656,207.94 L657,207.95 L658,207.96 L659,207.96 L660,207.97 L661,207.98 L662,207.98 L663,207.99 L664,207.99 L665,207.99 L666,208 L667,208 L668,208 L669,208 L669.2,208" fill="none" stroke="#2f6fd6" stroke-width="1.4" stroke-dasharray="3.8 2.8"/>
<path d="M374,8.95 L375,10.25 L376,11.56 L377,12.85 L378,14.14 L379,15.43 L380,16.7 L381,17.97 L382,19.24 L383,20.49 L384,21.74 L385,22.99 L386,24.22 L387,25.46 L388,26.68 L389,27.9 L390,29.11 L391,30.31 L392,31.51 L393,32.69 L394,33.88 L395,35.05 L396,36.22 L397,37.38 L398,38.54 L399,39.68 L400,40.82 L401,41.96 L402,43.08 L403,44.2 L404,45.32 L405,46.42 L406,47.52 L407,48.61 L408,49.69 L409,50.77 L410,51.84 L411,52.9 L412,53.95 L413,54.99 L414,56.03 L415,57.06 L416,58.07 L417,59.08 L418,60.09 L419,61.08 L420,62.06 L421,63.04 L422,64.01 L423,64.97 L424,65.92 L425,66.87 L426,67.8 L427,68.74 L428,69.66 L429,70.58 L430,71.49 L431,72.39 L432,73.28 L433,74.17 L434,75.05 L435,75.93 L436,76.8 L437,77.66 L438,78.52 L439,79.38 L440,80.22 L441,81.06 L442,81.9 L443,82.72 L444,83.53 L445,84.34 L446,85.14 L447,85.93 L448,86.71 L449,87.49 L450,88.26 L451,89.02 L452,89.77 L453,90.51 L454,91.25 L455,91.97 L456,92.7 L457,93.41 L458,94.13 L459,94.84 L460,95.55 L461,96.25 L462,96.96 L463,97.67 L464,98.37 L465,99.08 L466,99.8 L467,100.51 L468,101.24 L469,101.96 L470,102.7 L471,103.44 L472,104.18 L473,104.92 L474,105.67 L475,106.42 L476,107.17 L477,107.92 L478,108.68 L479,109.43 L480,110.18 L481,110.93 L482,111.68 L483,112.43 L484,113.18 L485,113.92 L486,114.66 L487,115.4 L488,116.14 L489,116.88 L490,117.61 L491,118.35 L492,119.08 L493,119.81 L494,120.54 L495,121.27 L496,122 L497,122.73 L498,123.45 L499,124.17 L500,124.9 L501,125.62 L502,126.33 L503,127.05 L504,127.77 L505,128.48 L506,129.2 L507,129.91 L508,130.63 L509,131.34 L510,132.06 L511,132.78 L512,133.5 L513,134.22 L514,134.94 L515,135.66 L516,136.39 L517,137.12 L518,137.85 L519,138.58 L520,139.31 L521,140.05 L522,140.79 L523,141.52 L524,142.27 L525,143.01 L526,143.77 L527,144.53 L528,145.3 L529,146.07 L530,146.85 L531,147.63 L532,148.41 L533,149.19 L534,149.97 L535,150.75 L536,151.52 L537,152.3 L538,153.07 L539,153.83 L540,154.6 L541,155.35 L542,156.1 L543,156.85 L544,157.6 L545,158.34 L546,159.09 L547,159.83 L548,160.57 L549,161.32 L550,162.06 L551,162.81 L552,163.56 L553,164.31 L554,165.06 L555,165.82 L556,166.59 L557,167.37 L558,168.16 L559,168.96 L560,169.76 L561,170.56 L562,171.37 L563,172.18 L564,172.99 L565,173.8 L566,174.59 L567,175.38 L568,176.15 L569,176.91 L570,177.66 L571,178.4 L572,179.14 L573,179.87 L574,180.59 L575,181.29 L576,181.98 L577,182.66 L578,183.31 L579,183.95 L580,184.57 L581,185.17 L582,185.77 L583,186.36 L584,186.94 L585,187.52 L586,188.09 L587,188.66 L588,189.21 L589,189.76 L590,190.3 L591,190.82 L592,191.34 L593,191.84 L594,192.32 L595,192.79 L596,193.25 L597,193.7 L598,194.13 L599,194.56 L600,194.98 L601,195.39 L602,195.8 L603,196.2 L604,196.59 L605,196.98 L606,197.36 L607,197.74 L608,198.12 L609,198.49 L610,198.87 L611,199.24 L612,199.62 L613,200.01 L614,200.39 L615,200.77 L616,201.15 L617,201.52 L618,201.89 L619,202.24 L620,202.59 L621,202.92 L622,203.24 L623,203.54 L624,203.82 L625,204.08 L626,204.33 L627,204.58 L628,204.82 L629,205.06 L630,205.29 L631,205.52 L632,205.74 L633,205.94 L634,206.14 L635,206.32 L636,206.49 L637,206.65 L638,206.79 L639,206.91 L640,207.01 L641,207.1 L642,207.19 L643,207.28 L644,207.36 L645,207.44 L646,207.52 L647,207.59 L648,207.66 L649,207.72 L650,207.77 L651,207.82 L652,207.86 L653,207.89 L654,207.91 L655,207.93 L656,207.94 L657,207.95 L658,207.95 L659,207.96 L660,207.97 L661,207.97 L662,207.98 L663,207.98 L664,207.99 L665,207.99 L666,208 L667,208 L668,208 L669,208 L669.2,208" fill="none" stroke="#cf9a1c" stroke-width="1.15"/>
<path d="M374,32.31 L375,33.43 L376,34.54 L377,35.64 L378,36.74 L379,37.84 L380,38.92 L381,40 L382,41.08 L383,42.15 L384,43.21 L385,44.26 L386,45.31 L387,46.36 L388,47.4 L389,48.43 L390,49.45 L391,50.47 L392,51.49 L393,52.49 L394,53.5 L395,54.49 L396,55.48 L397,56.46 L398,57.44 L399,58.41 L400,59.38 L401,60.34 L402,61.29 L403,62.24 L404,63.18 L405,64.12 L406,65.05 L407,65.97 L408,66.89 L409,67.8 L410,68.7 L411,69.6 L412,70.49 L413,71.38 L414,72.25 L415,73.13 L416,73.99 L417,74.85 L418,75.7 L419,76.54 L420,77.37 L421,78.2 L422,79.02 L423,79.84 L424,80.65 L425,81.45 L426,82.25 L427,83.04 L428,83.83 L429,84.61 L430,85.39 L431,86.16 L432,86.92 L433,87.68 L434,88.43 L435,89.18 L436,89.92 L437,90.65 L438,91.38 L439,92.11 L440,92.82 L441,93.53 L442,94.23 L443,94.93 L444,95.61 L445,96.29 L446,96.95 L447,97.61 L448,98.27 L449,98.91 L450,99.56 L451,100.19 L452,100.81 L453,101.43 L454,102.04 L455,102.64 L456,103.24 L457,103.83 L458,104.42 L459,105.01 L460,105.6 L461,106.18 L462,106.77 L463,107.35 L464,107.94 L465,108.53 L466,109.12 L467,109.72 L468,110.32 L469,110.93 L470,111.54 L471,112.16 L472,112.79 L473,113.42 L474,114.05 L475,114.68 L476,115.32 L477,115.96 L478,116.6 L479,117.24 L480,117.88 L481,118.52 L482,119.17 L483,119.81 L484,120.45 L485,121.09 L486,121.73 L487,122.37 L488,123.01 L489,123.65 L490,124.29 L491,124.93 L492,125.57 L493,126.22 L494,126.86 L495,127.51 L496,128.16 L497,128.82 L498,129.48 L499,130.15 L500,130.83 L501,131.51 L502,132.2 L503,132.88 L504,133.58 L505,134.27 L506,134.97 L507,135.67 L508,136.37 L509,137.07 L510,137.78 L511,138.49 L512,139.2 L513,139.91 L514,140.62 L515,141.33 L516,142.05 L517,142.76 L518,143.48 L519,144.19 L520,144.9 L521,145.61 L522,146.33 L523,147.04 L524,147.74 L525,148.45 L526,149.17 L527,149.9 L528,150.63 L529,151.36 L530,152.09 L531,152.83 L532,153.57 L533,154.31 L534,155.05 L535,155.79 L536,156.53 L537,157.26 L538,158 L539,158.73 L540,159.45 L541,160.17 L542,160.89 L543,161.6 L544,162.3 L545,163 L546,163.69 L547,164.38 L548,165.06 L549,165.73 L550,166.4 L551,167.06 L552,167.71 L553,168.36 L554,169.02 L555,169.67 L556,170.31 L557,170.96 L558,171.61 L559,172.25 L560,172.9 L561,173.55 L562,174.21 L563,174.87 L564,175.53 L565,176.2 L566,176.88 L567,177.55 L568,178.23 L569,178.91 L570,179.58 L571,180.26 L572,180.93 L573,181.59 L574,182.25 L575,182.91 L576,183.55 L577,184.19 L578,184.81 L579,185.43 L580,186.03 L581,186.62 L582,187.21 L583,187.8 L584,188.38 L585,188.96 L586,189.53 L587,190.09 L588,190.64 L589,191.19 L590,191.72 L591,192.25 L592,192.76 L593,193.26 L594,193.75 L595,194.22 L596,194.68 L597,195.13 L598,195.57 L599,196.01 L600,196.43 L601,196.84 L602,197.25 L603,197.64 L604,198.03 L605,198.42 L606,198.8 L607,199.17 L608,199.53 L609,199.9 L610,200.25 L611,200.61 L612,200.96 L613,201.32 L614,201.67 L615,202.02 L616,202.36 L617,202.69 L618,203.02 L619,203.33 L620,203.63 L621,203.92 L622,204.2 L623,204.45 L624,204.7 L625,204.92 L626,205.13 L627,205.34 L628,205.54 L629,205.74 L630,205.93 L631,206.11 L632,206.29 L633,206.46 L634,206.61 L635,206.76 L636,206.89 L637,207.01 L638,207.12 L639,207.22 L640,207.3 L641,207.37 L642,207.44 L643,207.5 L644,207.56 L645,207.62 L646,207.68 L647,207.73 L648,207.78 L649,207.82 L650,207.86 L651,207.89 L652,207.92 L653,207.94 L654,207.95 L655,207.96 L656,207.97 L657,207.97 L658,207.98 L659,207.98 L660,207.98 L661,207.99 L662,207.99 L663,207.99 L664,208 L665,208 L666,208 L667,208 L668,208 L669,208 L669.2,208" fill="none" stroke="#cf9a1c" stroke-width="1.15"/>
<path d="M374,20.54 L375,21.77 L376,22.99 L377,24.21 L378,25.42 L379,26.62 L380,27.82 L381,29.01 L382,30.19 L383,31.37 L384,32.53 L385,33.69 L386,34.85 L387,36 L388,37.14 L389,38.27 L390,39.4 L391,40.52 L392,41.63 L393,42.73 L394,43.83 L395,44.92 L396,46.01 L397,47.09 L398,48.16 L399,49.22 L400,50.28 L401,51.33 L402,52.37 L403,53.41 L404,54.44 L405,55.46 L406,56.48 L407,57.49 L408,58.49 L409,59.48 L410,60.47 L411,61.45 L412,62.42 L413,63.39 L414,64.34 L415,65.29 L416,66.23 L417,67.17 L418,68.09 L419,69.01 L420,69.92 L421,70.82 L422,71.71 L423,72.6 L424,73.48 L425,74.35 L426,75.22 L427,76.08 L428,76.93 L429,77.78 L430,78.62 L431,79.46 L432,80.28 L433,81.1 L434,81.92 L435,82.73 L436,83.53 L437,84.33 L438,85.13 L439,85.92 L440,86.7 L441,87.48 L442,88.25 L443,89.01 L444,89.76 L445,90.5 L446,91.24 L447,91.97 L448,92.69 L449,93.41 L450,94.12 L451,94.82 L452,95.52 L453,96.21 L454,96.89 L455,97.56 L456,98.23 L457,98.89 L458,99.56 L459,100.21 L460,100.87 L461,101.53 L462,102.18 L463,102.84 L464,103.5 L465,104.16 L466,104.83 L467,105.49 L468,106.17 L469,106.85 L470,107.54 L471,108.23 L472,108.92 L473,109.62 L474,110.33 L475,111.03 L476,111.74 L477,112.45 L478,113.16 L479,113.87 L480,114.58 L481,115.3 L482,116.01 L483,116.72 L484,117.42 L485,118.13 L486,118.83 L487,119.54 L488,120.24 L489,120.95 L490,121.65 L491,122.35 L492,123.06 L493,123.76 L494,124.46 L495,125.16 L496,125.87 L497,126.58 L498,127.29 L499,128 L500,128.71 L501,129.43 L502,130.14 L503,130.86 L504,131.58 L505,132.29 L506,133.01 L507,133.73 L508,134.45 L509,135.17 L510,135.88 L511,136.6 L512,137.32 L513,138.04 L514,138.76 L515,139.48 L516,140.2 L517,140.92 L518,141.63 L519,142.35 L520,143.07 L521,143.78 L522,144.5 L523,145.21 L524,145.92 L525,146.63 L526,147.34 L527,148.05 L528,148.75 L529,149.46 L530,150.17 L531,150.88 L532,151.59 L533,152.29 L534,153 L535,153.7 L536,154.41 L537,155.11 L538,155.81 L539,156.51 L540,157.21 L541,157.91 L542,158.61 L543,159.31 L544,160 L545,160.7 L546,161.39 L547,162.08 L548,162.78 L549,163.47 L550,164.16 L551,164.85 L552,165.54 L553,166.22 L554,166.91 L555,167.6 L556,168.28 L557,168.97 L558,169.65 L559,170.33 L560,171.01 L561,171.7 L562,172.39 L563,173.09 L564,173.8 L565,174.5 L566,175.21 L567,175.93 L568,176.64 L569,177.35 L570,178.06 L571,178.78 L572,179.48 L573,180.19 L574,180.89 L575,181.58 L576,182.26 L577,182.93 L578,183.6 L579,184.25 L580,184.89 L581,185.51 L582,186.14 L583,186.76 L584,187.37 L585,187.98 L586,188.58 L587,189.16 L588,189.74 L589,190.31 L590,190.87 L591,191.41 L592,191.94 L593,192.45 L594,192.95 L595,193.44 L596,193.91 L597,194.37 L598,194.82 L599,195.25 L600,195.68 L601,196.1 L602,196.51 L603,196.91 L604,197.31 L605,197.7 L606,198.08 L607,198.46 L608,198.83 L609,199.2 L610,199.57 L611,199.94 L612,200.31 L613,200.68 L614,201.04 L615,201.41 L616,201.77 L617,202.12 L618,202.47 L619,202.8 L620,203.12 L621,203.44 L622,203.73 L623,204.01 L624,204.27 L625,204.51 L626,204.74 L627,204.97 L628,205.19 L629,205.41 L630,205.62 L631,205.83 L632,206.02 L633,206.21 L634,206.38 L635,206.55 L636,206.7 L637,206.84 L638,206.96 L639,207.07 L640,207.16 L641,207.24 L642,207.32 L643,207.4 L644,207.47 L645,207.54 L646,207.6 L647,207.67 L648,207.72 L649,207.77 L650,207.82 L651,207.86 L652,207.89 L653,207.91 L654,207.93 L655,207.95 L656,207.95 L657,207.96 L658,207.97 L659,207.97 L660,207.98 L661,207.98 L662,207.99 L663,207.99 L664,207.99 L665,207.99 L666,208 L667,208 L668,208 L669,208 L669.2,208" fill="none" stroke="#cf9a1c" stroke-width="1.15"/>
</g>
<g clip-path="url(#crR)">
<path d="M374,261.19 L375,261.19 L376,261.2 L377,261.21 L378,261.21 L379,261.22 L380,261.23 L381,261.24 L382,261.25 L383,261.26 L384,261.27 L385,261.28 L386,261.29 L387,261.3 L388,261.32 L389,261.33 L390,261.35 L391,261.36 L392,261.38 L393,261.39 L394,261.41 L395,261.42 L396,261.44 L397,261.46 L398,261.48 L399,261.5 L400,261.52 L401,261.53 L402,261.55 L403,261.57 L404,261.6 L405,261.62 L406,261.64 L407,261.66 L408,261.68 L409,261.7 L410,261.73 L411,261.75 L412,261.77 L413,261.8 L414,261.82 L415,261.84 L416,261.87 L417,261.89 L418,261.92 L419,261.94 L420,261.97 L421,262 L422,262.02 L423,262.05 L424,262.07 L425,262.1 L426,262.13 L427,262.15 L428,262.18 L429,262.21 L430,262.23 L431,262.26 L432,262.29 L433,262.32 L434,262.34 L435,262.37 L436,262.4 L437,262.43 L438,262.46 L439,262.5 L440,262.53 L441,262.56 L442,262.6 L443,262.64 L444,262.68 L445,262.71 L446,262.75 L447,262.79 L448,262.84 L449,262.88 L450,262.92 L451,262.97 L452,263.01 L453,263.06 L454,263.1 L455,263.15 L456,263.2 L457,263.24 L458,263.29 L459,263.34 L460,263.39 L461,263.44 L462,263.49 L463,263.55 L464,263.6 L465,263.65 L466,263.7 L467,263.76 L468,263.81 L469,263.86 L470,263.92 L471,263.97 L472,264.03 L473,264.08 L474,264.14 L475,264.19 L476,264.25 L477,264.3 L478,264.36 L479,264.41 L480,264.47 L481,264.52 L482,264.58 L483,264.63 L484,264.69 L485,264.75 L486,264.8 L487,264.86 L488,264.91 L489,264.96 L490,265.02 L491,265.07 L492,265.13 L493,265.18 L494,265.23 L495,265.29 L496,265.35 L497,265.41 L498,265.48 L499,265.55 L500,265.62 L501,265.69 L502,265.77 L503,265.84 L504,265.92 L505,266 L506,266.07 L507,266.15 L508,266.23 L509,266.3 L510,266.37 L511,266.44 L512,266.51 L513,266.58 L514,266.64 L515,266.69 L516,266.75 L517,266.8 L518,266.84 L519,266.88 L520,266.91 L521,266.93 L522,266.95 L523,266.96 L524,266.97 L525,266.97 L526,266.96 L527,266.94 L528,266.92 L529,266.89 L530,266.86 L531,266.82 L532,266.79 L533,266.74 L534,266.7 L535,266.66 L536,266.61 L537,266.56 L538,266.52 L539,266.47 L540,266.43 L541,266.38 L542,266.34 L543,266.3 L544,266.27 L545,266.24 L546,266.21 L547,266.19 L548,266.17 L549,266.16 L550,266.16 L551,266.17 L552,266.18 L553,266.21 L554,266.24 L555,266.29 L556,266.33 L557,266.39 L558,266.44 L559,266.5 L560,266.56 L561,266.62 L562,266.68 L563,266.74 L564,266.79 L565,266.84 L566,266.88 L567,266.92 L568,266.95 L569,266.96 L570,266.97 L571,266.97 L572,266.96 L573,266.96 L574,266.95 L575,266.94 L576,266.92 L577,266.91 L578,266.89 L579,266.87 L580,266.85 L581,266.82 L582,266.77 L583,266.7 L584,266.61 L585,266.51 L586,266.39 L587,266.26 L588,266.13 L589,265.99 L590,265.84 L591,265.69 L592,265.53 L593,265.38 L594,265.23 L595,265.08 L596,264.92 L597,264.75 L598,264.57 L599,264.38 L600,264.18 L601,263.98 L602,263.77 L603,263.56 L604,263.35 L605,263.13 L606,262.91 L607,262.68 L608,262.46 L609,262.23 L610,262 L611,261.76 L612,261.52 L613,261.27 L614,261.02 L615,260.76 L616,260.5 L617,260.23 L618,259.97 L619,259.7 L620,259.42 L621,259.15 L622,258.88 L623,258.6 L624,258.34 L625,258.08 L626,257.83 L627,257.57 L628,257.32 L629,257.06 L630,256.8 L631,256.53 L632,256.26 L633,255.97 L634,255.66 L635,255.34 L636,255.01 L637,254.65 L638,254.27 L639,253.87 L640,253.44 L641,252.96 L642,252.39 L643,251.76 L644,251.07 L645,250.33 L646,249.54 L647,248.73 L648,247.89 L649,247 L650,246.03 L651,244.98 L652,243.88 L653,242.72 L654,241.53 L655,240.09 L656,238.65 L657,237.2 L658,235.76 L659,234.32 L660,232.88 L661,231.44 L662,229.99 L663,228.55 L664,231.49 L665,236.31 L666,241.14 L667,245.96 L668,250.78 L669,255.6 L669.2,256.56 L669.2,288.71 L669,289.58 L668,293.92 L667,298.27 L666,302.62 L665,306.97 L664,311.32 L663,315.67 L662,317.1 L661,315.6 L660,314.1 L659,312.61 L658,311.11 L657,309.61 L656,308.12 L655,306.62 L654,305.12 L653,303.99 L652,302.87 L651,301.78 L650,300.73 L649,299.73 L648,298.79 L647,297.9 L646,297.09 L645,296.35 L644,295.7 L643,295.14 L642,294.62 L641,294.12 L640,293.65 L639,293.19 L638,292.76 L637,292.35 L636,291.95 L635,291.57 L634,291.2 L633,290.85 L632,290.51 L631,290.19 L630,289.87 L629,289.56 L628,289.26 L627,288.97 L626,288.68 L625,288.39 L624,288.11 L623,287.84 L622,287.56 L621,287.28 L620,287 L619,286.72 L618,286.43 L617,286.14 L616,285.84 L615,285.53 L614,285.21 L613,284.89 L612,284.56 L611,284.23 L610,283.9 L609,283.57 L608,283.24 L607,282.91 L606,282.58 L605,282.26 L604,281.95 L603,281.65 L602,281.35 L601,281.07 L600,280.8 L599,280.54 L598,280.3 L597,280.08 L596,279.87 L595,279.69 L594,279.52 L593,279.38 L592,279.26 L591,279.17 L590,279.11 L589,279.06 L588,279.01 L587,278.97 L586,278.92 L585,278.88 L584,278.84 L583,278.8 L582,278.76 L581,278.73 L580,278.7 L579,278.67 L578,278.64 L577,278.61 L576,278.59 L575,278.57 L574,278.56 L573,278.55 L572,278.54 L571,278.53 L570,278.53 L569,278.54 L568,278.56 L567,278.59 L566,278.63 L565,278.68 L564,278.73 L563,278.79 L562,278.86 L561,278.92 L560,278.99 L559,279.06 L558,279.13 L557,279.2 L556,279.26 L555,279.31 L554,279.36 L553,279.4 L552,279.43 L551,279.45 L550,279.46 L549,279.45 L548,279.45 L547,279.44 L546,279.42 L545,279.4 L544,279.38 L543,279.36 L542,279.33 L541,279.3 L540,279.27 L539,279.23 L538,279.2 L537,279.16 L536,279.13 L535,279.09 L534,279.06 L533,279.02 L532,278.98 L531,278.95 L530,278.92 L529,278.89 L528,278.86 L527,278.83 L526,278.8 L525,278.78 L524,278.76 L523,278.75 L522,278.73 L521,278.71 L520,278.69 L519,278.68 L518,278.66 L517,278.64 L516,278.62 L515,278.61 L514,278.59 L513,278.58 L512,278.56 L511,278.54 L510,278.53 L509,278.52 L508,278.5 L507,278.49 L506,278.48 L505,278.47 L504,278.46 L503,278.45 L502,278.44 L501,278.43 L500,278.43 L499,278.42 L498,278.42 L497,278.42 L496,278.42 L495,278.42 L494,278.45 L493,278.49 L492,278.55 L491,278.62 L490,278.7 L489,278.78 L488,278.88 L487,278.98 L486,279.08 L485,279.18 L484,279.28 L483,279.38 L482,279.48 L481,279.57 L480,279.66 L479,279.76 L478,279.86 L477,279.97 L476,280.08 L475,280.19 L474,280.31 L473,280.42 L472,280.54 L471,280.65 L470,280.76 L469,280.87 L468,280.98 L467,281.08 L466,281.17 L465,281.26 L464,281.35 L463,281.42 L462,281.49 L461,281.56 L460,281.63 L459,281.69 L458,281.76 L457,281.82 L456,281.88 L455,281.95 L454,282 L453,282.06 L452,282.12 L451,282.18 L450,282.23 L449,282.28 L448,282.33 L447,282.38 L446,282.43 L445,282.48 L444,282.53 L443,282.57 L442,282.62 L441,282.66 L440,282.7 L439,282.74 L438,282.78 L437,282.82 L436,282.86 L435,282.89 L434,282.93 L433,282.96 L432,282.99 L431,283.03 L430,283.06 L429,283.09 L428,283.12 L427,283.16 L426,283.19 L425,283.22 L424,283.25 L423,283.29 L422,283.32 L421,283.35 L420,283.38 L419,283.41 L418,283.44 L417,283.48 L416,283.51 L415,283.54 L414,283.57 L413,283.59 L412,283.62 L411,283.65 L410,283.68 L409,283.71 L408,283.74 L407,283.76 L406,283.79 L405,283.82 L404,283.84 L403,283.87 L402,283.89 L401,283.92 L400,283.94 L399,283.96 L398,283.98 L397,284.01 L396,284.03 L395,284.05 L394,284.07 L393,284.09 L392,284.11 L391,284.12 L390,284.14 L389,284.16 L388,284.17 L387,284.19 L386,284.2 L385,284.22 L384,284.23 L383,284.24 L382,284.25 L381,284.26 L380,284.27 L379,284.28 L378,284.29 L377,284.3 L376,284.3 L375,284.31 L374,284.31 Z" fill="rgba(47,111,214,0.30)" stroke="none"/>
<path d="M374,257.37 L375,257.37 L376,257.38 L377,257.38 L378,257.38 L379,257.39 L380,257.39 L381,257.4 L382,257.41 L383,257.42 L384,257.42 L385,257.43 L386,257.44 L387,257.46 L388,257.47 L389,257.48 L390,257.49 L391,257.51 L392,257.52 L393,257.54 L394,257.55 L395,257.57 L396,257.59 L397,257.6 L398,257.62 L399,257.64 L400,257.66 L401,257.68 L402,257.7 L403,257.72 L404,257.74 L405,257.76 L406,257.79 L407,257.81 L408,257.83 L409,257.86 L410,257.88 L411,257.9 L412,257.93 L413,257.95 L414,257.98 L415,258 L416,258.03 L417,258.06 L418,258.08 L419,258.11 L420,258.14 L421,258.16 L422,258.19 L423,258.22 L424,258.24 L425,258.27 L426,258.3 L427,258.33 L428,258.36 L429,258.39 L430,258.41 L431,258.44 L432,258.47 L433,258.5 L434,258.53 L435,258.56 L436,258.59 L437,258.62 L438,258.66 L439,258.69 L440,258.73 L441,258.77 L442,258.81 L443,258.86 L444,258.9 L445,258.94 L446,258.99 L447,259.04 L448,259.09 L449,259.14 L450,259.19 L451,259.24 L452,259.3 L453,259.35 L454,259.41 L455,259.47 L456,259.52 L457,259.58 L458,259.64 L459,259.7 L460,259.76 L461,259.82 L462,259.88 L463,259.95 L464,260.01 L465,260.07 L466,260.14 L467,260.2 L468,260.26 L469,260.33 L470,260.39 L471,260.46 L472,260.52 L473,260.59 L474,260.65 L475,260.72 L476,260.78 L477,260.85 L478,260.91 L479,260.98 L480,261.04 L481,261.1 L482,261.17 L483,261.23 L484,261.29 L485,261.35 L486,261.42 L487,261.48 L488,261.54 L489,261.6 L490,261.65 L491,261.71 L492,261.77 L493,261.83 L494,261.88 L495,261.93 L496,261.99 L497,262.04 L498,262.09 L499,262.13 L500,262.18 L501,262.22 L502,262.27 L503,262.31 L504,262.36 L505,262.4 L506,262.44 L507,262.49 L508,262.53 L509,262.58 L510,262.62 L511,262.67 L512,262.72 L513,262.77 L514,262.83 L515,262.88 L516,262.94 L517,263 L518,263.06 L519,263.12 L520,263.19 L521,263.26 L522,263.34 L523,263.42 L524,263.5 L525,263.59 L526,263.7 L527,263.83 L528,263.97 L529,264.12 L530,264.28 L531,264.45 L532,264.63 L533,264.81 L534,264.99 L535,265.17 L536,265.36 L537,265.54 L538,265.71 L539,265.88 L540,266.04 L541,266.2 L542,266.34 L543,266.49 L544,266.62 L545,266.76 L546,266.9 L547,267.03 L548,267.17 L549,267.32 L550,267.47 L551,267.63 L552,267.79 L553,267.97 L554,268.16 L555,268.36 L556,268.59 L557,268.86 L558,269.16 L559,269.5 L560,269.85 L561,270.22 L562,270.59 L563,270.96 L564,271.32 L565,271.67 L566,271.99 L567,272.28 L568,272.54 L569,272.75 L570,272.94 L571,273.13 L572,273.32 L573,273.51 L574,273.68 L575,273.84 L576,273.97 L577,274.09 L578,274.18 L579,274.23 L580,274.25 L581,274.24 L582,274.22 L583,274.18 L584,274.12 L585,274.06 L586,273.99 L587,273.91 L588,273.83 L589,273.75 L590,273.68 L591,273.59 L592,273.5 L593,273.4 L594,273.29 L595,273.17 L596,273.04 L597,272.91 L598,272.77 L599,272.63 L600,272.48 L601,272.33 L602,272.17 L603,272.01 L604,271.85 L605,271.69 L606,271.53 L607,271.37 L608,271.21 L609,271.05 L610,270.9 L611,270.74 L612,270.6 L613,270.45 L614,270.32 L615,270.18 L616,270.06 L617,269.94 L618,269.83 L619,269.72 L620,269.62 L621,269.52 L622,269.42 L623,269.33 L624,269.23 L625,269.14 L626,269.06 L627,268.97 L628,268.88 L629,268.8 L630,268.71 L631,268.62 L632,268.53 L633,268.44 L634,268.35 L635,268.26 L636,268.16 L637,268.06 L638,267.95 L639,267.84 L640,267.73 L641,267.61 L642,267.49 L643,267.36 L644,267.21 L645,267.04 L646,266.84 L647,266.62 L648,266.38 L649,266.12 L650,265.86 L651,265.59 L652,265.32 L653,265.06 L654,265.19 L655,264.99 L656,264.79 L657,264.59 L658,264.39 L659,264.2 L660,264 L661,263.8 L662,263.6 L663,263.72 L664,264.17 L665,264.62 L666,265.07 L667,265.52 L668,265.97 L669,266.42 L669.2,266.51 L669.2,336.34 L669,336.24 L668,335.72 L667,335.2 L666,334.69 L665,334.17 L664,333.65 L663,333.13 L662,332.06 L661,330.43 L660,328.79 L659,327.16 L658,325.53 L657,323.9 L656,322.26 L655,320.63 L654,319 L653,317.53 L652,316.05 L651,314.56 L650,313.1 L649,311.67 L648,310.29 L647,308.99 L646,307.79 L645,306.69 L644,305.72 L643,304.89 L642,304.12 L641,303.38 L640,302.67 L639,301.99 L638,301.33 L637,300.7 L636,300.09 L635,299.5 L634,298.93 L633,298.39 L632,297.86 L631,297.35 L630,296.85 L629,296.37 L628,295.91 L627,295.45 L626,295.01 L625,294.58 L624,294.16 L623,293.75 L622,293.34 L621,292.94 L620,292.54 L619,292.15 L618,291.76 L617,291.37 L616,290.98 L615,290.59 L614,290.21 L613,289.82 L612,289.45 L611,289.07 L610,288.7 L609,288.34 L608,287.98 L607,287.63 L606,287.28 L605,286.94 L604,286.61 L603,286.28 L602,285.96 L601,285.66 L600,285.35 L599,285.06 L598,284.78 L597,284.51 L596,284.25 L595,284 L594,283.76 L593,283.53 L592,283.32 L591,283.11 L590,282.93 L589,282.74 L588,282.57 L587,282.4 L586,282.24 L585,282.08 L584,281.93 L583,281.78 L582,281.64 L581,281.5 L580,281.37 L579,281.24 L578,281.11 L577,280.99 L576,280.88 L575,280.77 L574,280.66 L573,280.55 L572,280.45 L571,280.36 L570,280.27 L569,280.18 L568,280.1 L567,280.02 L566,279.95 L565,279.89 L564,279.82 L563,279.76 L562,279.71 L561,279.65 L560,279.59 L559,279.54 L558,279.48 L557,279.42 L556,279.36 L555,279.29 L554,279.22 L553,279.14 L552,279.06 L551,278.97 L550,278.88 L549,278.77 L548,278.64 L547,278.5 L546,278.34 L545,278.17 L544,277.99 L543,277.8 L542,277.59 L541,277.38 L540,277.17 L539,276.94 L538,276.72 L537,276.49 L536,276.26 L535,276.03 L534,275.8 L533,275.57 L532,275.35 L531,275.14 L530,274.93 L529,274.73 L528,274.54 L527,274.36 L526,274.2 L525,274.04 L524,273.91 L523,273.78 L522,273.64 L521,273.51 L520,273.38 L519,273.24 L518,273.11 L517,272.98 L516,272.84 L515,272.71 L514,272.58 L513,272.46 L512,272.33 L511,272.21 L510,272.09 L509,271.98 L508,271.87 L507,271.76 L506,271.66 L505,271.57 L504,271.48 L503,271.4 L502,271.32 L501,271.25 L500,271.19 L499,271.14 L498,271.1 L497,271.06 L496,271.04 L495,271.02 L494,271.02 L493,271.02 L492,271.02 L491,271.02 L490,271.02 L489,271.02 L488,271.02 L487,271.03 L486,271.03 L485,271.04 L484,271.04 L483,271.05 L482,271.05 L481,271.06 L480,271.06 L479,271.07 L478,271.08 L477,271.08 L476,271.09 L475,271.1 L474,271.11 L473,271.12 L472,271.13 L471,271.14 L470,271.15 L469,271.16 L468,271.17 L467,271.18 L466,271.19 L465,271.2 L464,271.21 L463,271.22 L462,271.23 L461,271.24 L460,271.25 L459,271.27 L458,271.28 L457,271.29 L456,271.3 L455,271.32 L454,271.33 L453,271.34 L452,271.36 L451,271.37 L450,271.38 L449,271.4 L448,271.41 L447,271.42 L446,271.43 L445,271.45 L444,271.46 L443,271.48 L442,271.49 L441,271.5 L440,271.52 L439,271.53 L438,271.54 L437,271.55 L436,271.57 L435,271.58 L434,271.59 L433,271.61 L432,271.62 L431,271.63 L430,271.65 L429,271.66 L428,271.68 L427,271.69 L426,271.7 L425,271.72 L424,271.74 L423,271.75 L422,271.77 L421,271.78 L420,271.8 L419,271.82 L418,271.83 L417,271.85 L416,271.87 L415,271.88 L414,271.9 L413,271.92 L412,271.94 L411,271.95 L410,271.97 L409,271.99 L408,272.01 L407,272.03 L406,272.05 L405,272.07 L404,272.09 L403,272.11 L402,272.13 L401,272.15 L400,272.17 L399,272.19 L398,272.21 L397,272.23 L396,272.25 L395,272.27 L394,272.29 L393,272.31 L392,272.34 L391,272.36 L390,272.38 L389,272.4 L388,272.42 L387,272.45 L386,272.47 L385,272.49 L384,272.51 L383,272.54 L382,272.56 L381,272.58 L380,272.61 L379,272.63 L378,272.65 L377,272.68 L376,272.7 L375,272.73 L374,272.75 Z" fill="rgba(184,134,11,0.40)" stroke="none"/>
<path d="M374,261.19 L375,261.19 L376,261.2 L377,261.21 L378,261.21 L379,261.22 L380,261.23 L381,261.24 L382,261.25 L383,261.26 L384,261.27 L385,261.28 L386,261.29 L387,261.3 L388,261.32 L389,261.33 L390,261.35 L391,261.36 L392,261.38 L393,261.39 L394,261.41 L395,261.42 L396,261.44 L397,261.46 L398,261.48 L399,261.5 L400,261.52 L401,261.53 L402,261.55 L403,261.57 L404,261.6 L405,261.62 L406,261.64 L407,261.66 L408,261.68 L409,261.7 L410,261.73 L411,261.75 L412,261.77 L413,261.8 L414,261.82 L415,261.84 L416,261.87 L417,261.89 L418,261.92 L419,261.94 L420,261.97 L421,262 L422,262.02 L423,262.05 L424,262.07 L425,262.1 L426,262.13 L427,262.15 L428,262.18 L429,262.21 L430,262.23 L431,262.26 L432,262.29 L433,262.32 L434,262.34 L435,262.37 L436,262.4 L437,262.43 L438,262.46 L439,262.5 L440,262.53 L441,262.56 L442,262.6 L443,262.64 L444,262.68 L445,262.71 L446,262.75 L447,262.79 L448,262.84 L449,262.88 L450,262.92 L451,262.97 L452,263.01 L453,263.06 L454,263.1 L455,263.15 L456,263.2 L457,263.24 L458,263.29 L459,263.34 L460,263.39 L461,263.44 L462,263.49 L463,263.55 L464,263.6 L465,263.65 L466,263.7 L467,263.76 L468,263.81 L469,263.86 L470,263.92 L471,263.97 L472,264.03 L473,264.08 L474,264.14 L475,264.19 L476,264.25 L477,264.3 L478,264.36 L479,264.41 L480,264.47 L481,264.52 L482,264.58 L483,264.63 L484,264.69 L485,264.75 L486,264.8 L487,264.86 L488,264.91 L489,264.96 L490,265.02 L491,265.07 L492,265.13 L493,265.18 L494,265.23 L495,265.29 L496,265.35 L497,265.41 L498,265.48 L499,265.55 L500,265.62 L501,265.69 L502,265.77 L503,265.84 L504,265.92 L505,266 L506,266.07 L507,266.15 L508,266.23 L509,266.3 L510,266.37 L511,266.44 L512,266.51 L513,266.58 L514,266.64 L515,266.69 L516,266.75 L517,266.8 L518,266.84 L519,266.88 L520,266.91 L521,266.93 L522,266.95 L523,266.96 L524,266.97 L525,266.97 L526,266.96 L527,266.94 L528,266.92 L529,266.89 L530,266.86 L531,266.82 L532,266.79 L533,266.74 L534,266.7 L535,266.66 L536,266.61 L537,266.56 L538,266.52 L539,266.47 L540,266.43 L541,266.38 L542,266.34 L543,266.3 L544,266.27 L545,266.24 L546,266.21 L547,266.19 L548,266.17 L549,266.16 L550,266.16 L551,266.17 L552,266.18 L553,266.21 L554,266.24 L555,266.29 L556,266.33 L557,266.39 L558,266.44 L559,266.5 L560,266.56 L561,266.62 L562,266.68 L563,266.74 L564,266.79 L565,266.84 L566,266.88 L567,266.92 L568,266.95 L569,266.96 L570,266.97 L571,266.97 L572,266.96 L573,266.96 L574,266.95 L575,266.94 L576,266.92 L577,266.91 L578,266.89 L579,266.87 L580,266.85 L581,266.82 L582,266.77 L583,266.7 L584,266.61 L585,266.51 L586,266.39 L587,266.26 L588,266.13 L589,265.99 L590,265.84 L591,265.69 L592,265.53 L593,265.38 L594,265.23 L595,265.08 L596,264.92 L597,264.75 L598,264.57 L599,264.38 L600,264.18 L601,263.98 L602,263.77 L603,263.56 L604,263.35 L605,263.13 L606,262.91 L607,262.68 L608,262.46 L609,262.23 L610,262 L611,261.76 L612,261.52 L613,261.27 L614,261.02 L615,260.76 L616,260.5 L617,260.23 L618,259.97 L619,259.7 L620,259.42 L621,259.15 L622,258.88 L623,258.6 L624,258.34 L625,258.08 L626,257.83 L627,257.57 L628,257.32 L629,257.06 L630,256.8 L631,256.53 L632,256.26 L633,255.97 L634,255.66 L635,255.34 L636,255.01 L637,254.65 L638,254.27 L639,253.87 L640,253.44 L641,252.96 L642,252.39 L643,251.76 L644,251.07 L645,250.33 L646,249.54 L647,248.73 L648,247.89 L649,247 L650,246.03 L651,244.98 L652,243.88 L653,242.72 L654,241.53 L655,240.09 L656,238.65 L657,237.2 L658,235.76 L659,234.32 L660,232.88 L661,231.44 L662,229.99 L663,228.55 L664,231.49 L665,236.31 L666,241.14 L667,245.96 L668,250.78 L669,255.6 L669.2,256.56" fill="none" stroke="#2f6fd6" stroke-width="1.15"/>
<path d="M374,284.31 L375,284.31 L376,284.3 L377,284.3 L378,284.29 L379,284.28 L380,284.27 L381,284.26 L382,284.25 L383,284.24 L384,284.23 L385,284.22 L386,284.2 L387,284.19 L388,284.17 L389,284.16 L390,284.14 L391,284.12 L392,284.11 L393,284.09 L394,284.07 L395,284.05 L396,284.03 L397,284.01 L398,283.98 L399,283.96 L400,283.94 L401,283.92 L402,283.89 L403,283.87 L404,283.84 L405,283.82 L406,283.79 L407,283.76 L408,283.74 L409,283.71 L410,283.68 L411,283.65 L412,283.62 L413,283.59 L414,283.57 L415,283.54 L416,283.51 L417,283.48 L418,283.44 L419,283.41 L420,283.38 L421,283.35 L422,283.32 L423,283.29 L424,283.25 L425,283.22 L426,283.19 L427,283.16 L428,283.12 L429,283.09 L430,283.06 L431,283.03 L432,282.99 L433,282.96 L434,282.93 L435,282.89 L436,282.86 L437,282.82 L438,282.78 L439,282.74 L440,282.7 L441,282.66 L442,282.62 L443,282.57 L444,282.53 L445,282.48 L446,282.43 L447,282.38 L448,282.33 L449,282.28 L450,282.23 L451,282.18 L452,282.12 L453,282.06 L454,282 L455,281.95 L456,281.88 L457,281.82 L458,281.76 L459,281.69 L460,281.63 L461,281.56 L462,281.49 L463,281.42 L464,281.35 L465,281.26 L466,281.17 L467,281.08 L468,280.98 L469,280.87 L470,280.76 L471,280.65 L472,280.54 L473,280.42 L474,280.31 L475,280.19 L476,280.08 L477,279.97 L478,279.86 L479,279.76 L480,279.66 L481,279.57 L482,279.48 L483,279.38 L484,279.28 L485,279.18 L486,279.08 L487,278.98 L488,278.88 L489,278.78 L490,278.7 L491,278.62 L492,278.55 L493,278.49 L494,278.45 L495,278.42 L496,278.42 L497,278.42 L498,278.42 L499,278.42 L500,278.43 L501,278.43 L502,278.44 L503,278.45 L504,278.46 L505,278.47 L506,278.48 L507,278.49 L508,278.5 L509,278.52 L510,278.53 L511,278.54 L512,278.56 L513,278.58 L514,278.59 L515,278.61 L516,278.62 L517,278.64 L518,278.66 L519,278.68 L520,278.69 L521,278.71 L522,278.73 L523,278.75 L524,278.76 L525,278.78 L526,278.8 L527,278.83 L528,278.86 L529,278.89 L530,278.92 L531,278.95 L532,278.98 L533,279.02 L534,279.06 L535,279.09 L536,279.13 L537,279.16 L538,279.2 L539,279.23 L540,279.27 L541,279.3 L542,279.33 L543,279.36 L544,279.38 L545,279.4 L546,279.42 L547,279.44 L548,279.45 L549,279.45 L550,279.46 L551,279.45 L552,279.43 L553,279.4 L554,279.36 L555,279.31 L556,279.26 L557,279.2 L558,279.13 L559,279.06 L560,278.99 L561,278.92 L562,278.86 L563,278.79 L564,278.73 L565,278.68 L566,278.63 L567,278.59 L568,278.56 L569,278.54 L570,278.53 L571,278.53 L572,278.54 L573,278.55 L574,278.56 L575,278.57 L576,278.59 L577,278.61 L578,278.64 L579,278.67 L580,278.7 L581,278.73 L582,278.76 L583,278.8 L584,278.84 L585,278.88 L586,278.92 L587,278.97 L588,279.01 L589,279.06 L590,279.11 L591,279.17 L592,279.26 L593,279.38 L594,279.52 L595,279.69 L596,279.87 L597,280.08 L598,280.3 L599,280.54 L600,280.8 L601,281.07 L602,281.35 L603,281.65 L604,281.95 L605,282.26 L606,282.58 L607,282.91 L608,283.24 L609,283.57 L610,283.9 L611,284.23 L612,284.56 L613,284.89 L614,285.21 L615,285.53 L616,285.84 L617,286.14 L618,286.43 L619,286.72 L620,287 L621,287.28 L622,287.56 L623,287.84 L624,288.11 L625,288.39 L626,288.68 L627,288.97 L628,289.26 L629,289.56 L630,289.87 L631,290.19 L632,290.51 L633,290.85 L634,291.2 L635,291.57 L636,291.95 L637,292.35 L638,292.76 L639,293.19 L640,293.65 L641,294.12 L642,294.62 L643,295.14 L644,295.7 L645,296.35 L646,297.09 L647,297.9 L648,298.79 L649,299.73 L650,300.73 L651,301.78 L652,302.87 L653,303.99 L654,305.12 L655,306.62 L656,308.12 L657,309.61 L658,311.11 L659,312.61 L660,314.1 L661,315.6 L662,317.1 L663,315.67 L664,311.32 L665,306.97 L666,302.62 L667,298.27 L668,293.92 L669,289.58 L669.2,288.71" fill="none" stroke="#2f6fd6" stroke-width="1.15"/>
<path d="M374,272.75 L375,272.75 L376,272.75 L377,272.75 L378,272.75 L379,272.75 L380,272.75 L381,272.75 L382,272.75 L383,272.75 L384,272.75 L385,272.75 L386,272.75 L387,272.75 L388,272.75 L389,272.75 L390,272.75 L391,272.75 L392,272.75 L393,272.75 L394,272.75 L395,272.75 L396,272.75 L397,272.75 L398,272.75 L399,272.75 L400,272.75 L401,272.75 L402,272.75 L403,272.75 L404,272.75 L405,272.75 L406,272.75 L407,272.75 L408,272.75 L409,272.75 L410,272.75 L411,272.75 L412,272.75 L413,272.75 L414,272.75 L415,272.75 L416,272.75 L417,272.75 L418,272.75 L419,272.75 L420,272.75 L421,272.75 L422,272.75 L423,272.75 L424,272.75 L425,272.75 L426,272.75 L427,272.75 L428,272.75 L429,272.75 L430,272.75 L431,272.75 L432,272.75 L433,272.75 L434,272.75 L435,272.75 L436,272.75 L437,272.75 L438,272.75 L439,272.75 L440,272.75 L441,272.75 L442,272.75 L443,272.75 L444,272.75 L445,272.75 L446,272.75 L447,272.75 L448,272.75 L449,272.75 L450,272.75 L451,272.75 L452,272.75 L453,272.75 L454,272.75 L455,272.75 L456,272.75 L457,272.75 L458,272.75 L459,272.75 L460,272.75 L461,272.75 L462,272.75 L463,272.75 L464,272.75 L465,272.75 L466,272.75 L467,272.75 L468,272.75 L469,272.75 L470,272.75 L471,272.75 L472,272.75 L473,272.75 L474,272.75 L475,272.75 L476,272.75 L477,272.75 L478,272.75 L479,272.75 L480,272.75 L481,272.75 L482,272.75 L483,272.75 L484,272.75 L485,272.75 L486,272.75 L487,272.75 L488,272.75 L489,272.75 L490,272.75 L491,272.75 L492,272.75 L493,272.75 L494,272.75 L495,272.75 L496,272.75 L497,272.75 L498,272.75 L499,272.75 L500,272.75 L501,272.75 L502,272.75 L503,272.75 L504,272.75 L505,272.75 L506,272.75 L507,272.75 L508,272.75 L509,272.75 L510,272.75 L511,272.75 L512,272.75 L513,272.75 L514,272.75 L515,272.75 L516,272.75 L517,272.75 L518,272.75 L519,272.75 L520,272.75 L521,272.75 L522,272.75 L523,272.75 L524,272.75 L525,272.75 L526,272.75 L527,272.75 L528,272.75 L529,272.75 L530,272.75 L531,272.75 L532,272.75 L533,272.75 L534,272.75 L535,272.75 L536,272.75 L537,272.75 L538,272.75 L539,272.75 L540,272.75 L541,272.75 L542,272.75 L543,272.75 L544,272.75 L545,272.75 L546,272.75 L547,272.75 L548,272.75 L549,272.75 L550,272.75 L551,272.75 L552,272.75 L553,272.75 L554,272.75 L555,272.75 L556,272.75 L557,272.75 L558,272.75 L559,272.75 L560,272.75 L561,272.75 L562,272.75 L563,272.75 L564,272.75 L565,272.75 L566,272.75 L567,272.75 L568,272.75 L569,272.75 L570,272.75 L571,272.75 L572,272.75 L573,272.75 L574,272.75 L575,272.75 L576,272.75 L577,272.75 L578,272.75 L579,272.75 L580,272.75 L581,272.75 L582,272.75 L583,272.75 L584,272.75 L585,272.75 L586,272.75 L587,272.75 L588,272.75 L589,272.75 L590,272.75 L591,272.75 L592,272.75 L593,272.75 L594,272.75 L595,272.75 L596,272.75 L597,272.75 L598,272.75 L599,272.75 L600,272.75 L601,272.75 L602,272.75 L603,272.75 L604,272.75 L605,272.75 L606,272.75 L607,272.75 L608,272.75 L609,272.75 L610,272.75 L611,272.75 L612,272.75 L613,272.75 L614,272.75 L615,272.75 L616,272.75 L617,272.75 L618,272.75 L619,272.75 L620,272.75 L621,272.75 L622,272.75 L623,272.75 L624,272.75 L625,272.75 L626,272.75 L627,272.75 L628,272.75 L629,272.75 L630,272.75 L631,272.75 L632,272.75 L633,272.75 L634,272.75 L635,272.75 L636,272.75 L637,272.75 L638,272.75 L639,272.75 L640,272.75 L641,272.75 L642,272.75 L643,272.75 L644,272.75 L645,272.75 L646,272.75 L647,272.75 L648,272.75 L649,272.75 L650,272.75 L651,272.75 L652,272.75 L653,272.75 L654,272.75 L655,272.75 L656,272.75 L657,272.75 L658,272.75 L659,272.75 L660,272.75 L661,272.75 L662,272.75 L663,272.75 L664,272.75 L665,272.75 L666,272.75 L667,272.75 L668,272.75 L669,272.75 L669.2,272.75" fill="none" stroke="#2f6fd6" stroke-width="1.4" stroke-dasharray="3.8 2.8"/>
<path d="M374,257.37 L375,257.37 L376,257.38 L377,257.38 L378,257.38 L379,257.39 L380,257.39 L381,257.4 L382,257.41 L383,257.42 L384,257.42 L385,257.43 L386,257.44 L387,257.46 L388,257.47 L389,257.48 L390,257.49 L391,257.51 L392,257.52 L393,257.54 L394,257.55 L395,257.57 L396,257.59 L397,257.6 L398,257.62 L399,257.64 L400,257.66 L401,257.68 L402,257.7 L403,257.72 L404,257.74 L405,257.76 L406,257.79 L407,257.81 L408,257.83 L409,257.86 L410,257.88 L411,257.9 L412,257.93 L413,257.95 L414,257.98 L415,258 L416,258.03 L417,258.06 L418,258.08 L419,258.11 L420,258.14 L421,258.16 L422,258.19 L423,258.22 L424,258.24 L425,258.27 L426,258.3 L427,258.33 L428,258.36 L429,258.39 L430,258.41 L431,258.44 L432,258.47 L433,258.5 L434,258.53 L435,258.56 L436,258.59 L437,258.62 L438,258.66 L439,258.69 L440,258.73 L441,258.77 L442,258.81 L443,258.86 L444,258.9 L445,258.94 L446,258.99 L447,259.04 L448,259.09 L449,259.14 L450,259.19 L451,259.24 L452,259.3 L453,259.35 L454,259.41 L455,259.47 L456,259.52 L457,259.58 L458,259.64 L459,259.7 L460,259.76 L461,259.82 L462,259.88 L463,259.95 L464,260.01 L465,260.07 L466,260.14 L467,260.2 L468,260.26 L469,260.33 L470,260.39 L471,260.46 L472,260.52 L473,260.59 L474,260.65 L475,260.72 L476,260.78 L477,260.85 L478,260.91 L479,260.98 L480,261.04 L481,261.1 L482,261.17 L483,261.23 L484,261.29 L485,261.35 L486,261.42 L487,261.48 L488,261.54 L489,261.6 L490,261.65 L491,261.71 L492,261.77 L493,261.83 L494,261.88 L495,261.93 L496,261.99 L497,262.04 L498,262.09 L499,262.13 L500,262.18 L501,262.22 L502,262.27 L503,262.31 L504,262.36 L505,262.4 L506,262.44 L507,262.49 L508,262.53 L509,262.58 L510,262.62 L511,262.67 L512,262.72 L513,262.77 L514,262.83 L515,262.88 L516,262.94 L517,263 L518,263.06 L519,263.12 L520,263.19 L521,263.26 L522,263.34 L523,263.42 L524,263.5 L525,263.59 L526,263.7 L527,263.83 L528,263.97 L529,264.12 L530,264.28 L531,264.45 L532,264.63 L533,264.81 L534,264.99 L535,265.17 L536,265.36 L537,265.54 L538,265.71 L539,265.88 L540,266.04 L541,266.2 L542,266.34 L543,266.49 L544,266.62 L545,266.76 L546,266.9 L547,267.03 L548,267.17 L549,267.32 L550,267.47 L551,267.63 L552,267.79 L553,267.97 L554,268.16 L555,268.36 L556,268.59 L557,268.86 L558,269.16 L559,269.5 L560,269.85 L561,270.22 L562,270.59 L563,270.96 L564,271.32 L565,271.67 L566,271.99 L567,272.28 L568,272.54 L569,272.75 L570,272.94 L571,273.13 L572,273.32 L573,273.51 L574,273.68 L575,273.84 L576,273.97 L577,274.09 L578,274.18 L579,274.23 L580,274.25 L581,274.24 L582,274.22 L583,274.18 L584,274.12 L585,274.06 L586,273.99 L587,273.91 L588,273.83 L589,273.75 L590,273.68 L591,273.59 L592,273.5 L593,273.4 L594,273.29 L595,273.17 L596,273.04 L597,272.91 L598,272.77 L599,272.63 L600,272.48 L601,272.33 L602,272.17 L603,272.01 L604,271.85 L605,271.69 L606,271.53 L607,271.37 L608,271.21 L609,271.05 L610,270.9 L611,270.74 L612,270.6 L613,270.45 L614,270.32 L615,270.18 L616,270.06 L617,269.94 L618,269.83 L619,269.72 L620,269.62 L621,269.52 L622,269.42 L623,269.33 L624,269.23 L625,269.14 L626,269.06 L627,268.97 L628,268.88 L629,268.8 L630,268.71 L631,268.62 L632,268.53 L633,268.44 L634,268.35 L635,268.26 L636,268.16 L637,268.06 L638,267.95 L639,267.84 L640,267.73 L641,267.61 L642,267.49 L643,267.36 L644,267.21 L645,267.04 L646,266.84 L647,266.62 L648,266.38 L649,266.12 L650,265.86 L651,265.59 L652,265.32 L653,265.06 L654,265.19 L655,264.99 L656,264.79 L657,264.59 L658,264.39 L659,264.2 L660,264 L661,263.8 L662,263.6 L663,263.72 L664,264.17 L665,264.62 L666,265.07 L667,265.52 L668,265.97 L669,266.42 L669.2,266.51" fill="none" stroke="#cf9a1c" stroke-width="1.15"/>
<path d="M374,272.75 L375,272.73 L376,272.7 L377,272.68 L378,272.65 L379,272.63 L380,272.61 L381,272.58 L382,272.56 L383,272.54 L384,272.51 L385,272.49 L386,272.47 L387,272.45 L388,272.42 L389,272.4 L390,272.38 L391,272.36 L392,272.34 L393,272.31 L394,272.29 L395,272.27 L396,272.25 L397,272.23 L398,272.21 L399,272.19 L400,272.17 L401,272.15 L402,272.13 L403,272.11 L404,272.09 L405,272.07 L406,272.05 L407,272.03 L408,272.01 L409,271.99 L410,271.97 L411,271.95 L412,271.94 L413,271.92 L414,271.9 L415,271.88 L416,271.87 L417,271.85 L418,271.83 L419,271.82 L420,271.8 L421,271.78 L422,271.77 L423,271.75 L424,271.74 L425,271.72 L426,271.7 L427,271.69 L428,271.68 L429,271.66 L430,271.65 L431,271.63 L432,271.62 L433,271.61 L434,271.59 L435,271.58 L436,271.57 L437,271.55 L438,271.54 L439,271.53 L440,271.52 L441,271.5 L442,271.49 L443,271.48 L444,271.46 L445,271.45 L446,271.43 L447,271.42 L448,271.41 L449,271.4 L450,271.38 L451,271.37 L452,271.36 L453,271.34 L454,271.33 L455,271.32 L456,271.3 L457,271.29 L458,271.28 L459,271.27 L460,271.25 L461,271.24 L462,271.23 L463,271.22 L464,271.21 L465,271.2 L466,271.19 L467,271.18 L468,271.17 L469,271.16 L470,271.15 L471,271.14 L472,271.13 L473,271.12 L474,271.11 L475,271.1 L476,271.09 L477,271.08 L478,271.08 L479,271.07 L480,271.06 L481,271.06 L482,271.05 L483,271.05 L484,271.04 L485,271.04 L486,271.03 L487,271.03 L488,271.02 L489,271.02 L490,271.02 L491,271.02 L492,271.02 L493,271.02 L494,271.02 L495,271.02 L496,271.04 L497,271.06 L498,271.1 L499,271.14 L500,271.19 L501,271.25 L502,271.32 L503,271.4 L504,271.48 L505,271.57 L506,271.66 L507,271.76 L508,271.87 L509,271.98 L510,272.09 L511,272.21 L512,272.33 L513,272.46 L514,272.58 L515,272.71 L516,272.84 L517,272.98 L518,273.11 L519,273.24 L520,273.38 L521,273.51 L522,273.64 L523,273.78 L524,273.91 L525,274.04 L526,274.2 L527,274.36 L528,274.54 L529,274.73 L530,274.93 L531,275.14 L532,275.35 L533,275.57 L534,275.8 L535,276.03 L536,276.26 L537,276.49 L538,276.72 L539,276.94 L540,277.17 L541,277.38 L542,277.59 L543,277.8 L544,277.99 L545,278.17 L546,278.34 L547,278.5 L548,278.64 L549,278.77 L550,278.88 L551,278.97 L552,279.06 L553,279.14 L554,279.22 L555,279.29 L556,279.36 L557,279.42 L558,279.48 L559,279.54 L560,279.59 L561,279.65 L562,279.71 L563,279.76 L564,279.82 L565,279.89 L566,279.95 L567,280.02 L568,280.1 L569,280.18 L570,280.27 L571,280.36 L572,280.45 L573,280.55 L574,280.66 L575,280.77 L576,280.88 L577,280.99 L578,281.11 L579,281.24 L580,281.37 L581,281.5 L582,281.64 L583,281.78 L584,281.93 L585,282.08 L586,282.24 L587,282.4 L588,282.57 L589,282.74 L590,282.93 L591,283.11 L592,283.32 L593,283.53 L594,283.76 L595,284 L596,284.25 L597,284.51 L598,284.78 L599,285.06 L600,285.35 L601,285.66 L602,285.96 L603,286.28 L604,286.61 L605,286.94 L606,287.28 L607,287.63 L608,287.98 L609,288.34 L610,288.7 L611,289.07 L612,289.45 L613,289.82 L614,290.21 L615,290.59 L616,290.98 L617,291.37 L618,291.76 L619,292.15 L620,292.54 L621,292.94 L622,293.34 L623,293.75 L624,294.16 L625,294.58 L626,295.01 L627,295.45 L628,295.91 L629,296.37 L630,296.85 L631,297.35 L632,297.86 L633,298.39 L634,298.93 L635,299.5 L636,300.09 L637,300.7 L638,301.33 L639,301.99 L640,302.67 L641,303.38 L642,304.12 L643,304.89 L644,305.72 L645,306.69 L646,307.79 L647,308.99 L648,310.29 L649,311.67 L650,313.1 L651,314.56 L652,316.05 L653,317.53 L654,319 L655,320.63 L656,322.26 L657,323.9 L658,325.53 L659,327.16 L660,328.79 L661,330.43 L662,332.06 L663,333.13 L664,333.65 L665,334.17 L666,334.69 L667,335.2 L668,335.72 L669,336.24 L669.2,336.34" fill="none" stroke="#cf9a1c" stroke-width="1.15"/>
<path d="M374,265 L375,265 L376,265 L377,265 L378,265 L379,265 L380,265.01 L381,265.01 L382,265.01 L383,265.01 L384,265.01 L385,265.01 L386,265.01 L387,265.02 L388,265.02 L389,265.02 L390,265.02 L391,265.02 L392,265.03 L393,265.03 L394,265.03 L395,265.03 L396,265.04 L397,265.04 L398,265.04 L399,265.05 L400,265.05 L401,265.05 L402,265.06 L403,265.06 L404,265.07 L405,265.07 L406,265.07 L407,265.08 L408,265.08 L409,265.09 L410,265.09 L411,265.1 L412,265.1 L413,265.11 L414,265.11 L415,265.12 L416,265.12 L417,265.13 L418,265.13 L419,265.14 L420,265.14 L421,265.15 L422,265.16 L423,265.16 L424,265.17 L425,265.17 L426,265.18 L427,265.19 L428,265.19 L429,265.2 L430,265.21 L431,265.21 L432,265.22 L433,265.23 L434,265.23 L435,265.24 L436,265.25 L437,265.26 L438,265.27 L439,265.29 L440,265.3 L441,265.32 L442,265.34 L443,265.35 L444,265.37 L445,265.4 L446,265.42 L447,265.44 L448,265.47 L449,265.49 L450,265.52 L451,265.55 L452,265.58 L453,265.61 L454,265.64 L455,265.67 L456,265.71 L457,265.74 L458,265.78 L459,265.81 L460,265.85 L461,265.89 L462,265.93 L463,265.97 L464,266.01 L465,266.05 L466,266.09 L467,266.14 L468,266.18 L469,266.23 L470,266.27 L471,266.32 L472,266.37 L473,266.42 L474,266.46 L475,266.51 L476,266.56 L477,266.61 L478,266.67 L479,266.72 L480,266.77 L481,266.82 L482,266.88 L483,266.93 L484,266.98 L485,267.04 L486,267.09 L487,267.15 L488,267.2 L489,267.26 L490,267.32 L491,267.37 L492,267.43 L493,267.49 L494,267.55 L495,267.61 L496,267.67 L497,267.74 L498,267.82 L499,267.89 L500,267.98 L501,268.06 L502,268.15 L503,268.24 L504,268.34 L505,268.44 L506,268.54 L507,268.64 L508,268.74 L509,268.85 L510,268.95 L511,269.06 L512,269.17 L513,269.28 L514,269.39 L515,269.5 L516,269.61 L517,269.71 L518,269.82 L519,269.93 L520,270.03 L521,270.14 L522,270.24 L523,270.34 L524,270.44 L525,270.53 L526,270.63 L527,270.73 L528,270.83 L529,270.93 L530,271.03 L531,271.13 L532,271.23 L533,271.33 L534,271.43 L535,271.54 L536,271.64 L537,271.74 L538,271.84 L539,271.94 L540,272.04 L541,272.14 L542,272.24 L543,272.33 L544,272.43 L545,272.53 L546,272.62 L547,272.72 L548,272.81 L549,272.9 L550,272.99 L551,273.08 L552,273.16 L553,273.25 L554,273.33 L555,273.41 L556,273.48 L557,273.55 L558,273.62 L559,273.69 L560,273.75 L561,273.81 L562,273.88 L563,273.94 L564,274.01 L565,274.08 L566,274.15 L567,274.23 L568,274.31 L569,274.39 L570,274.48 L571,274.58 L572,274.69 L573,274.81 L574,274.94 L575,275.07 L576,275.2 L577,275.35 L578,275.5 L579,275.65 L580,275.8 L581,275.96 L582,276.12 L583,276.28 L584,276.44 L585,276.6 L586,276.76 L587,276.92 L588,277.07 L589,277.23 L590,277.38 L591,277.52 L592,277.66 L593,277.8 L594,277.93 L595,278.07 L596,278.2 L597,278.32 L598,278.45 L599,278.58 L600,278.7 L601,278.83 L602,278.95 L603,279.07 L604,279.19 L605,279.32 L606,279.44 L607,279.56 L608,279.69 L609,279.82 L610,279.95 L611,280.08 L612,280.21 L613,280.34 L614,280.48 L615,280.62 L616,280.77 L617,280.91 L618,281.06 L619,281.22 L620,281.38 L621,281.54 L622,281.71 L623,281.89 L624,282.07 L625,282.25 L626,282.44 L627,282.64 L628,282.84 L629,283.05 L630,283.27 L631,283.5 L632,283.73 L633,283.98 L634,284.24 L635,284.51 L636,284.79 L637,285.08 L638,285.39 L639,285.72 L640,286.06 L641,286.42 L642,286.79 L643,287.18 L644,287.6 L645,288.03 L646,288.48 L647,288.95 L648,289.45 L649,289.97 L650,290.51 L651,291.08 L652,291.75 L653,292.72 L654,294.18 L655,295.26 L656,296.34 L657,297.43 L658,298.51 L659,299.6 L660,300.68 L661,301.76 L662,302.85 L663,302.69 L664,301.29 L665,299.9 L666,298.5 L667,297.1 L668,295.7 L669,294.3 L669.2,294.02" fill="none" stroke="#cf9a1c" stroke-width="1.15"/>
</g>
<path d="M374,208 v-3 M374,4.5 v3 M404.6,208 v-1.6 M404.6,4.5 v1.6 M422.51,208 v-1.6 M422.51,4.5 v1.6 M435.21,208 v-1.6 M435.21,4.5 v1.6 M445.06,208 v-1.6 M445.06,4.5 v1.6 M453.11,208 v-1.6 M453.11,4.5 v1.6 M459.92,208 v-1.6 M459.92,4.5 v1.6 M465.81,208 v-1.6 M465.81,4.5 v1.6 M471.01,208 v-1.6 M471.01,4.5 v1.6 M475.67,208 v-3 M475.67,4.5 v3 M506.27,208 v-1.6 M506.27,4.5 v1.6 M524.17,208 v-1.6 M524.17,4.5 v1.6 M536.88,208 v-1.6 M536.88,4.5 v1.6 M546.73,208 v-1.6 M546.73,4.5 v1.6 M554.78,208 v-1.6 M554.78,4.5 v1.6 M561.58,208 v-1.6 M561.58,4.5 v1.6 M567.48,208 v-1.6 M567.48,4.5 v1.6 M572.68,208 v-1.6 M572.68,4.5 v1.6 M577.33,208 v-3 M577.33,4.5 v3 M607.94,208 v-1.6 M607.94,4.5 v1.6 M625.84,208 v-1.6 M625.84,4.5 v1.6 M638.54,208 v-1.6 M638.54,4.5 v1.6 M648.4,208 v-1.6 M648.4,4.5 v1.6 M656.45,208 v-1.6 M656.45,4.5 v1.6 M663.25,208 v-1.6 M663.25,4.5 v1.6 M669.15,208 v-1.6 M669.15,4.5 v1.6 M674.35,208 v-1.6 M674.35,4.5 v1.6 M679,208 v-3 M679,4.5 v3 M374,208 h3 M679,208 h-3 M374,174.08 h3 M679,174.08 h-3 M374,140.17 h3 M679,140.17 h-3 M374,106.25 h3 M679,106.25 h-3 M374,72.33 h3 M679,72.33 h-3 M374,38.42 h3 M679,38.42 h-3 M374,4.5 h3 M679,4.5 h-3" stroke="#606060" stroke-width="0.8" fill="none"/>
<path d="M373.5,4.5 H679.5 M373.5,208 H679.5" stroke="#505050" stroke-width="1.2" fill="none"/>
<path d="M374,4.5 V208 M679,4.5 V208" stroke="#7a7a7a" stroke-width="1.4" fill="none"/>
<text transform="translate(374,217.5) scale(0.86,1)" font-size="8.8" text-anchor="middle" fill="#111">10<tspan font-size="5.2" dy="-4.2">-3</tspan></text>
<text transform="translate(475.67,217.5) scale(0.86,1)" font-size="8.8" text-anchor="middle" fill="#111">10<tspan font-size="5.2" dy="-4.2">-2</tspan></text>
<text transform="translate(577.33,217.5) scale(0.86,1)" font-size="8.8" text-anchor="middle" fill="#111">10<tspan font-size="5.2" dy="-4.2">-1</tspan></text>
<text transform="translate(679,217.5) scale(0.86,1)" font-size="8.8" text-anchor="middle" fill="#111">10<tspan font-size="5.2" dy="-4.2">0</tspan></text>
<text transform="translate(372.7,210.6) scale(0.88,1)" font-size="8.8" text-anchor="end" fill="#111">0.0</text>
<text transform="translate(372.7,176.68) scale(0.88,1)" font-size="8.8" text-anchor="end" fill="#111">0.1</text>
<text transform="translate(372.7,142.77) scale(0.88,1)" font-size="8.8" text-anchor="end" fill="#111">0.2</text>
<text transform="translate(372.7,108.85) scale(0.88,1)" font-size="8.8" text-anchor="end" fill="#111">0.3</text>
<text transform="translate(372.7,74.93) scale(0.88,1)" font-size="8.8" text-anchor="end" fill="#111">0.4</text>
<text transform="translate(372.7,41.02) scale(0.88,1)" font-size="8.8" text-anchor="end" fill="#111">0.5</text>
<text transform="translate(372.7,7.1) scale(0.88,1)" font-size="8.8" text-anchor="end" fill="#111">0.6</text>
<path d="M374,319 v-3 M374,226.5 v3 M404.6,319 v-1.6 M404.6,226.5 v1.6 M422.51,319 v-1.6 M422.51,226.5 v1.6 M435.21,319 v-1.6 M435.21,226.5 v1.6 M445.06,319 v-1.6 M445.06,226.5 v1.6 M453.11,319 v-1.6 M453.11,226.5 v1.6 M459.92,319 v-1.6 M459.92,226.5 v1.6 M465.81,319 v-1.6 M465.81,226.5 v1.6 M471.01,319 v-1.6 M471.01,226.5 v1.6 M475.67,319 v-3 M475.67,226.5 v3 M506.27,319 v-1.6 M506.27,226.5 v1.6 M524.17,319 v-1.6 M524.17,226.5 v1.6 M536.88,319 v-1.6 M536.88,226.5 v1.6 M546.73,319 v-1.6 M546.73,226.5 v1.6 M554.78,319 v-1.6 M554.78,226.5 v1.6 M561.58,319 v-1.6 M561.58,226.5 v1.6 M567.48,319 v-1.6 M567.48,226.5 v1.6 M572.68,319 v-1.6 M572.68,226.5 v1.6 M577.33,319 v-3 M577.33,226.5 v3 M607.94,319 v-1.6 M607.94,226.5 v1.6 M625.84,319 v-1.6 M625.84,226.5 v1.6 M638.54,319 v-1.6 M638.54,226.5 v1.6 M648.4,319 v-1.6 M648.4,226.5 v1.6 M656.45,319 v-1.6 M656.45,226.5 v1.6 M663.25,319 v-1.6 M663.25,226.5 v1.6 M669.15,319 v-1.6 M669.15,226.5 v1.6 M674.35,319 v-1.6 M674.35,226.5 v1.6 M679,319 v-3 M679,226.5 v3 M374,319 h3 M679,319 h-3 M374,307.44 h3 M679,307.44 h-3 M374,295.88 h3 M679,295.88 h-3 M374,284.31 h3 M679,284.31 h-3 M374,272.75 h3 M679,272.75 h-3 M374,261.19 h3 M679,261.19 h-3 M374,249.62 h3 M679,249.62 h-3 M374,238.06 h3 M679,238.06 h-3 M374,226.5 h3 M679,226.5 h-3" stroke="#606060" stroke-width="0.8" fill="none"/>
<path d="M373.5,226.5 H679.5 M373.5,319 H679.5" stroke="#505050" stroke-width="1.2" fill="none"/>
<path d="M374,226.5 V319 M679,226.5 V319" stroke="#7a7a7a" stroke-width="1.4" fill="none"/>
<text transform="translate(374,328.5) scale(0.86,1)" font-size="8.8" text-anchor="middle" fill="#111">10<tspan font-size="5.2" dy="-4.2">-3</tspan></text>
<text transform="translate(475.67,328.5) scale(0.86,1)" font-size="8.8" text-anchor="middle" fill="#111">10<tspan font-size="5.2" dy="-4.2">-2</tspan></text>
<text transform="translate(577.33,328.5) scale(0.86,1)" font-size="8.8" text-anchor="middle" fill="#111">10<tspan font-size="5.2" dy="-4.2">-1</tspan></text>
<text transform="translate(679,328.5) scale(0.86,1)" font-size="8.8" text-anchor="middle" fill="#111">10<tspan font-size="5.2" dy="-4.2">0</tspan></text>
<text transform="translate(372.7,321.6) scale(0.88,1)" font-size="8.8" text-anchor="end" fill="#111">0.6</text>
<text transform="translate(372.7,310.04) scale(0.88,1)" font-size="8.8" text-anchor="end" fill="#111">0.7</text>
<text transform="translate(372.7,298.48) scale(0.88,1)" font-size="8.8" text-anchor="end" fill="#111">0.8</text>
<text transform="translate(372.7,286.91) scale(0.88,1)" font-size="8.8" text-anchor="end" fill="#111">0.9</text>
<text transform="translate(372.7,275.35) scale(0.88,1)" font-size="8.8" text-anchor="end" fill="#111">1.0</text>
<text transform="translate(372.7,263.79) scale(0.88,1)" font-size="8.8" text-anchor="end" fill="#111">1.1</text>
<text transform="translate(372.7,252.22) scale(0.88,1)" font-size="8.8" text-anchor="end" fill="#111">1.2</text>
<text transform="translate(372.7,240.66) scale(0.88,1)" font-size="8.8" text-anchor="end" fill="#111">1.3</text>
<text transform="translate(372.7,229.1) scale(0.88,1)" font-size="8.8" text-anchor="end" fill="#111">1.4</text>
<text transform="translate(357.7,106.7) rotate(-90)" font-family="Liberation Serif" font-style="italic" font-size="12.5" text-anchor="middle" fill="#111" style="stroke-width:0.05px" textLength="27.4" lengthAdjust="spacingAndGlyphs">xs(x)</text>
<path transform="translate(354.0,273) rotate(-90)" d="M-4.5,-2.5 C-4,-3.5 -2.5,-4.3 -1.5,-4 M-1.5,-4 C-2,-1 -2.5,1.5 -3.25,3.5 M-1.5,-4 C0,-4.8 3.5,-4.2 3.5,-2.8 C3.5,-1.6 1.8,-1.3 0.5,-1.5 M0.5,-1.5 C1.2,0 1.5,2 2.5,3.3 C3.3,4.2 4.5,3.5 4.75,2.5" fill="none" stroke="#111" stroke-width="1.05" stroke-linecap="round"/>
<text x="526.2" y="340.5" font-family="Liberation Serif" font-style="italic" font-size="12" text-anchor="middle" fill="#111" style="stroke-width:0.1px">x</text>
<text x="501.7" y="357.0" font-family="Liberation Serif" font-size="13" fill="#111" style="stroke-width:0.12px" textLength="56.1" lengthAdjust="spacingAndGlyphs"><tspan font-weight="bold">(b)</tspan> <tspan font-style="italic">s</tspan> PDF</text>
<rect x="581.4" y="9.0" width="94" height="40.2" fill="#fff" stroke="#606060" stroke-width="1"/>
<text x="585.2" y="18.8" font-family="Liberation Serif" font-size="9.2" fill="#111" textLength="86.3" lengthAdjust="spacingAndGlyphs"><tspan font-style="italic">Q</tspan> = 10 GeV, Nrep = 10000</text>
<path d="M597.4,27.6 h10.9" stroke="#2f6fd6" stroke-width="1.8" stroke-dasharray="4 2.6"/>
<path d="M597.4,40.2 h13.5" stroke="#cf9a1c" stroke-width="1.6"/>
<text x="620.5" y="29.8" font-family="Liberation Serif" font-size="9.2" fill="#111" textLength="40.4" lengthAdjust="spacingAndGlyphs">before rew.</text>
<text x="620.5" y="43.3" font-family="Liberation Serif" font-size="9.2" fill="#111" textLength="34" lengthAdjust="spacingAndGlyphs">after rew.</text>
</svg>
</body></html>
